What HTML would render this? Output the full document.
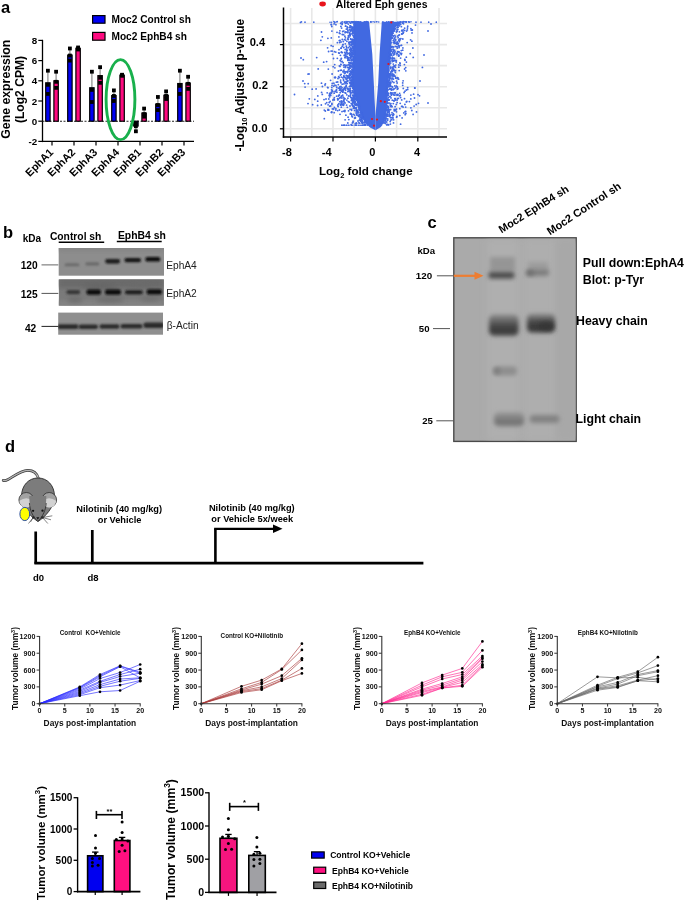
<!DOCTYPE html>
<html><head><meta charset="utf-8"><style>
html,body{margin:0;padding:0;background:#fff;}
svg{display:block;will-change:transform;}
text{font-family:"Liberation Sans",sans-serif;}
</style></head><body>
<svg width="685" height="902" viewBox="0 0 685 902">
<rect width="685" height="902" fill="#fff"/>
<text x="1.00" y="13.10" font-size="16.5" font-weight="bold" text-anchor="start" fill="#000" >a</text>
<line x1="42.50" y1="39.80" x2="42.50" y2="142.10" stroke="#000" stroke-width="1.3" />
<line x1="38.30" y1="40.40" x2="42.50" y2="40.40" stroke="#000" stroke-width="1.2" />
<text x="37.30" y="43.90" font-size="9.8" font-weight="bold" text-anchor="end" fill="#000" >8</text>
<line x1="38.30" y1="60.60" x2="42.50" y2="60.60" stroke="#000" stroke-width="1.2" />
<text x="37.30" y="64.10" font-size="9.8" font-weight="bold" text-anchor="end" fill="#000" >6</text>
<line x1="38.30" y1="80.80" x2="42.50" y2="80.80" stroke="#000" stroke-width="1.2" />
<text x="37.30" y="84.30" font-size="9.8" font-weight="bold" text-anchor="end" fill="#000" >4</text>
<line x1="38.30" y1="101.00" x2="42.50" y2="101.00" stroke="#000" stroke-width="1.2" />
<text x="37.30" y="104.50" font-size="9.8" font-weight="bold" text-anchor="end" fill="#000" >2</text>
<line x1="38.30" y1="121.20" x2="42.50" y2="121.20" stroke="#000" stroke-width="1.2" />
<text x="37.30" y="124.70" font-size="9.8" font-weight="bold" text-anchor="end" fill="#000" >0</text>
<line x1="38.30" y1="141.40" x2="42.50" y2="141.40" stroke="#000" stroke-width="1.2" />
<text x="37.30" y="144.90" font-size="9.8" font-weight="bold" text-anchor="end" fill="#000" >-2</text>
<line x1="41.90" y1="141.40" x2="194.00" y2="141.40" stroke="#000" stroke-width="1.4" />
<line x1="42.50" y1="121.20" x2="194.00" y2="121.20" stroke="#222" stroke-width="1.1" stroke-dasharray="2,1.5"/>
<line x1="52.00" y1="141.40" x2="52.00" y2="145.40" stroke="#000" stroke-width="1.2" />
<line x1="47.90" y1="82.82" x2="47.90" y2="70.70" stroke="#8a8a8a" stroke-width="1.2" />
<rect x="45.70" y="82.82" width="4.40" height="38.38" fill="#0000f5" stroke="#000" stroke-width="1.2" />
<rect x="46.00" y="68.80" width="3.80" height="3.80" fill="#000" stroke="none" stroke-width="0" />
<rect x="46.00" y="82.94" width="3.80" height="3.80" fill="#000" stroke="none" stroke-width="0" />
<rect x="46.00" y="92.03" width="3.80" height="3.80" fill="#000" stroke="none" stroke-width="0" />
<line x1="56.10" y1="80.80" x2="56.10" y2="71.71" stroke="#8a8a8a" stroke-width="1.2" />
<rect x="53.90" y="80.80" width="4.40" height="40.40" fill="#ff0a80" stroke="#000" stroke-width="1.2" />
<rect x="54.20" y="69.81" width="3.80" height="3.80" fill="#000" stroke="none" stroke-width="0" />
<rect x="54.20" y="79.91" width="3.80" height="3.80" fill="#000" stroke="none" stroke-width="0" />
<rect x="54.20" y="85.97" width="3.80" height="3.80" fill="#000" stroke="none" stroke-width="0" />
<text transform="translate(54.00,153.00) rotate(-45)" font-size="10.8" font-weight="bold" text-anchor="end">EphA1</text>
<line x1="74.00" y1="141.40" x2="74.00" y2="145.40" stroke="#000" stroke-width="1.2" />
<line x1="69.90" y1="55.05" x2="69.90" y2="48.48" stroke="#8a8a8a" stroke-width="1.2" />
<rect x="67.70" y="55.05" width="4.40" height="66.16" fill="#0000f5" stroke="#000" stroke-width="1.2" />
<rect x="68.00" y="46.58" width="3.80" height="3.80" fill="#000" stroke="none" stroke-width="0" />
<rect x="68.00" y="53.65" width="3.80" height="3.80" fill="#000" stroke="none" stroke-width="0" />
<rect x="68.00" y="58.70" width="3.80" height="3.80" fill="#000" stroke="none" stroke-width="0" />
<line x1="78.10" y1="48.28" x2="78.10" y2="47.47" stroke="#8a8a8a" stroke-width="1.2" />
<rect x="75.90" y="48.28" width="4.40" height="72.92" fill="#ff0a80" stroke="#000" stroke-width="1.2" />
<rect x="76.20" y="45.57" width="3.80" height="3.80" fill="#000" stroke="none" stroke-width="0" />
<rect x="76.20" y="46.58" width="3.80" height="3.80" fill="#000" stroke="none" stroke-width="0" />
<rect x="76.20" y="47.59" width="3.80" height="3.80" fill="#000" stroke="none" stroke-width="0" />
<text transform="translate(76.00,153.00) rotate(-45)" font-size="10.8" font-weight="bold" text-anchor="end">EphA2</text>
<line x1="96.00" y1="141.40" x2="96.00" y2="145.40" stroke="#000" stroke-width="1.2" />
<line x1="91.90" y1="87.77" x2="91.90" y2="71.71" stroke="#8a8a8a" stroke-width="1.2" />
<rect x="89.70" y="87.77" width="4.40" height="33.43" fill="#0000f5" stroke="#000" stroke-width="1.2" />
<rect x="90.00" y="69.81" width="3.80" height="3.80" fill="#000" stroke="none" stroke-width="0" />
<rect x="90.00" y="87.99" width="3.80" height="3.80" fill="#000" stroke="none" stroke-width="0" />
<rect x="90.00" y="100.11" width="3.80" height="3.80" fill="#000" stroke="none" stroke-width="0" />
<line x1="100.10" y1="75.65" x2="100.10" y2="67.17" stroke="#8a8a8a" stroke-width="1.2" />
<rect x="97.90" y="75.65" width="4.40" height="45.55" fill="#ff0a80" stroke="#000" stroke-width="1.2" />
<rect x="98.20" y="65.27" width="3.80" height="3.80" fill="#000" stroke="none" stroke-width="0" />
<rect x="98.20" y="75.87" width="3.80" height="3.80" fill="#000" stroke="none" stroke-width="0" />
<rect x="98.20" y="80.92" width="3.80" height="3.80" fill="#000" stroke="none" stroke-width="0" />
<text transform="translate(98.00,153.00) rotate(-45)" font-size="10.8" font-weight="bold" text-anchor="end">EphA3</text>
<line x1="118.00" y1="141.40" x2="118.00" y2="145.40" stroke="#000" stroke-width="1.2" />
<line x1="113.90" y1="95.55" x2="113.90" y2="90.40" stroke="#8a8a8a" stroke-width="1.2" />
<rect x="111.70" y="95.55" width="4.40" height="25.65" fill="#0000f5" stroke="#000" stroke-width="1.2" />
<rect x="112.00" y="88.50" width="3.80" height="3.80" fill="#000" stroke="none" stroke-width="0" />
<rect x="112.00" y="94.05" width="3.80" height="3.80" fill="#000" stroke="none" stroke-width="0" />
<rect x="112.00" y="99.10" width="3.80" height="3.80" fill="#000" stroke="none" stroke-width="0" />
<line x1="122.10" y1="75.14" x2="122.10" y2="74.74" stroke="#8a8a8a" stroke-width="1.2" />
<rect x="119.90" y="75.14" width="4.40" height="46.06" fill="#ff0a80" stroke="#000" stroke-width="1.2" />
<rect x="120.20" y="72.84" width="3.80" height="3.80" fill="#000" stroke="none" stroke-width="0" />
<rect x="120.20" y="73.34" width="3.80" height="3.80" fill="#000" stroke="none" stroke-width="0" />
<rect x="120.20" y="73.85" width="3.80" height="3.80" fill="#000" stroke="none" stroke-width="0" />
<text transform="translate(120.00,153.00) rotate(-45)" font-size="10.8" font-weight="bold" text-anchor="end">EphA4</text>
<line x1="140.00" y1="141.40" x2="140.00" y2="145.40" stroke="#000" stroke-width="1.2" />
<line x1="135.90" y1="126.05" x2="135.90" y2="131.30" stroke="#8a8a8a" stroke-width="1.2" />
<rect x="133.70" y="121.20" width="4.40" height="4.85" fill="#0000f5" stroke="#000" stroke-width="1.2" />
<rect x="134.00" y="121.32" width="3.80" height="3.80" fill="#000" stroke="none" stroke-width="0" />
<rect x="134.00" y="124.35" width="3.80" height="3.80" fill="#000" stroke="none" stroke-width="0" />
<rect x="134.00" y="129.40" width="3.80" height="3.80" fill="#000" stroke="none" stroke-width="0" />
<line x1="144.10" y1="113.02" x2="144.10" y2="108.58" stroke="#8a8a8a" stroke-width="1.2" />
<rect x="141.90" y="113.02" width="4.40" height="8.18" fill="#ff0a80" stroke="#000" stroke-width="1.2" />
<rect x="142.20" y="106.67" width="3.80" height="3.80" fill="#000" stroke="none" stroke-width="0" />
<rect x="142.20" y="112.23" width="3.80" height="3.80" fill="#000" stroke="none" stroke-width="0" />
<rect x="142.20" y="114.75" width="3.80" height="3.80" fill="#000" stroke="none" stroke-width="0" />
<text transform="translate(142.00,153.00) rotate(-45)" font-size="10.8" font-weight="bold" text-anchor="end">EphB1</text>
<line x1="162.00" y1="141.40" x2="162.00" y2="145.40" stroke="#000" stroke-width="1.2" />
<line x1="157.90" y1="104.03" x2="157.90" y2="96.96" stroke="#8a8a8a" stroke-width="1.2" />
<rect x="155.70" y="104.03" width="4.40" height="17.17" fill="#0000f5" stroke="#000" stroke-width="1.2" />
<rect x="156.00" y="95.06" width="3.80" height="3.80" fill="#000" stroke="none" stroke-width="0" />
<rect x="156.00" y="103.14" width="3.80" height="3.80" fill="#000" stroke="none" stroke-width="0" />
<rect x="156.00" y="108.19" width="3.80" height="3.80" fill="#000" stroke="none" stroke-width="0" />
<line x1="166.10" y1="95.24" x2="166.10" y2="91.41" stroke="#8a8a8a" stroke-width="1.2" />
<rect x="163.90" y="95.24" width="4.40" height="25.96" fill="#ff0a80" stroke="#000" stroke-width="1.2" />
<rect x="164.20" y="89.50" width="3.80" height="3.80" fill="#000" stroke="none" stroke-width="0" />
<rect x="164.20" y="94.05" width="3.80" height="3.80" fill="#000" stroke="none" stroke-width="0" />
<rect x="164.20" y="97.08" width="3.80" height="3.80" fill="#000" stroke="none" stroke-width="0" />
<text transform="translate(164.00,153.00) rotate(-45)" font-size="10.8" font-weight="bold" text-anchor="end">EphB2</text>
<line x1="184.00" y1="141.40" x2="184.00" y2="145.40" stroke="#000" stroke-width="1.2" />
<line x1="179.90" y1="83.53" x2="179.90" y2="70.70" stroke="#8a8a8a" stroke-width="1.2" />
<rect x="177.70" y="83.53" width="4.40" height="37.67" fill="#0000f5" stroke="#000" stroke-width="1.2" />
<rect x="178.00" y="68.80" width="3.80" height="3.80" fill="#000" stroke="none" stroke-width="0" />
<rect x="178.00" y="83.95" width="3.80" height="3.80" fill="#000" stroke="none" stroke-width="0" />
<rect x="178.00" y="92.03" width="3.80" height="3.80" fill="#000" stroke="none" stroke-width="0" />
<line x1="188.10" y1="83.02" x2="188.10" y2="76.76" stroke="#8a8a8a" stroke-width="1.2" />
<rect x="185.90" y="83.02" width="4.40" height="38.18" fill="#ff0a80" stroke="#000" stroke-width="1.2" />
<rect x="186.20" y="74.86" width="3.80" height="3.80" fill="#000" stroke="none" stroke-width="0" />
<rect x="186.20" y="81.93" width="3.80" height="3.80" fill="#000" stroke="none" stroke-width="0" />
<rect x="186.20" y="86.98" width="3.80" height="3.80" fill="#000" stroke="none" stroke-width="0" />
<text transform="translate(186.00,153.00) rotate(-45)" font-size="10.8" font-weight="bold" text-anchor="end">EphB3</text>
<ellipse cx="120.5" cy="99.6" rx="14.4" ry="40.0" fill="none" stroke="#19b04c" stroke-width="2.9"/>
<rect x="92.60" y="15.60" width="12.40" height="7.60" fill="#0000f5" stroke="#000" stroke-width="1.2" />
<rect x="92.60" y="32.40" width="12.40" height="7.80" fill="#ff0a80" stroke="#000" stroke-width="1.2" />
<text x="111.50" y="22.60" font-size="10.15" font-weight="bold" text-anchor="start" fill="#000" >Moc2 Control sh</text>
<text x="111.50" y="39.60" font-size="10.15" font-weight="bold" text-anchor="start" fill="#000" >Moc2 EphB4 sh</text>
<text transform="translate(10.4,89.2) rotate(-90)" font-size="12.3" font-weight="bold" text-anchor="middle">Gene expression</text>
<text transform="translate(23.9,89.5) rotate(-90)" font-size="12.1" font-weight="bold" text-anchor="middle">(Log2 CPM)</text>
<line x1="290.60" y1="8.00" x2="290.60" y2="137.00" stroke="#e8e8e8" stroke-width="1.6" />
<line x1="311.80" y1="8.00" x2="311.80" y2="137.00" stroke="#e8e8e8" stroke-width="1.6" />
<line x1="333.00" y1="8.00" x2="333.00" y2="137.00" stroke="#e8e8e8" stroke-width="1.6" />
<line x1="354.20" y1="8.00" x2="354.20" y2="137.00" stroke="#e8e8e8" stroke-width="1.6" />
<line x1="375.40" y1="8.00" x2="375.40" y2="137.00" stroke="#e8e8e8" stroke-width="1.6" />
<line x1="396.60" y1="8.00" x2="396.60" y2="137.00" stroke="#e8e8e8" stroke-width="1.6" />
<line x1="417.80" y1="8.00" x2="417.80" y2="137.00" stroke="#e8e8e8" stroke-width="1.6" />
<line x1="439.00" y1="8.00" x2="439.00" y2="137.00" stroke="#e8e8e8" stroke-width="1.6" />
<line x1="283.50" y1="128.80" x2="447.00" y2="128.80" stroke="#e8e8e8" stroke-width="1.6" />
<line x1="283.50" y1="107.75" x2="447.00" y2="107.75" stroke="#e8e8e8" stroke-width="1.6" />
<line x1="283.50" y1="86.70" x2="447.00" y2="86.70" stroke="#e8e8e8" stroke-width="1.6" />
<line x1="283.50" y1="65.65" x2="447.00" y2="65.65" stroke="#e8e8e8" stroke-width="1.6" />
<line x1="283.50" y1="44.60" x2="447.00" y2="44.60" stroke="#e8e8e8" stroke-width="1.6" />
<line x1="283.50" y1="23.55" x2="447.00" y2="23.55" stroke="#e8e8e8" stroke-width="1.6" />
<polygon points="353.4,21.7 354,39 352.6,68 351.2,83 355.5,97.6 360,112 365,122.4 370,127.5 375.5,130.2 375.5,116 374.6,100 373.8,83 372.3,54 369.1,21.7" fill="#4169e1"/>
<polygon points="381.8,21.7 379.6,54 378.2,83 376.8,100 375.5,116 375.5,130.2 381,127 385.5,118 387.7,97.6 388.4,83 390.5,54 392,35 395,28 401,21.7" fill="#4169e1"/>
<circle cx="349.6" cy="46.5" r="0.92" fill="#4169e1"/>
<circle cx="348.0" cy="60.1" r="0.92" fill="#4169e1"/>
<circle cx="353.2" cy="86.4" r="0.92" fill="#4169e1"/>
<circle cx="342.2" cy="23.4" r="0.92" fill="#4169e1"/>
<circle cx="353.2" cy="48.7" r="0.92" fill="#4169e1"/>
<circle cx="364.2" cy="124.6" r="0.92" fill="#4169e1"/>
<circle cx="355.8" cy="108.2" r="0.92" fill="#4169e1"/>
<circle cx="353.0" cy="87.8" r="0.92" fill="#4169e1"/>
<circle cx="339.8" cy="87.4" r="0.92" fill="#4169e1"/>
<circle cx="343.9" cy="75.9" r="0.92" fill="#4169e1"/>
<circle cx="354.6" cy="91.2" r="0.92" fill="#4169e1"/>
<circle cx="351.5" cy="100.1" r="0.92" fill="#4169e1"/>
<circle cx="354.6" cy="53.0" r="0.92" fill="#4169e1"/>
<circle cx="356.8" cy="111.1" r="0.92" fill="#4169e1"/>
<circle cx="341.8" cy="96.0" r="0.92" fill="#4169e1"/>
<circle cx="338.6" cy="95.6" r="0.92" fill="#4169e1"/>
<circle cx="343.1" cy="62.7" r="0.92" fill="#4169e1"/>
<circle cx="334.9" cy="67.8" r="0.92" fill="#4169e1"/>
<circle cx="361.0" cy="112.5" r="0.92" fill="#4169e1"/>
<circle cx="353.7" cy="36.0" r="0.92" fill="#4169e1"/>
<circle cx="362.0" cy="121.4" r="0.92" fill="#4169e1"/>
<circle cx="351.2" cy="86.5" r="0.92" fill="#4169e1"/>
<circle cx="350.1" cy="74.2" r="0.92" fill="#4169e1"/>
<circle cx="348.4" cy="58.1" r="0.92" fill="#4169e1"/>
<circle cx="336.4" cy="82.2" r="0.92" fill="#4169e1"/>
<circle cx="336.9" cy="92.2" r="0.92" fill="#4169e1"/>
<circle cx="328.0" cy="110.2" r="0.92" fill="#4169e1"/>
<circle cx="353.9" cy="91.1" r="0.92" fill="#4169e1"/>
<circle cx="337.7" cy="110.6" r="0.92" fill="#4169e1"/>
<circle cx="357.1" cy="115.2" r="0.92" fill="#4169e1"/>
<circle cx="354.7" cy="95.5" r="0.92" fill="#4169e1"/>
<circle cx="354.2" cy="107.7" r="0.92" fill="#4169e1"/>
<circle cx="354.4" cy="51.4" r="0.92" fill="#4169e1"/>
<circle cx="328.8" cy="110.0" r="0.92" fill="#4169e1"/>
<circle cx="343.9" cy="31.1" r="0.92" fill="#4169e1"/>
<circle cx="353.1" cy="64.3" r="0.92" fill="#4169e1"/>
<circle cx="344.6" cy="52.3" r="0.92" fill="#4169e1"/>
<circle cx="361.2" cy="111.9" r="0.92" fill="#4169e1"/>
<circle cx="353.1" cy="85.3" r="0.92" fill="#4169e1"/>
<circle cx="353.7" cy="96.0" r="0.92" fill="#4169e1"/>
<circle cx="334.2" cy="112.7" r="0.92" fill="#4169e1"/>
<circle cx="308.0" cy="74.1" r="0.92" fill="#4169e1"/>
<circle cx="354.2" cy="53.9" r="0.92" fill="#4169e1"/>
<circle cx="352.7" cy="83.8" r="0.92" fill="#4169e1"/>
<circle cx="351.7" cy="42.3" r="0.92" fill="#4169e1"/>
<circle cx="352.1" cy="84.9" r="0.92" fill="#4169e1"/>
<circle cx="340.9" cy="26.4" r="0.92" fill="#4169e1"/>
<circle cx="332.5" cy="54.3" r="0.92" fill="#4169e1"/>
<circle cx="359.3" cy="114.4" r="0.92" fill="#4169e1"/>
<circle cx="348.8" cy="69.4" r="0.92" fill="#4169e1"/>
<circle cx="347.9" cy="88.3" r="0.92" fill="#4169e1"/>
<circle cx="346.2" cy="79.6" r="0.92" fill="#4169e1"/>
<circle cx="359.9" cy="118.9" r="0.92" fill="#4169e1"/>
<circle cx="345.3" cy="66.4" r="0.92" fill="#4169e1"/>
<circle cx="352.6" cy="46.5" r="0.92" fill="#4169e1"/>
<circle cx="361.7" cy="122.7" r="0.92" fill="#4169e1"/>
<circle cx="353.0" cy="78.5" r="0.92" fill="#4169e1"/>
<circle cx="348.2" cy="64.8" r="0.92" fill="#4169e1"/>
<circle cx="348.3" cy="24.1" r="0.92" fill="#4169e1"/>
<circle cx="353.5" cy="87.1" r="0.92" fill="#4169e1"/>
<circle cx="349.4" cy="86.6" r="0.92" fill="#4169e1"/>
<circle cx="352.3" cy="92.0" r="0.92" fill="#4169e1"/>
<circle cx="346.8" cy="94.8" r="0.92" fill="#4169e1"/>
<circle cx="354.6" cy="24.3" r="0.92" fill="#4169e1"/>
<circle cx="332.1" cy="91.6" r="0.92" fill="#4169e1"/>
<circle cx="350.8" cy="47.9" r="0.92" fill="#4169e1"/>
<circle cx="350.0" cy="83.0" r="0.92" fill="#4169e1"/>
<circle cx="351.9" cy="59.5" r="0.92" fill="#4169e1"/>
<circle cx="348.1" cy="60.0" r="0.92" fill="#4169e1"/>
<circle cx="351.5" cy="52.9" r="0.92" fill="#4169e1"/>
<circle cx="358.0" cy="101.5" r="0.92" fill="#4169e1"/>
<circle cx="343.6" cy="80.6" r="0.92" fill="#4169e1"/>
<circle cx="353.0" cy="53.9" r="0.92" fill="#4169e1"/>
<circle cx="357.3" cy="104.8" r="0.92" fill="#4169e1"/>
<circle cx="351.4" cy="41.3" r="0.92" fill="#4169e1"/>
<circle cx="355.2" cy="93.9" r="0.92" fill="#4169e1"/>
<circle cx="351.9" cy="55.2" r="0.92" fill="#4169e1"/>
<circle cx="356.2" cy="107.9" r="0.92" fill="#4169e1"/>
<circle cx="359.6" cy="110.1" r="0.92" fill="#4169e1"/>
<circle cx="347.3" cy="56.7" r="0.92" fill="#4169e1"/>
<circle cx="357.9" cy="113.1" r="0.92" fill="#4169e1"/>
<circle cx="354.3" cy="45.2" r="0.92" fill="#4169e1"/>
<circle cx="351.8" cy="76.6" r="0.92" fill="#4169e1"/>
<circle cx="346.6" cy="105.1" r="0.92" fill="#4169e1"/>
<circle cx="353.1" cy="40.9" r="0.92" fill="#4169e1"/>
<circle cx="352.2" cy="105.1" r="0.92" fill="#4169e1"/>
<circle cx="356.4" cy="105.0" r="0.92" fill="#4169e1"/>
<circle cx="353.0" cy="35.4" r="0.92" fill="#4169e1"/>
<circle cx="356.7" cy="103.8" r="0.92" fill="#4169e1"/>
<circle cx="350.8" cy="57.7" r="0.92" fill="#4169e1"/>
<circle cx="350.5" cy="65.2" r="0.92" fill="#4169e1"/>
<circle cx="362.6" cy="116.8" r="0.92" fill="#4169e1"/>
<circle cx="334.8" cy="22.5" r="0.92" fill="#4169e1"/>
<circle cx="331.5" cy="112.6" r="0.92" fill="#4169e1"/>
<circle cx="333.2" cy="66.7" r="0.92" fill="#4169e1"/>
<circle cx="362.4" cy="117.5" r="0.92" fill="#4169e1"/>
<circle cx="344.7" cy="98.8" r="0.92" fill="#4169e1"/>
<circle cx="349.7" cy="90.3" r="0.92" fill="#4169e1"/>
<circle cx="352.0" cy="51.8" r="0.92" fill="#4169e1"/>
<circle cx="354.7" cy="45.4" r="0.92" fill="#4169e1"/>
<circle cx="350.4" cy="82.6" r="0.92" fill="#4169e1"/>
<circle cx="359.1" cy="105.4" r="0.92" fill="#4169e1"/>
<circle cx="354.7" cy="115.1" r="0.92" fill="#4169e1"/>
<circle cx="348.1" cy="117.2" r="0.92" fill="#4169e1"/>
<circle cx="356.8" cy="114.7" r="0.92" fill="#4169e1"/>
<circle cx="345.4" cy="23.4" r="0.92" fill="#4169e1"/>
<circle cx="353.0" cy="39.7" r="0.92" fill="#4169e1"/>
<circle cx="349.6" cy="90.3" r="0.92" fill="#4169e1"/>
<circle cx="334.7" cy="64.6" r="0.92" fill="#4169e1"/>
<circle cx="350.4" cy="85.1" r="0.92" fill="#4169e1"/>
<circle cx="341.2" cy="48.0" r="0.92" fill="#4169e1"/>
<circle cx="343.1" cy="71.2" r="0.92" fill="#4169e1"/>
<circle cx="353.0" cy="58.2" r="0.92" fill="#4169e1"/>
<circle cx="341.4" cy="77.1" r="0.92" fill="#4169e1"/>
<circle cx="344.5" cy="39.6" r="0.92" fill="#4169e1"/>
<circle cx="352.4" cy="116.9" r="0.92" fill="#4169e1"/>
<circle cx="359.8" cy="106.8" r="0.92" fill="#4169e1"/>
<circle cx="339.9" cy="86.7" r="0.92" fill="#4169e1"/>
<circle cx="352.9" cy="27.1" r="0.92" fill="#4169e1"/>
<circle cx="349.7" cy="49.7" r="0.92" fill="#4169e1"/>
<circle cx="349.7" cy="65.6" r="0.92" fill="#4169e1"/>
<circle cx="358.4" cy="102.0" r="0.92" fill="#4169e1"/>
<circle cx="354.2" cy="27.6" r="0.92" fill="#4169e1"/>
<circle cx="354.9" cy="34.8" r="0.92" fill="#4169e1"/>
<circle cx="353.0" cy="122.4" r="0.92" fill="#4169e1"/>
<circle cx="350.3" cy="30.9" r="0.92" fill="#4169e1"/>
<circle cx="352.1" cy="54.5" r="0.92" fill="#4169e1"/>
<circle cx="347.3" cy="58.2" r="0.92" fill="#4169e1"/>
<circle cx="349.6" cy="82.4" r="0.92" fill="#4169e1"/>
<circle cx="352.6" cy="41.7" r="0.92" fill="#4169e1"/>
<circle cx="349.7" cy="34.7" r="0.92" fill="#4169e1"/>
<circle cx="353.1" cy="95.8" r="0.92" fill="#4169e1"/>
<circle cx="353.8" cy="30.2" r="0.92" fill="#4169e1"/>
<circle cx="348.0" cy="60.4" r="0.92" fill="#4169e1"/>
<circle cx="355.2" cy="102.6" r="0.92" fill="#4169e1"/>
<circle cx="352.3" cy="104.5" r="0.92" fill="#4169e1"/>
<circle cx="350.9" cy="66.5" r="0.92" fill="#4169e1"/>
<circle cx="345.1" cy="73.1" r="0.92" fill="#4169e1"/>
<circle cx="345.9" cy="65.3" r="0.92" fill="#4169e1"/>
<circle cx="352.0" cy="69.5" r="0.92" fill="#4169e1"/>
<circle cx="344.9" cy="77.2" r="0.92" fill="#4169e1"/>
<circle cx="351.3" cy="29.4" r="0.92" fill="#4169e1"/>
<circle cx="339.4" cy="65.9" r="0.92" fill="#4169e1"/>
<circle cx="361.3" cy="118.5" r="0.92" fill="#4169e1"/>
<circle cx="351.7" cy="114.5" r="0.92" fill="#4169e1"/>
<circle cx="350.6" cy="49.0" r="0.92" fill="#4169e1"/>
<circle cx="343.6" cy="34.7" r="0.92" fill="#4169e1"/>
<circle cx="339.5" cy="90.2" r="0.92" fill="#4169e1"/>
<circle cx="351.2" cy="103.6" r="0.92" fill="#4169e1"/>
<circle cx="351.2" cy="97.6" r="0.92" fill="#4169e1"/>
<circle cx="349.1" cy="32.6" r="0.92" fill="#4169e1"/>
<circle cx="353.8" cy="22.5" r="0.92" fill="#4169e1"/>
<circle cx="358.0" cy="101.8" r="0.92" fill="#4169e1"/>
<circle cx="354.5" cy="31.5" r="0.92" fill="#4169e1"/>
<circle cx="360.4" cy="112.7" r="0.92" fill="#4169e1"/>
<circle cx="342.1" cy="24.4" r="0.92" fill="#4169e1"/>
<circle cx="342.3" cy="34.5" r="0.92" fill="#4169e1"/>
<circle cx="342.5" cy="91.4" r="0.92" fill="#4169e1"/>
<circle cx="359.3" cy="120.1" r="0.92" fill="#4169e1"/>
<circle cx="358.8" cy="104.3" r="0.92" fill="#4169e1"/>
<circle cx="353.1" cy="101.0" r="0.92" fill="#4169e1"/>
<circle cx="355.6" cy="95.7" r="0.92" fill="#4169e1"/>
<circle cx="338.4" cy="99.1" r="0.92" fill="#4169e1"/>
<circle cx="352.4" cy="28.3" r="0.92" fill="#4169e1"/>
<circle cx="340.6" cy="80.1" r="0.92" fill="#4169e1"/>
<circle cx="353.7" cy="46.9" r="0.92" fill="#4169e1"/>
<circle cx="348.4" cy="47.7" r="0.92" fill="#4169e1"/>
<circle cx="354.1" cy="99.6" r="0.92" fill="#4169e1"/>
<circle cx="351.0" cy="59.8" r="0.92" fill="#4169e1"/>
<circle cx="350.8" cy="58.1" r="0.92" fill="#4169e1"/>
<circle cx="350.4" cy="30.6" r="0.92" fill="#4169e1"/>
<circle cx="362.7" cy="122.2" r="0.92" fill="#4169e1"/>
<circle cx="356.2" cy="99.0" r="0.92" fill="#4169e1"/>
<circle cx="345.8" cy="93.2" r="0.92" fill="#4169e1"/>
<circle cx="350.1" cy="91.4" r="0.92" fill="#4169e1"/>
<circle cx="346.5" cy="71.8" r="0.92" fill="#4169e1"/>
<circle cx="361.5" cy="114.4" r="0.92" fill="#4169e1"/>
<circle cx="345.6" cy="31.9" r="0.92" fill="#4169e1"/>
<circle cx="358.5" cy="116.4" r="0.92" fill="#4169e1"/>
<circle cx="345.2" cy="67.6" r="0.92" fill="#4169e1"/>
<circle cx="353.2" cy="41.2" r="0.92" fill="#4169e1"/>
<circle cx="349.2" cy="42.5" r="0.92" fill="#4169e1"/>
<circle cx="352.9" cy="54.4" r="0.92" fill="#4169e1"/>
<circle cx="334.2" cy="93.2" r="0.92" fill="#4169e1"/>
<circle cx="346.3" cy="52.5" r="0.92" fill="#4169e1"/>
<circle cx="340.8" cy="64.6" r="0.92" fill="#4169e1"/>
<circle cx="350.6" cy="82.2" r="0.92" fill="#4169e1"/>
<circle cx="355.1" cy="44.4" r="0.92" fill="#4169e1"/>
<circle cx="350.4" cy="71.4" r="0.92" fill="#4169e1"/>
<circle cx="352.3" cy="39.7" r="0.92" fill="#4169e1"/>
<circle cx="344.3" cy="55.2" r="0.92" fill="#4169e1"/>
<circle cx="322.3" cy="36.8" r="0.92" fill="#4169e1"/>
<circle cx="347.4" cy="71.4" r="0.92" fill="#4169e1"/>
<circle cx="341.3" cy="70.2" r="0.92" fill="#4169e1"/>
<circle cx="354.1" cy="106.6" r="0.92" fill="#4169e1"/>
<circle cx="344.8" cy="71.6" r="0.92" fill="#4169e1"/>
<circle cx="357.4" cy="110.2" r="0.92" fill="#4169e1"/>
<circle cx="334.4" cy="97.6" r="0.92" fill="#4169e1"/>
<circle cx="352.1" cy="70.1" r="0.92" fill="#4169e1"/>
<circle cx="346.3" cy="46.2" r="0.92" fill="#4169e1"/>
<circle cx="332.9" cy="91.6" r="0.92" fill="#4169e1"/>
<circle cx="358.9" cy="109.9" r="0.92" fill="#4169e1"/>
<circle cx="353.3" cy="41.5" r="0.92" fill="#4169e1"/>
<circle cx="346.9" cy="41.3" r="0.92" fill="#4169e1"/>
<circle cx="344.9" cy="110.4" r="0.92" fill="#4169e1"/>
<circle cx="341.0" cy="48.3" r="0.92" fill="#4169e1"/>
<circle cx="350.9" cy="54.3" r="0.92" fill="#4169e1"/>
<circle cx="356.2" cy="97.1" r="0.92" fill="#4169e1"/>
<circle cx="342.7" cy="31.5" r="0.92" fill="#4169e1"/>
<circle cx="351.8" cy="52.1" r="0.92" fill="#4169e1"/>
<circle cx="344.9" cy="81.8" r="0.92" fill="#4169e1"/>
<circle cx="352.1" cy="22.7" r="0.92" fill="#4169e1"/>
<circle cx="349.5" cy="66.9" r="0.92" fill="#4169e1"/>
<circle cx="349.1" cy="43.6" r="0.92" fill="#4169e1"/>
<circle cx="362.1" cy="120.4" r="0.92" fill="#4169e1"/>
<circle cx="352.3" cy="78.1" r="0.92" fill="#4169e1"/>
<circle cx="347.3" cy="50.3" r="0.92" fill="#4169e1"/>
<circle cx="340.0" cy="33.6" r="0.92" fill="#4169e1"/>
<circle cx="362.5" cy="115.6" r="0.92" fill="#4169e1"/>
<circle cx="361.6" cy="119.0" r="0.92" fill="#4169e1"/>
<circle cx="348.3" cy="101.6" r="0.92" fill="#4169e1"/>
<circle cx="347.0" cy="52.4" r="0.92" fill="#4169e1"/>
<circle cx="343.1" cy="89.4" r="0.92" fill="#4169e1"/>
<circle cx="345.2" cy="49.4" r="0.92" fill="#4169e1"/>
<circle cx="358.0" cy="121.0" r="0.92" fill="#4169e1"/>
<circle cx="352.4" cy="77.2" r="0.92" fill="#4169e1"/>
<circle cx="350.6" cy="72.9" r="0.92" fill="#4169e1"/>
<circle cx="348.6" cy="96.0" r="0.92" fill="#4169e1"/>
<circle cx="351.5" cy="80.3" r="0.92" fill="#4169e1"/>
<circle cx="347.3" cy="88.5" r="0.92" fill="#4169e1"/>
<circle cx="340.0" cy="40.4" r="0.92" fill="#4169e1"/>
<circle cx="353.7" cy="89.5" r="0.92" fill="#4169e1"/>
<circle cx="363.3" cy="118.0" r="0.92" fill="#4169e1"/>
<circle cx="345.7" cy="56.1" r="0.92" fill="#4169e1"/>
<circle cx="347.2" cy="83.5" r="0.92" fill="#4169e1"/>
<circle cx="350.1" cy="88.7" r="0.92" fill="#4169e1"/>
<circle cx="353.4" cy="54.2" r="0.92" fill="#4169e1"/>
<circle cx="346.3" cy="29.1" r="0.92" fill="#4169e1"/>
<circle cx="352.2" cy="99.7" r="0.92" fill="#4169e1"/>
<circle cx="354.1" cy="98.2" r="0.92" fill="#4169e1"/>
<circle cx="351.6" cy="49.4" r="0.92" fill="#4169e1"/>
<circle cx="361.2" cy="111.9" r="0.92" fill="#4169e1"/>
<circle cx="351.6" cy="74.0" r="0.92" fill="#4169e1"/>
<circle cx="355.1" cy="101.2" r="0.92" fill="#4169e1"/>
<circle cx="351.1" cy="56.3" r="0.92" fill="#4169e1"/>
<circle cx="342.8" cy="77.8" r="0.92" fill="#4169e1"/>
<circle cx="341.4" cy="58.3" r="0.92" fill="#4169e1"/>
<circle cx="353.1" cy="33.5" r="0.92" fill="#4169e1"/>
<circle cx="354.4" cy="32.3" r="0.92" fill="#4169e1"/>
<circle cx="349.4" cy="102.2" r="0.92" fill="#4169e1"/>
<circle cx="353.9" cy="41.0" r="0.92" fill="#4169e1"/>
<circle cx="344.7" cy="64.9" r="0.92" fill="#4169e1"/>
<circle cx="350.0" cy="106.0" r="0.92" fill="#4169e1"/>
<circle cx="351.6" cy="83.0" r="0.92" fill="#4169e1"/>
<circle cx="352.8" cy="63.0" r="0.92" fill="#4169e1"/>
<circle cx="347.4" cy="76.3" r="0.92" fill="#4169e1"/>
<circle cx="353.3" cy="42.8" r="0.92" fill="#4169e1"/>
<circle cx="358.3" cy="102.5" r="0.92" fill="#4169e1"/>
<circle cx="343.7" cy="104.7" r="0.92" fill="#4169e1"/>
<circle cx="361.9" cy="119.8" r="0.92" fill="#4169e1"/>
<circle cx="347.0" cy="78.9" r="0.92" fill="#4169e1"/>
<circle cx="327.6" cy="87.3" r="0.92" fill="#4169e1"/>
<circle cx="353.1" cy="92.7" r="0.92" fill="#4169e1"/>
<circle cx="356.4" cy="110.6" r="0.92" fill="#4169e1"/>
<circle cx="343.9" cy="83.9" r="0.92" fill="#4169e1"/>
<circle cx="344.6" cy="22.2" r="0.92" fill="#4169e1"/>
<circle cx="350.1" cy="90.2" r="0.92" fill="#4169e1"/>
<circle cx="349.0" cy="75.9" r="0.92" fill="#4169e1"/>
<circle cx="350.1" cy="41.9" r="0.92" fill="#4169e1"/>
<circle cx="350.2" cy="25.8" r="0.92" fill="#4169e1"/>
<circle cx="350.2" cy="88.5" r="0.92" fill="#4169e1"/>
<circle cx="330.6" cy="80.3" r="0.92" fill="#4169e1"/>
<circle cx="361.4" cy="113.9" r="0.92" fill="#4169e1"/>
<circle cx="352.0" cy="103.6" r="0.92" fill="#4169e1"/>
<circle cx="352.0" cy="27.2" r="0.92" fill="#4169e1"/>
<circle cx="354.6" cy="46.0" r="0.92" fill="#4169e1"/>
<circle cx="334.6" cy="77.5" r="0.92" fill="#4169e1"/>
<circle cx="340.4" cy="55.3" r="0.92" fill="#4169e1"/>
<circle cx="354.8" cy="93.5" r="0.92" fill="#4169e1"/>
<circle cx="354.6" cy="110.4" r="0.92" fill="#4169e1"/>
<circle cx="355.3" cy="117.5" r="0.92" fill="#4169e1"/>
<circle cx="354.2" cy="98.2" r="0.92" fill="#4169e1"/>
<circle cx="340.5" cy="105.1" r="0.92" fill="#4169e1"/>
<circle cx="357.1" cy="110.7" r="0.92" fill="#4169e1"/>
<circle cx="353.1" cy="100.0" r="0.92" fill="#4169e1"/>
<circle cx="355.0" cy="33.2" r="0.92" fill="#4169e1"/>
<circle cx="353.6" cy="30.0" r="0.92" fill="#4169e1"/>
<circle cx="350.7" cy="38.6" r="0.92" fill="#4169e1"/>
<circle cx="350.6" cy="94.0" r="0.92" fill="#4169e1"/>
<circle cx="346.9" cy="65.5" r="0.92" fill="#4169e1"/>
<circle cx="350.4" cy="53.4" r="0.92" fill="#4169e1"/>
<circle cx="354.2" cy="100.0" r="0.92" fill="#4169e1"/>
<circle cx="339.3" cy="40.6" r="0.92" fill="#4169e1"/>
<circle cx="353.4" cy="96.1" r="0.92" fill="#4169e1"/>
<circle cx="349.2" cy="60.2" r="0.92" fill="#4169e1"/>
<circle cx="351.1" cy="83.4" r="0.92" fill="#4169e1"/>
<circle cx="353.3" cy="22.3" r="0.92" fill="#4169e1"/>
<circle cx="357.5" cy="102.7" r="0.92" fill="#4169e1"/>
<circle cx="352.5" cy="69.4" r="0.92" fill="#4169e1"/>
<circle cx="354.0" cy="43.6" r="0.92" fill="#4169e1"/>
<circle cx="353.0" cy="63.6" r="0.92" fill="#4169e1"/>
<circle cx="354.2" cy="24.8" r="0.92" fill="#4169e1"/>
<circle cx="350.8" cy="39.3" r="0.92" fill="#4169e1"/>
<circle cx="355.0" cy="28.2" r="0.92" fill="#4169e1"/>
<circle cx="350.4" cy="68.1" r="0.92" fill="#4169e1"/>
<circle cx="355.7" cy="94.5" r="0.92" fill="#4169e1"/>
<circle cx="350.8" cy="63.5" r="0.92" fill="#4169e1"/>
<circle cx="331.4" cy="24.7" r="0.92" fill="#4169e1"/>
<circle cx="354.5" cy="44.5" r="0.92" fill="#4169e1"/>
<circle cx="352.6" cy="70.9" r="0.92" fill="#4169e1"/>
<circle cx="350.6" cy="86.1" r="0.92" fill="#4169e1"/>
<circle cx="355.0" cy="34.8" r="0.92" fill="#4169e1"/>
<circle cx="354.6" cy="97.0" r="0.92" fill="#4169e1"/>
<circle cx="354.3" cy="103.1" r="0.92" fill="#4169e1"/>
<circle cx="361.9" cy="118.1" r="0.92" fill="#4169e1"/>
<circle cx="352.9" cy="47.7" r="0.92" fill="#4169e1"/>
<circle cx="352.7" cy="105.9" r="0.92" fill="#4169e1"/>
<circle cx="353.9" cy="57.5" r="0.92" fill="#4169e1"/>
<circle cx="331.1" cy="92.3" r="0.92" fill="#4169e1"/>
<circle cx="352.7" cy="83.0" r="0.92" fill="#4169e1"/>
<circle cx="354.4" cy="25.1" r="0.92" fill="#4169e1"/>
<circle cx="355.2" cy="39.5" r="0.92" fill="#4169e1"/>
<circle cx="347.7" cy="27.6" r="0.92" fill="#4169e1"/>
<circle cx="361.2" cy="114.7" r="0.92" fill="#4169e1"/>
<circle cx="361.9" cy="122.3" r="0.92" fill="#4169e1"/>
<circle cx="341.8" cy="104.8" r="0.92" fill="#4169e1"/>
<circle cx="364.5" cy="118.8" r="0.92" fill="#4169e1"/>
<circle cx="348.3" cy="53.4" r="0.92" fill="#4169e1"/>
<circle cx="364.5" cy="119.5" r="0.92" fill="#4169e1"/>
<circle cx="341.6" cy="52.2" r="0.92" fill="#4169e1"/>
<circle cx="351.9" cy="33.8" r="0.92" fill="#4169e1"/>
<circle cx="346.7" cy="56.4" r="0.92" fill="#4169e1"/>
<circle cx="362.9" cy="117.6" r="0.92" fill="#4169e1"/>
<circle cx="347.9" cy="98.2" r="0.92" fill="#4169e1"/>
<circle cx="354.6" cy="108.1" r="0.92" fill="#4169e1"/>
<circle cx="360.8" cy="117.1" r="0.92" fill="#4169e1"/>
<circle cx="352.4" cy="64.7" r="0.92" fill="#4169e1"/>
<circle cx="353.9" cy="102.3" r="0.92" fill="#4169e1"/>
<circle cx="353.7" cy="49.8" r="0.92" fill="#4169e1"/>
<circle cx="350.1" cy="96.2" r="0.92" fill="#4169e1"/>
<circle cx="352.9" cy="95.2" r="0.92" fill="#4169e1"/>
<circle cx="352.5" cy="72.2" r="0.92" fill="#4169e1"/>
<circle cx="356.1" cy="95.2" r="0.92" fill="#4169e1"/>
<circle cx="344.0" cy="70.1" r="0.92" fill="#4169e1"/>
<circle cx="354.6" cy="91.8" r="0.92" fill="#4169e1"/>
<circle cx="342.2" cy="46.4" r="0.92" fill="#4169e1"/>
<circle cx="339.5" cy="88.2" r="0.92" fill="#4169e1"/>
<circle cx="357.3" cy="111.8" r="0.92" fill="#4169e1"/>
<circle cx="353.4" cy="114.4" r="0.92" fill="#4169e1"/>
<circle cx="351.4" cy="56.4" r="0.92" fill="#4169e1"/>
<circle cx="351.6" cy="29.4" r="0.92" fill="#4169e1"/>
<circle cx="364.8" cy="120.4" r="0.92" fill="#4169e1"/>
<circle cx="352.1" cy="80.6" r="0.92" fill="#4169e1"/>
<circle cx="347.9" cy="30.3" r="0.92" fill="#4169e1"/>
<circle cx="354.8" cy="46.8" r="0.92" fill="#4169e1"/>
<circle cx="348.2" cy="37.7" r="0.92" fill="#4169e1"/>
<circle cx="352.7" cy="82.3" r="0.92" fill="#4169e1"/>
<circle cx="331.2" cy="45.7" r="0.92" fill="#4169e1"/>
<circle cx="349.4" cy="44.7" r="0.92" fill="#4169e1"/>
<circle cx="343.6" cy="65.2" r="0.92" fill="#4169e1"/>
<circle cx="342.2" cy="84.2" r="0.92" fill="#4169e1"/>
<circle cx="351.8" cy="77.1" r="0.92" fill="#4169e1"/>
<circle cx="354.9" cy="40.3" r="0.92" fill="#4169e1"/>
<circle cx="359.1" cy="107.0" r="0.92" fill="#4169e1"/>
<circle cx="331.2" cy="24.5" r="0.92" fill="#4169e1"/>
<circle cx="339.7" cy="42.5" r="0.92" fill="#4169e1"/>
<circle cx="350.8" cy="30.8" r="0.92" fill="#4169e1"/>
<circle cx="342.8" cy="44.9" r="0.92" fill="#4169e1"/>
<circle cx="346.2" cy="85.4" r="0.92" fill="#4169e1"/>
<circle cx="343.5" cy="100.4" r="0.92" fill="#4169e1"/>
<circle cx="348.1" cy="57.6" r="0.92" fill="#4169e1"/>
<circle cx="353.3" cy="67.9" r="0.92" fill="#4169e1"/>
<circle cx="353.9" cy="108.0" r="0.92" fill="#4169e1"/>
<circle cx="358.0" cy="105.9" r="0.92" fill="#4169e1"/>
<circle cx="348.8" cy="77.5" r="0.92" fill="#4169e1"/>
<circle cx="356.3" cy="97.0" r="0.92" fill="#4169e1"/>
<circle cx="350.0" cy="57.7" r="0.92" fill="#4169e1"/>
<circle cx="349.5" cy="29.4" r="0.92" fill="#4169e1"/>
<circle cx="353.2" cy="97.7" r="0.92" fill="#4169e1"/>
<circle cx="347.9" cy="88.8" r="0.92" fill="#4169e1"/>
<circle cx="352.2" cy="44.1" r="0.92" fill="#4169e1"/>
<circle cx="365.8" cy="124.6" r="0.92" fill="#4169e1"/>
<circle cx="353.6" cy="66.4" r="0.92" fill="#4169e1"/>
<circle cx="354.0" cy="44.4" r="0.92" fill="#4169e1"/>
<circle cx="355.3" cy="117.9" r="0.92" fill="#4169e1"/>
<circle cx="331.4" cy="112.1" r="0.92" fill="#4169e1"/>
<circle cx="334.6" cy="85.1" r="0.92" fill="#4169e1"/>
<circle cx="349.4" cy="77.2" r="0.92" fill="#4169e1"/>
<circle cx="348.8" cy="119.6" r="0.92" fill="#4169e1"/>
<circle cx="360.6" cy="119.8" r="0.92" fill="#4169e1"/>
<circle cx="354.6" cy="101.7" r="0.92" fill="#4169e1"/>
<circle cx="351.1" cy="124.7" r="0.92" fill="#4169e1"/>
<circle cx="335.8" cy="52.1" r="0.92" fill="#4169e1"/>
<circle cx="354.7" cy="41.0" r="0.92" fill="#4169e1"/>
<circle cx="354.2" cy="96.4" r="0.92" fill="#4169e1"/>
<circle cx="346.3" cy="75.5" r="0.92" fill="#4169e1"/>
<circle cx="345.5" cy="26.2" r="0.92" fill="#4169e1"/>
<circle cx="351.0" cy="50.4" r="0.92" fill="#4169e1"/>
<circle cx="345.1" cy="57.5" r="0.92" fill="#4169e1"/>
<circle cx="355.0" cy="98.9" r="0.92" fill="#4169e1"/>
<circle cx="352.8" cy="32.6" r="0.92" fill="#4169e1"/>
<circle cx="353.7" cy="64.3" r="0.92" fill="#4169e1"/>
<circle cx="345.4" cy="37.8" r="0.92" fill="#4169e1"/>
<circle cx="329.8" cy="94.1" r="0.92" fill="#4169e1"/>
<circle cx="352.4" cy="122.9" r="0.92" fill="#4169e1"/>
<circle cx="353.2" cy="60.4" r="0.92" fill="#4169e1"/>
<circle cx="350.4" cy="54.1" r="0.92" fill="#4169e1"/>
<circle cx="347.9" cy="76.2" r="0.92" fill="#4169e1"/>
<circle cx="341.1" cy="59.1" r="0.92" fill="#4169e1"/>
<circle cx="350.5" cy="51.4" r="0.92" fill="#4169e1"/>
<circle cx="350.6" cy="113.3" r="0.92" fill="#4169e1"/>
<circle cx="352.9" cy="52.6" r="0.92" fill="#4169e1"/>
<circle cx="359.3" cy="105.1" r="0.92" fill="#4169e1"/>
<circle cx="350.1" cy="35.5" r="0.92" fill="#4169e1"/>
<circle cx="352.0" cy="77.2" r="0.92" fill="#4169e1"/>
<circle cx="353.5" cy="27.2" r="0.92" fill="#4169e1"/>
<circle cx="353.8" cy="101.3" r="0.92" fill="#4169e1"/>
<circle cx="356.2" cy="122.9" r="0.92" fill="#4169e1"/>
<circle cx="366.7" cy="122.9" r="0.92" fill="#4169e1"/>
<circle cx="355.3" cy="41.1" r="0.92" fill="#4169e1"/>
<circle cx="351.3" cy="66.5" r="0.92" fill="#4169e1"/>
<circle cx="349.6" cy="27.3" r="0.92" fill="#4169e1"/>
<circle cx="352.6" cy="31.7" r="0.92" fill="#4169e1"/>
<circle cx="343.8" cy="47.5" r="0.92" fill="#4169e1"/>
<circle cx="352.1" cy="65.1" r="0.92" fill="#4169e1"/>
<circle cx="351.1" cy="26.5" r="0.92" fill="#4169e1"/>
<circle cx="345.9" cy="86.6" r="0.92" fill="#4169e1"/>
<circle cx="351.8" cy="116.0" r="0.92" fill="#4169e1"/>
<circle cx="354.1" cy="47.5" r="0.92" fill="#4169e1"/>
<circle cx="346.9" cy="100.1" r="0.92" fill="#4169e1"/>
<circle cx="341.1" cy="74.4" r="0.92" fill="#4169e1"/>
<circle cx="350.8" cy="78.8" r="0.92" fill="#4169e1"/>
<circle cx="355.4" cy="39.4" r="0.92" fill="#4169e1"/>
<circle cx="338.3" cy="88.2" r="0.92" fill="#4169e1"/>
<circle cx="358.7" cy="115.3" r="0.92" fill="#4169e1"/>
<circle cx="336.4" cy="90.5" r="0.92" fill="#4169e1"/>
<circle cx="353.1" cy="105.8" r="0.92" fill="#4169e1"/>
<circle cx="349.1" cy="64.7" r="0.92" fill="#4169e1"/>
<circle cx="354.1" cy="39.6" r="0.92" fill="#4169e1"/>
<circle cx="321.6" cy="92.4" r="0.92" fill="#4169e1"/>
<circle cx="349.5" cy="78.3" r="0.92" fill="#4169e1"/>
<circle cx="350.3" cy="58.2" r="0.92" fill="#4169e1"/>
<circle cx="355.0" cy="104.7" r="0.92" fill="#4169e1"/>
<circle cx="364.6" cy="120.8" r="0.92" fill="#4169e1"/>
<circle cx="349.6" cy="54.4" r="0.92" fill="#4169e1"/>
<circle cx="340.9" cy="64.4" r="0.92" fill="#4169e1"/>
<circle cx="341.3" cy="107.2" r="0.92" fill="#4169e1"/>
<circle cx="353.1" cy="85.1" r="0.92" fill="#4169e1"/>
<circle cx="347.3" cy="81.2" r="0.92" fill="#4169e1"/>
<circle cx="351.4" cy="72.2" r="0.92" fill="#4169e1"/>
<circle cx="339.3" cy="95.1" r="0.92" fill="#4169e1"/>
<circle cx="347.5" cy="32.6" r="0.92" fill="#4169e1"/>
<circle cx="349.4" cy="60.2" r="0.92" fill="#4169e1"/>
<circle cx="340.0" cy="114.3" r="0.92" fill="#4169e1"/>
<circle cx="352.7" cy="88.3" r="0.92" fill="#4169e1"/>
<circle cx="362.4" cy="116.8" r="0.92" fill="#4169e1"/>
<circle cx="342.1" cy="61.5" r="0.92" fill="#4169e1"/>
<circle cx="352.5" cy="54.6" r="0.92" fill="#4169e1"/>
<circle cx="345.1" cy="119.8" r="0.92" fill="#4169e1"/>
<circle cx="351.3" cy="54.7" r="0.92" fill="#4169e1"/>
<circle cx="353.9" cy="51.0" r="0.92" fill="#4169e1"/>
<circle cx="327.6" cy="47.8" r="0.92" fill="#4169e1"/>
<circle cx="353.4" cy="30.2" r="0.92" fill="#4169e1"/>
<circle cx="354.7" cy="42.6" r="0.92" fill="#4169e1"/>
<circle cx="343.8" cy="76.2" r="0.92" fill="#4169e1"/>
<circle cx="353.4" cy="108.3" r="0.92" fill="#4169e1"/>
<circle cx="359.7" cy="106.2" r="0.92" fill="#4169e1"/>
<circle cx="332.2" cy="51.1" r="0.92" fill="#4169e1"/>
<circle cx="353.0" cy="29.1" r="0.92" fill="#4169e1"/>
<circle cx="351.6" cy="71.7" r="0.92" fill="#4169e1"/>
<circle cx="352.8" cy="78.3" r="0.92" fill="#4169e1"/>
<circle cx="333.0" cy="46.3" r="0.92" fill="#4169e1"/>
<circle cx="338.9" cy="36.9" r="0.92" fill="#4169e1"/>
<circle cx="320.9" cy="40.3" r="0.92" fill="#4169e1"/>
<circle cx="347.9" cy="91.5" r="0.92" fill="#4169e1"/>
<circle cx="355.0" cy="36.6" r="0.92" fill="#4169e1"/>
<circle cx="356.5" cy="100.2" r="0.92" fill="#4169e1"/>
<circle cx="343.3" cy="41.5" r="0.92" fill="#4169e1"/>
<circle cx="361.2" cy="112.1" r="0.92" fill="#4169e1"/>
<circle cx="360.5" cy="121.0" r="0.92" fill="#4169e1"/>
<circle cx="353.6" cy="61.4" r="0.92" fill="#4169e1"/>
<circle cx="323.7" cy="62.2" r="0.92" fill="#4169e1"/>
<circle cx="353.9" cy="50.9" r="0.92" fill="#4169e1"/>
<circle cx="354.5" cy="37.0" r="0.92" fill="#4169e1"/>
<circle cx="337.3" cy="58.3" r="0.92" fill="#4169e1"/>
<circle cx="353.7" cy="29.9" r="0.92" fill="#4169e1"/>
<circle cx="324.3" cy="118.7" r="0.92" fill="#4169e1"/>
<circle cx="365.0" cy="122.9" r="0.92" fill="#4169e1"/>
<circle cx="333.5" cy="58.5" r="0.92" fill="#4169e1"/>
<circle cx="345.2" cy="72.0" r="0.92" fill="#4169e1"/>
<circle cx="354.6" cy="54.3" r="0.92" fill="#4169e1"/>
<circle cx="345.0" cy="57.6" r="0.92" fill="#4169e1"/>
<circle cx="352.7" cy="102.5" r="0.92" fill="#4169e1"/>
<circle cx="348.5" cy="69.8" r="0.92" fill="#4169e1"/>
<circle cx="348.8" cy="67.6" r="0.92" fill="#4169e1"/>
<circle cx="358.6" cy="107.8" r="0.92" fill="#4169e1"/>
<circle cx="333.9" cy="83.2" r="0.92" fill="#4169e1"/>
<circle cx="359.3" cy="109.4" r="0.92" fill="#4169e1"/>
<circle cx="353.1" cy="121.2" r="0.92" fill="#4169e1"/>
<circle cx="353.3" cy="39.3" r="0.92" fill="#4169e1"/>
<circle cx="354.9" cy="42.8" r="0.92" fill="#4169e1"/>
<circle cx="363.2" cy="122.8" r="0.92" fill="#4169e1"/>
<circle cx="360.6" cy="111.9" r="0.92" fill="#4169e1"/>
<circle cx="340.7" cy="23.4" r="0.92" fill="#4169e1"/>
<circle cx="325.5" cy="103.8" r="0.92" fill="#4169e1"/>
<circle cx="350.3" cy="92.6" r="0.92" fill="#4169e1"/>
<circle cx="357.4" cy="100.9" r="0.92" fill="#4169e1"/>
<circle cx="349.1" cy="77.7" r="0.92" fill="#4169e1"/>
<circle cx="349.0" cy="37.1" r="0.92" fill="#4169e1"/>
<circle cx="349.8" cy="55.3" r="0.92" fill="#4169e1"/>
<circle cx="351.8" cy="60.5" r="0.92" fill="#4169e1"/>
<circle cx="348.1" cy="58.9" r="0.92" fill="#4169e1"/>
<circle cx="347.8" cy="123.0" r="0.92" fill="#4169e1"/>
<circle cx="348.5" cy="110.8" r="0.92" fill="#4169e1"/>
<circle cx="328.6" cy="51.5" r="0.92" fill="#4169e1"/>
<circle cx="354.1" cy="49.8" r="0.92" fill="#4169e1"/>
<circle cx="344.4" cy="73.6" r="0.92" fill="#4169e1"/>
<circle cx="347.4" cy="57.1" r="0.92" fill="#4169e1"/>
<circle cx="331.1" cy="51.1" r="0.92" fill="#4169e1"/>
<circle cx="349.5" cy="68.6" r="0.92" fill="#4169e1"/>
<circle cx="338.7" cy="76.7" r="0.92" fill="#4169e1"/>
<circle cx="362.4" cy="123.6" r="0.92" fill="#4169e1"/>
<circle cx="347.4" cy="67.5" r="0.92" fill="#4169e1"/>
<circle cx="351.3" cy="29.1" r="0.92" fill="#4169e1"/>
<circle cx="350.1" cy="109.3" r="0.92" fill="#4169e1"/>
<circle cx="341.6" cy="28.1" r="0.92" fill="#4169e1"/>
<circle cx="326.6" cy="61.6" r="0.92" fill="#4169e1"/>
<circle cx="352.8" cy="59.8" r="0.92" fill="#4169e1"/>
<circle cx="338.0" cy="78.5" r="0.92" fill="#4169e1"/>
<circle cx="340.0" cy="66.4" r="0.92" fill="#4169e1"/>
<circle cx="353.2" cy="95.3" r="0.92" fill="#4169e1"/>
<circle cx="349.9" cy="53.0" r="0.92" fill="#4169e1"/>
<circle cx="351.1" cy="63.1" r="0.92" fill="#4169e1"/>
<circle cx="339.9" cy="89.1" r="0.92" fill="#4169e1"/>
<circle cx="351.7" cy="82.2" r="0.92" fill="#4169e1"/>
<circle cx="352.0" cy="44.7" r="0.92" fill="#4169e1"/>
<circle cx="352.3" cy="85.3" r="0.92" fill="#4169e1"/>
<circle cx="352.5" cy="30.4" r="0.92" fill="#4169e1"/>
<circle cx="354.7" cy="51.1" r="0.92" fill="#4169e1"/>
<circle cx="335.4" cy="77.5" r="0.92" fill="#4169e1"/>
<circle cx="343.9" cy="77.0" r="0.92" fill="#4169e1"/>
<circle cx="347.3" cy="107.3" r="0.92" fill="#4169e1"/>
<circle cx="359.4" cy="116.0" r="0.92" fill="#4169e1"/>
<circle cx="354.5" cy="92.3" r="0.92" fill="#4169e1"/>
<circle cx="358.5" cy="112.6" r="0.92" fill="#4169e1"/>
<circle cx="338.4" cy="71.0" r="0.92" fill="#4169e1"/>
<circle cx="353.4" cy="51.5" r="0.92" fill="#4169e1"/>
<circle cx="353.5" cy="106.8" r="0.92" fill="#4169e1"/>
<circle cx="355.0" cy="30.7" r="0.92" fill="#4169e1"/>
<circle cx="354.5" cy="58.2" r="0.92" fill="#4169e1"/>
<circle cx="358.7" cy="107.7" r="0.92" fill="#4169e1"/>
<circle cx="351.5" cy="50.2" r="0.92" fill="#4169e1"/>
<circle cx="349.5" cy="74.7" r="0.92" fill="#4169e1"/>
<circle cx="346.3" cy="86.8" r="0.92" fill="#4169e1"/>
<circle cx="353.4" cy="66.9" r="0.92" fill="#4169e1"/>
<circle cx="358.7" cy="122.8" r="0.92" fill="#4169e1"/>
<circle cx="351.1" cy="30.6" r="0.92" fill="#4169e1"/>
<circle cx="324.0" cy="99.6" r="0.92" fill="#4169e1"/>
<circle cx="355.1" cy="28.8" r="0.92" fill="#4169e1"/>
<circle cx="349.9" cy="71.4" r="0.92" fill="#4169e1"/>
<circle cx="350.3" cy="114.1" r="0.92" fill="#4169e1"/>
<circle cx="350.9" cy="56.2" r="0.92" fill="#4169e1"/>
<circle cx="337.7" cy="82.0" r="0.92" fill="#4169e1"/>
<circle cx="351.8" cy="42.8" r="0.92" fill="#4169e1"/>
<circle cx="348.0" cy="31.1" r="0.92" fill="#4169e1"/>
<circle cx="335.9" cy="24.7" r="0.92" fill="#4169e1"/>
<circle cx="347.4" cy="75.9" r="0.92" fill="#4169e1"/>
<circle cx="353.4" cy="30.8" r="0.92" fill="#4169e1"/>
<circle cx="340.3" cy="70.3" r="0.92" fill="#4169e1"/>
<circle cx="350.9" cy="77.5" r="0.92" fill="#4169e1"/>
<circle cx="359.7" cy="123.2" r="0.92" fill="#4169e1"/>
<circle cx="351.7" cy="76.4" r="0.92" fill="#4169e1"/>
<circle cx="338.7" cy="52.8" r="0.92" fill="#4169e1"/>
<circle cx="350.1" cy="35.7" r="0.92" fill="#4169e1"/>
<circle cx="350.5" cy="85.9" r="0.92" fill="#4169e1"/>
<circle cx="341.3" cy="101.2" r="0.92" fill="#4169e1"/>
<circle cx="351.6" cy="110.3" r="0.92" fill="#4169e1"/>
<circle cx="354.9" cy="43.0" r="0.92" fill="#4169e1"/>
<circle cx="351.5" cy="66.6" r="0.92" fill="#4169e1"/>
<circle cx="341.0" cy="42.0" r="0.92" fill="#4169e1"/>
<circle cx="343.1" cy="44.3" r="0.92" fill="#4169e1"/>
<circle cx="363.8" cy="118.6" r="0.92" fill="#4169e1"/>
<circle cx="359.9" cy="116.1" r="0.92" fill="#4169e1"/>
<circle cx="353.8" cy="43.8" r="0.92" fill="#4169e1"/>
<circle cx="350.2" cy="25.9" r="0.92" fill="#4169e1"/>
<circle cx="341.1" cy="61.6" r="0.92" fill="#4169e1"/>
<circle cx="359.8" cy="107.8" r="0.92" fill="#4169e1"/>
<circle cx="350.9" cy="63.3" r="0.92" fill="#4169e1"/>
<circle cx="353.4" cy="40.3" r="0.92" fill="#4169e1"/>
<circle cx="346.7" cy="49.1" r="0.92" fill="#4169e1"/>
<circle cx="353.8" cy="57.0" r="0.92" fill="#4169e1"/>
<circle cx="351.1" cy="44.7" r="0.92" fill="#4169e1"/>
<circle cx="351.0" cy="80.2" r="0.92" fill="#4169e1"/>
<circle cx="354.3" cy="94.1" r="0.92" fill="#4169e1"/>
<circle cx="348.5" cy="91.1" r="0.92" fill="#4169e1"/>
<circle cx="345.7" cy="40.1" r="0.92" fill="#4169e1"/>
<circle cx="348.9" cy="62.6" r="0.92" fill="#4169e1"/>
<circle cx="345.9" cy="83.6" r="0.92" fill="#4169e1"/>
<circle cx="353.7" cy="67.6" r="0.92" fill="#4169e1"/>
<circle cx="345.0" cy="103.0" r="0.92" fill="#4169e1"/>
<circle cx="347.6" cy="72.5" r="0.92" fill="#4169e1"/>
<circle cx="339.0" cy="49.7" r="0.92" fill="#4169e1"/>
<circle cx="353.8" cy="92.6" r="0.92" fill="#4169e1"/>
<circle cx="329.7" cy="106.2" r="0.92" fill="#4169e1"/>
<circle cx="316.7" cy="57.6" r="0.92" fill="#4169e1"/>
<circle cx="352.4" cy="71.8" r="0.92" fill="#4169e1"/>
<circle cx="353.6" cy="95.8" r="0.92" fill="#4169e1"/>
<circle cx="350.8" cy="97.4" r="0.92" fill="#4169e1"/>
<circle cx="350.0" cy="33.1" r="0.92" fill="#4169e1"/>
<circle cx="356.2" cy="109.6" r="0.92" fill="#4169e1"/>
<circle cx="339.3" cy="77.6" r="0.92" fill="#4169e1"/>
<circle cx="349.3" cy="68.0" r="0.92" fill="#4169e1"/>
<circle cx="340.6" cy="82.0" r="0.92" fill="#4169e1"/>
<circle cx="354.6" cy="42.9" r="0.92" fill="#4169e1"/>
<circle cx="352.2" cy="100.4" r="0.92" fill="#4169e1"/>
<circle cx="339.2" cy="53.2" r="0.92" fill="#4169e1"/>
<circle cx="356.6" cy="113.1" r="0.92" fill="#4169e1"/>
<circle cx="355.2" cy="123.8" r="0.92" fill="#4169e1"/>
<circle cx="355.0" cy="99.0" r="0.92" fill="#4169e1"/>
<circle cx="347.0" cy="23.1" r="0.92" fill="#4169e1"/>
<circle cx="354.0" cy="97.7" r="0.92" fill="#4169e1"/>
<circle cx="347.9" cy="71.3" r="0.92" fill="#4169e1"/>
<circle cx="346.7" cy="47.7" r="0.92" fill="#4169e1"/>
<circle cx="349.6" cy="79.9" r="0.92" fill="#4169e1"/>
<circle cx="349.7" cy="33.3" r="0.92" fill="#4169e1"/>
<circle cx="345.7" cy="54.9" r="0.92" fill="#4169e1"/>
<circle cx="352.0" cy="39.8" r="0.92" fill="#4169e1"/>
<circle cx="351.7" cy="42.2" r="0.92" fill="#4169e1"/>
<circle cx="352.1" cy="81.4" r="0.92" fill="#4169e1"/>
<circle cx="350.5" cy="27.6" r="0.92" fill="#4169e1"/>
<circle cx="350.4" cy="42.8" r="0.92" fill="#4169e1"/>
<circle cx="354.7" cy="39.2" r="0.92" fill="#4169e1"/>
<circle cx="335.3" cy="77.4" r="0.92" fill="#4169e1"/>
<circle cx="356.3" cy="111.5" r="0.92" fill="#4169e1"/>
<circle cx="353.9" cy="62.9" r="0.92" fill="#4169e1"/>
<circle cx="352.3" cy="50.5" r="0.92" fill="#4169e1"/>
<circle cx="364.0" cy="119.0" r="0.92" fill="#4169e1"/>
<circle cx="360.6" cy="119.6" r="0.92" fill="#4169e1"/>
<circle cx="352.0" cy="66.7" r="0.92" fill="#4169e1"/>
<circle cx="364.5" cy="121.1" r="0.92" fill="#4169e1"/>
<circle cx="347.9" cy="80.8" r="0.92" fill="#4169e1"/>
<circle cx="353.6" cy="42.5" r="0.92" fill="#4169e1"/>
<circle cx="356.6" cy="123.5" r="0.92" fill="#4169e1"/>
<circle cx="340.7" cy="97.5" r="0.92" fill="#4169e1"/>
<circle cx="346.8" cy="32.2" r="0.92" fill="#4169e1"/>
<circle cx="355.7" cy="99.3" r="0.92" fill="#4169e1"/>
<circle cx="328.3" cy="69.1" r="0.92" fill="#4169e1"/>
<circle cx="344.6" cy="55.7" r="0.92" fill="#4169e1"/>
<circle cx="347.8" cy="39.0" r="0.92" fill="#4169e1"/>
<circle cx="350.0" cy="49.8" r="0.92" fill="#4169e1"/>
<circle cx="340.2" cy="60.4" r="0.92" fill="#4169e1"/>
<circle cx="352.4" cy="98.7" r="0.92" fill="#4169e1"/>
<circle cx="351.7" cy="92.8" r="0.92" fill="#4169e1"/>
<circle cx="357.2" cy="104.8" r="0.92" fill="#4169e1"/>
<circle cx="347.0" cy="78.0" r="0.92" fill="#4169e1"/>
<circle cx="354.1" cy="62.0" r="0.92" fill="#4169e1"/>
<circle cx="348.3" cy="39.5" r="0.92" fill="#4169e1"/>
<circle cx="345.3" cy="43.8" r="0.92" fill="#4169e1"/>
<circle cx="332.1" cy="74.0" r="0.92" fill="#4169e1"/>
<circle cx="351.6" cy="109.3" r="0.92" fill="#4169e1"/>
<circle cx="354.2" cy="60.4" r="0.92" fill="#4169e1"/>
<circle cx="343.5" cy="79.3" r="0.92" fill="#4169e1"/>
<circle cx="362.3" cy="116.9" r="0.92" fill="#4169e1"/>
<circle cx="327.9" cy="38.3" r="0.92" fill="#4169e1"/>
<circle cx="352.5" cy="98.2" r="0.92" fill="#4169e1"/>
<circle cx="356.0" cy="98.1" r="0.92" fill="#4169e1"/>
<circle cx="345.4" cy="78.0" r="0.92" fill="#4169e1"/>
<circle cx="351.8" cy="84.2" r="0.92" fill="#4169e1"/>
<circle cx="348.5" cy="36.1" r="0.92" fill="#4169e1"/>
<circle cx="361.0" cy="113.1" r="0.92" fill="#4169e1"/>
<circle cx="354.3" cy="22.7" r="0.92" fill="#4169e1"/>
<circle cx="355.2" cy="102.9" r="0.92" fill="#4169e1"/>
<circle cx="318.2" cy="68.9" r="0.92" fill="#4169e1"/>
<circle cx="351.1" cy="84.9" r="0.92" fill="#4169e1"/>
<circle cx="356.0" cy="94.2" r="0.92" fill="#4169e1"/>
<circle cx="346.5" cy="51.0" r="0.92" fill="#4169e1"/>
<circle cx="355.2" cy="39.6" r="0.92" fill="#4169e1"/>
<circle cx="350.6" cy="75.4" r="0.92" fill="#4169e1"/>
<circle cx="365.6" cy="122.0" r="0.92" fill="#4169e1"/>
<circle cx="355.8" cy="104.6" r="0.92" fill="#4169e1"/>
<circle cx="355.2" cy="105.0" r="0.92" fill="#4169e1"/>
<circle cx="352.2" cy="90.7" r="0.92" fill="#4169e1"/>
<circle cx="351.0" cy="45.1" r="0.92" fill="#4169e1"/>
<circle cx="356.2" cy="104.4" r="0.92" fill="#4169e1"/>
<circle cx="351.4" cy="45.7" r="0.92" fill="#4169e1"/>
<circle cx="352.6" cy="31.9" r="0.92" fill="#4169e1"/>
<circle cx="347.4" cy="81.0" r="0.92" fill="#4169e1"/>
<circle cx="350.5" cy="83.5" r="0.92" fill="#4169e1"/>
<circle cx="354.8" cy="24.6" r="0.92" fill="#4169e1"/>
<circle cx="353.1" cy="56.9" r="0.92" fill="#4169e1"/>
<circle cx="350.8" cy="80.6" r="0.92" fill="#4169e1"/>
<circle cx="351.5" cy="100.5" r="0.92" fill="#4169e1"/>
<circle cx="345.5" cy="90.2" r="0.92" fill="#4169e1"/>
<circle cx="349.5" cy="75.7" r="0.92" fill="#4169e1"/>
<circle cx="354.3" cy="53.8" r="0.92" fill="#4169e1"/>
<circle cx="354.1" cy="103.8" r="0.92" fill="#4169e1"/>
<circle cx="337.0" cy="32.3" r="0.92" fill="#4169e1"/>
<circle cx="346.0" cy="81.9" r="0.92" fill="#4169e1"/>
<circle cx="353.2" cy="67.2" r="0.92" fill="#4169e1"/>
<circle cx="367.7" cy="125.0" r="0.92" fill="#4169e1"/>
<circle cx="303.3" cy="59.7" r="0.92" fill="#4169e1"/>
<circle cx="350.5" cy="34.6" r="0.92" fill="#4169e1"/>
<circle cx="351.8" cy="71.4" r="0.92" fill="#4169e1"/>
<circle cx="360.3" cy="117.2" r="0.92" fill="#4169e1"/>
<circle cx="350.5" cy="23.2" r="0.92" fill="#4169e1"/>
<circle cx="346.3" cy="22.5" r="0.92" fill="#4169e1"/>
<circle cx="344.8" cy="111.5" r="0.92" fill="#4169e1"/>
<circle cx="347.2" cy="26.9" r="0.92" fill="#4169e1"/>
<circle cx="350.3" cy="53.4" r="0.92" fill="#4169e1"/>
<circle cx="352.3" cy="52.9" r="0.92" fill="#4169e1"/>
<circle cx="348.5" cy="35.7" r="0.92" fill="#4169e1"/>
<circle cx="331.9" cy="31.1" r="0.92" fill="#4169e1"/>
<circle cx="331.8" cy="26.5" r="0.92" fill="#4169e1"/>
<circle cx="354.8" cy="41.7" r="0.92" fill="#4169e1"/>
<circle cx="352.1" cy="98.7" r="0.92" fill="#4169e1"/>
<circle cx="353.2" cy="101.2" r="0.92" fill="#4169e1"/>
<circle cx="353.3" cy="86.9" r="0.92" fill="#4169e1"/>
<circle cx="350.1" cy="91.4" r="0.92" fill="#4169e1"/>
<circle cx="365.8" cy="121.1" r="0.92" fill="#4169e1"/>
<circle cx="347.3" cy="29.0" r="0.92" fill="#4169e1"/>
<circle cx="360.3" cy="117.4" r="0.92" fill="#4169e1"/>
<circle cx="350.5" cy="95.2" r="0.92" fill="#4169e1"/>
<circle cx="350.0" cy="62.3" r="0.92" fill="#4169e1"/>
<circle cx="352.8" cy="84.0" r="0.92" fill="#4169e1"/>
<circle cx="345.4" cy="53.5" r="0.92" fill="#4169e1"/>
<circle cx="350.6" cy="48.6" r="0.92" fill="#4169e1"/>
<circle cx="351.9" cy="48.4" r="0.92" fill="#4169e1"/>
<circle cx="344.9" cy="89.0" r="0.92" fill="#4169e1"/>
<circle cx="361.1" cy="120.6" r="0.92" fill="#4169e1"/>
<circle cx="352.4" cy="42.9" r="0.92" fill="#4169e1"/>
<circle cx="353.2" cy="28.0" r="0.92" fill="#4169e1"/>
<circle cx="346.2" cy="82.2" r="0.92" fill="#4169e1"/>
<circle cx="353.7" cy="46.9" r="0.92" fill="#4169e1"/>
<circle cx="353.9" cy="32.1" r="0.92" fill="#4169e1"/>
<circle cx="351.5" cy="73.6" r="0.92" fill="#4169e1"/>
<circle cx="356.2" cy="113.0" r="0.92" fill="#4169e1"/>
<circle cx="350.7" cy="57.0" r="0.92" fill="#4169e1"/>
<circle cx="345.8" cy="26.1" r="0.92" fill="#4169e1"/>
<circle cx="354.4" cy="99.4" r="0.92" fill="#4169e1"/>
<circle cx="354.5" cy="96.7" r="0.92" fill="#4169e1"/>
<circle cx="353.4" cy="44.6" r="0.92" fill="#4169e1"/>
<circle cx="348.8" cy="42.3" r="0.92" fill="#4169e1"/>
<circle cx="345.1" cy="88.1" r="0.92" fill="#4169e1"/>
<circle cx="345.1" cy="32.7" r="0.92" fill="#4169e1"/>
<circle cx="350.5" cy="71.3" r="0.92" fill="#4169e1"/>
<circle cx="349.6" cy="73.8" r="0.92" fill="#4169e1"/>
<circle cx="351.8" cy="42.6" r="0.92" fill="#4169e1"/>
<circle cx="345.5" cy="88.5" r="0.92" fill="#4169e1"/>
<circle cx="362.0" cy="116.2" r="0.92" fill="#4169e1"/>
<circle cx="351.1" cy="113.8" r="0.92" fill="#4169e1"/>
<circle cx="329.2" cy="95.4" r="0.92" fill="#4169e1"/>
<circle cx="344.9" cy="36.2" r="0.92" fill="#4169e1"/>
<circle cx="361.9" cy="114.6" r="0.92" fill="#4169e1"/>
<circle cx="332.2" cy="83.3" r="0.92" fill="#4169e1"/>
<circle cx="341.3" cy="52.2" r="0.92" fill="#4169e1"/>
<circle cx="359.1" cy="115.4" r="0.92" fill="#4169e1"/>
<circle cx="353.7" cy="37.0" r="0.92" fill="#4169e1"/>
<circle cx="356.2" cy="107.5" r="0.92" fill="#4169e1"/>
<circle cx="350.7" cy="54.5" r="0.92" fill="#4169e1"/>
<circle cx="362.1" cy="117.6" r="0.92" fill="#4169e1"/>
<circle cx="334.1" cy="23.9" r="0.92" fill="#4169e1"/>
<circle cx="351.3" cy="54.6" r="0.92" fill="#4169e1"/>
<circle cx="364.3" cy="122.5" r="0.92" fill="#4169e1"/>
<circle cx="339.9" cy="30.8" r="0.92" fill="#4169e1"/>
<circle cx="353.4" cy="47.1" r="0.92" fill="#4169e1"/>
<circle cx="362.8" cy="118.6" r="0.92" fill="#4169e1"/>
<circle cx="360.0" cy="114.8" r="0.92" fill="#4169e1"/>
<circle cx="353.1" cy="53.2" r="0.92" fill="#4169e1"/>
<circle cx="347.4" cy="77.9" r="0.92" fill="#4169e1"/>
<circle cx="349.4" cy="63.0" r="0.92" fill="#4169e1"/>
<circle cx="342.1" cy="52.7" r="0.92" fill="#4169e1"/>
<circle cx="354.7" cy="118.2" r="0.92" fill="#4169e1"/>
<circle cx="359.2" cy="106.4" r="0.92" fill="#4169e1"/>
<circle cx="353.5" cy="47.8" r="0.92" fill="#4169e1"/>
<circle cx="331.3" cy="37.9" r="0.92" fill="#4169e1"/>
<circle cx="345.9" cy="115.2" r="0.92" fill="#4169e1"/>
<circle cx="352.2" cy="79.5" r="0.92" fill="#4169e1"/>
<circle cx="353.8" cy="66.0" r="0.92" fill="#4169e1"/>
<circle cx="360.9" cy="115.2" r="0.92" fill="#4169e1"/>
<circle cx="334.5" cy="51.7" r="0.92" fill="#4169e1"/>
<circle cx="337.4" cy="42.7" r="0.92" fill="#4169e1"/>
<circle cx="347.1" cy="54.0" r="0.92" fill="#4169e1"/>
<circle cx="339.3" cy="33.0" r="0.92" fill="#4169e1"/>
<circle cx="351.4" cy="63.1" r="0.92" fill="#4169e1"/>
<circle cx="348.3" cy="89.4" r="0.92" fill="#4169e1"/>
<circle cx="354.1" cy="47.9" r="0.92" fill="#4169e1"/>
<circle cx="352.7" cy="81.3" r="0.92" fill="#4169e1"/>
<circle cx="358.5" cy="111.8" r="0.92" fill="#4169e1"/>
<circle cx="352.7" cy="39.5" r="0.92" fill="#4169e1"/>
<circle cx="352.7" cy="33.7" r="0.92" fill="#4169e1"/>
<circle cx="349.5" cy="78.0" r="0.92" fill="#4169e1"/>
<circle cx="352.3" cy="56.4" r="0.92" fill="#4169e1"/>
<circle cx="343.2" cy="72.1" r="0.92" fill="#4169e1"/>
<circle cx="343.9" cy="67.1" r="0.92" fill="#4169e1"/>
<circle cx="352.9" cy="71.7" r="0.92" fill="#4169e1"/>
<circle cx="342.3" cy="39.5" r="0.92" fill="#4169e1"/>
<circle cx="350.4" cy="71.4" r="0.92" fill="#4169e1"/>
<circle cx="340.3" cy="75.1" r="0.92" fill="#4169e1"/>
<circle cx="351.3" cy="60.7" r="0.92" fill="#4169e1"/>
<circle cx="354.4" cy="59.7" r="0.92" fill="#4169e1"/>
<circle cx="390.8" cy="78.1" r="0.92" fill="#4169e1"/>
<circle cx="390.9" cy="73.1" r="0.92" fill="#4169e1"/>
<circle cx="394.7" cy="70.7" r="0.92" fill="#4169e1"/>
<circle cx="411.9" cy="41.2" r="0.92" fill="#4169e1"/>
<circle cx="402.1" cy="33.8" r="0.92" fill="#4169e1"/>
<circle cx="398.8" cy="40.0" r="0.92" fill="#4169e1"/>
<circle cx="389.9" cy="48.8" r="0.92" fill="#4169e1"/>
<circle cx="397.3" cy="77.7" r="0.92" fill="#4169e1"/>
<circle cx="396.5" cy="109.1" r="0.92" fill="#4169e1"/>
<circle cx="381.8" cy="122.9" r="0.92" fill="#4169e1"/>
<circle cx="389.1" cy="61.0" r="0.92" fill="#4169e1"/>
<circle cx="389.3" cy="99.8" r="0.92" fill="#4169e1"/>
<circle cx="394.8" cy="98.6" r="0.92" fill="#4169e1"/>
<circle cx="386.8" cy="124.9" r="0.92" fill="#4169e1"/>
<circle cx="389.0" cy="112.1" r="0.92" fill="#4169e1"/>
<circle cx="404.7" cy="30.3" r="0.92" fill="#4169e1"/>
<circle cx="392.5" cy="31.4" r="0.92" fill="#4169e1"/>
<circle cx="386.9" cy="107.5" r="0.92" fill="#4169e1"/>
<circle cx="386.7" cy="90.2" r="0.92" fill="#4169e1"/>
<circle cx="396.7" cy="43.7" r="0.92" fill="#4169e1"/>
<circle cx="399.5" cy="25.9" r="0.92" fill="#4169e1"/>
<circle cx="385.0" cy="118.6" r="0.92" fill="#4169e1"/>
<circle cx="393.8" cy="94.6" r="0.92" fill="#4169e1"/>
<circle cx="394.8" cy="85.9" r="0.92" fill="#4169e1"/>
<circle cx="386.5" cy="93.9" r="0.92" fill="#4169e1"/>
<circle cx="394.2" cy="41.8" r="0.92" fill="#4169e1"/>
<circle cx="383.4" cy="121.9" r="0.92" fill="#4169e1"/>
<circle cx="387.7" cy="82.4" r="0.92" fill="#4169e1"/>
<circle cx="388.2" cy="109.2" r="0.92" fill="#4169e1"/>
<circle cx="393.5" cy="75.8" r="0.92" fill="#4169e1"/>
<circle cx="397.6" cy="36.1" r="0.92" fill="#4169e1"/>
<circle cx="396.3" cy="104.4" r="0.92" fill="#4169e1"/>
<circle cx="390.7" cy="51.0" r="0.92" fill="#4169e1"/>
<circle cx="402.8" cy="39.0" r="0.92" fill="#4169e1"/>
<circle cx="390.8" cy="67.1" r="0.92" fill="#4169e1"/>
<circle cx="394.0" cy="75.6" r="0.92" fill="#4169e1"/>
<circle cx="391.2" cy="54.8" r="0.92" fill="#4169e1"/>
<circle cx="394.1" cy="100.9" r="0.92" fill="#4169e1"/>
<circle cx="389.5" cy="52.5" r="0.92" fill="#4169e1"/>
<circle cx="391.2" cy="117.6" r="0.92" fill="#4169e1"/>
<circle cx="389.7" cy="83.2" r="0.92" fill="#4169e1"/>
<circle cx="385.7" cy="120.8" r="0.92" fill="#4169e1"/>
<circle cx="390.3" cy="44.3" r="0.92" fill="#4169e1"/>
<circle cx="393.7" cy="58.2" r="0.92" fill="#4169e1"/>
<circle cx="404.8" cy="59.5" r="0.92" fill="#4169e1"/>
<circle cx="390.0" cy="88.9" r="0.92" fill="#4169e1"/>
<circle cx="391.6" cy="90.0" r="0.92" fill="#4169e1"/>
<circle cx="390.5" cy="85.6" r="0.92" fill="#4169e1"/>
<circle cx="391.1" cy="75.9" r="0.92" fill="#4169e1"/>
<circle cx="386.3" cy="107.6" r="0.92" fill="#4169e1"/>
<circle cx="387.6" cy="102.9" r="0.92" fill="#4169e1"/>
<circle cx="385.3" cy="109.4" r="0.92" fill="#4169e1"/>
<circle cx="390.9" cy="72.0" r="0.92" fill="#4169e1"/>
<circle cx="387.6" cy="95.3" r="0.92" fill="#4169e1"/>
<circle cx="390.2" cy="49.0" r="0.92" fill="#4169e1"/>
<circle cx="391.9" cy="79.8" r="0.92" fill="#4169e1"/>
<circle cx="400.2" cy="22.1" r="0.92" fill="#4169e1"/>
<circle cx="407.2" cy="42.6" r="0.92" fill="#4169e1"/>
<circle cx="392.5" cy="68.9" r="0.92" fill="#4169e1"/>
<circle cx="395.1" cy="51.8" r="0.92" fill="#4169e1"/>
<circle cx="391.4" cy="105.7" r="0.92" fill="#4169e1"/>
<circle cx="402.3" cy="22.1" r="0.92" fill="#4169e1"/>
<circle cx="387.9" cy="72.3" r="0.92" fill="#4169e1"/>
<circle cx="387.7" cy="103.4" r="0.92" fill="#4169e1"/>
<circle cx="394.5" cy="52.2" r="0.92" fill="#4169e1"/>
<circle cx="390.7" cy="82.2" r="0.92" fill="#4169e1"/>
<circle cx="388.8" cy="110.5" r="0.92" fill="#4169e1"/>
<circle cx="389.1" cy="57.3" r="0.92" fill="#4169e1"/>
<circle cx="389.7" cy="78.9" r="0.92" fill="#4169e1"/>
<circle cx="389.7" cy="77.3" r="0.92" fill="#4169e1"/>
<circle cx="398.8" cy="22.7" r="0.92" fill="#4169e1"/>
<circle cx="390.8" cy="38.3" r="0.92" fill="#4169e1"/>
<circle cx="389.7" cy="109.7" r="0.92" fill="#4169e1"/>
<circle cx="396.4" cy="46.6" r="0.92" fill="#4169e1"/>
<circle cx="387.0" cy="87.4" r="0.92" fill="#4169e1"/>
<circle cx="387.4" cy="99.4" r="0.92" fill="#4169e1"/>
<circle cx="381.5" cy="124.7" r="0.92" fill="#4169e1"/>
<circle cx="390.8" cy="51.4" r="0.92" fill="#4169e1"/>
<circle cx="394.2" cy="110.8" r="0.92" fill="#4169e1"/>
<circle cx="387.9" cy="81.7" r="0.92" fill="#4169e1"/>
<circle cx="394.8" cy="66.2" r="0.92" fill="#4169e1"/>
<circle cx="407.5" cy="28.0" r="0.92" fill="#4169e1"/>
<circle cx="399.8" cy="108.7" r="0.92" fill="#4169e1"/>
<circle cx="391.7" cy="94.0" r="0.92" fill="#4169e1"/>
<circle cx="383.5" cy="122.4" r="0.92" fill="#4169e1"/>
<circle cx="389.8" cy="53.5" r="0.92" fill="#4169e1"/>
<circle cx="398.9" cy="40.6" r="0.92" fill="#4169e1"/>
<circle cx="399.4" cy="31.8" r="0.92" fill="#4169e1"/>
<circle cx="399.9" cy="62.8" r="0.92" fill="#4169e1"/>
<circle cx="392.3" cy="100.2" r="0.92" fill="#4169e1"/>
<circle cx="385.2" cy="109.0" r="0.92" fill="#4169e1"/>
<circle cx="391.9" cy="49.3" r="0.92" fill="#4169e1"/>
<circle cx="394.2" cy="66.2" r="0.92" fill="#4169e1"/>
<circle cx="392.0" cy="112.6" r="0.92" fill="#4169e1"/>
<circle cx="390.6" cy="117.7" r="0.92" fill="#4169e1"/>
<circle cx="392.6" cy="58.7" r="0.92" fill="#4169e1"/>
<circle cx="395.3" cy="99.1" r="0.92" fill="#4169e1"/>
<circle cx="391.0" cy="60.1" r="0.92" fill="#4169e1"/>
<circle cx="388.2" cy="85.3" r="0.92" fill="#4169e1"/>
<circle cx="384.5" cy="112.9" r="0.92" fill="#4169e1"/>
<circle cx="390.3" cy="88.8" r="0.92" fill="#4169e1"/>
<circle cx="394.6" cy="42.1" r="0.92" fill="#4169e1"/>
<circle cx="405.8" cy="70.8" r="0.92" fill="#4169e1"/>
<circle cx="389.4" cy="113.1" r="0.92" fill="#4169e1"/>
<circle cx="396.5" cy="111.8" r="0.92" fill="#4169e1"/>
<circle cx="399.8" cy="39.0" r="0.92" fill="#4169e1"/>
<circle cx="410.9" cy="107.8" r="0.92" fill="#4169e1"/>
<circle cx="388.7" cy="100.2" r="0.92" fill="#4169e1"/>
<circle cx="395.7" cy="43.3" r="0.92" fill="#4169e1"/>
<circle cx="397.6" cy="43.7" r="0.92" fill="#4169e1"/>
<circle cx="396.6" cy="81.2" r="0.92" fill="#4169e1"/>
<circle cx="390.6" cy="58.7" r="0.92" fill="#4169e1"/>
<circle cx="390.3" cy="115.2" r="0.92" fill="#4169e1"/>
<circle cx="393.0" cy="61.0" r="0.92" fill="#4169e1"/>
<circle cx="393.7" cy="66.9" r="0.92" fill="#4169e1"/>
<circle cx="389.3" cy="75.2" r="0.92" fill="#4169e1"/>
<circle cx="393.5" cy="122.9" r="0.92" fill="#4169e1"/>
<circle cx="387.7" cy="100.1" r="0.92" fill="#4169e1"/>
<circle cx="397.2" cy="42.0" r="0.92" fill="#4169e1"/>
<circle cx="391.0" cy="106.7" r="0.92" fill="#4169e1"/>
<circle cx="396.8" cy="44.0" r="0.92" fill="#4169e1"/>
<circle cx="390.0" cy="75.9" r="0.92" fill="#4169e1"/>
<circle cx="390.2" cy="82.7" r="0.92" fill="#4169e1"/>
<circle cx="394.3" cy="88.8" r="0.92" fill="#4169e1"/>
<circle cx="382.0" cy="123.2" r="0.92" fill="#4169e1"/>
<circle cx="403.1" cy="80.8" r="0.92" fill="#4169e1"/>
<circle cx="391.3" cy="89.7" r="0.92" fill="#4169e1"/>
<circle cx="385.1" cy="109.9" r="0.92" fill="#4169e1"/>
<circle cx="390.9" cy="103.6" r="0.92" fill="#4169e1"/>
<circle cx="389.0" cy="82.2" r="0.92" fill="#4169e1"/>
<circle cx="387.5" cy="85.8" r="0.92" fill="#4169e1"/>
<circle cx="389.0" cy="76.1" r="0.92" fill="#4169e1"/>
<circle cx="393.0" cy="118.0" r="0.92" fill="#4169e1"/>
<circle cx="395.5" cy="70.7" r="0.92" fill="#4169e1"/>
<circle cx="392.5" cy="61.6" r="0.92" fill="#4169e1"/>
<circle cx="400.9" cy="38.6" r="0.92" fill="#4169e1"/>
<circle cx="393.7" cy="100.7" r="0.92" fill="#4169e1"/>
<circle cx="401.8" cy="30.6" r="0.92" fill="#4169e1"/>
<circle cx="402.6" cy="23.2" r="0.92" fill="#4169e1"/>
<circle cx="388.0" cy="72.2" r="0.92" fill="#4169e1"/>
<circle cx="400.2" cy="65.4" r="0.92" fill="#4169e1"/>
<circle cx="388.8" cy="86.3" r="0.92" fill="#4169e1"/>
<circle cx="387.7" cy="105.9" r="0.92" fill="#4169e1"/>
<circle cx="387.2" cy="114.4" r="0.92" fill="#4169e1"/>
<circle cx="412.3" cy="30.0" r="0.92" fill="#4169e1"/>
<circle cx="394.5" cy="29.3" r="0.92" fill="#4169e1"/>
<circle cx="386.5" cy="101.4" r="0.92" fill="#4169e1"/>
<circle cx="398.0" cy="78.0" r="0.92" fill="#4169e1"/>
<circle cx="389.3" cy="82.8" r="0.92" fill="#4169e1"/>
<circle cx="395.5" cy="100.1" r="0.92" fill="#4169e1"/>
<circle cx="392.4" cy="81.7" r="0.92" fill="#4169e1"/>
<circle cx="391.8" cy="55.2" r="0.92" fill="#4169e1"/>
<circle cx="400.6" cy="124.2" r="0.92" fill="#4169e1"/>
<circle cx="400.2" cy="22.2" r="0.92" fill="#4169e1"/>
<circle cx="398.4" cy="45.2" r="0.92" fill="#4169e1"/>
<circle cx="390.9" cy="42.7" r="0.92" fill="#4169e1"/>
<circle cx="386.9" cy="100.9" r="0.92" fill="#4169e1"/>
<circle cx="385.0" cy="122.7" r="0.92" fill="#4169e1"/>
<circle cx="393.8" cy="114.6" r="0.92" fill="#4169e1"/>
<circle cx="398.3" cy="43.3" r="0.92" fill="#4169e1"/>
<circle cx="389.6" cy="64.7" r="0.92" fill="#4169e1"/>
<circle cx="401.4" cy="26.7" r="0.92" fill="#4169e1"/>
<circle cx="389.1" cy="79.8" r="0.92" fill="#4169e1"/>
<circle cx="386.3" cy="107.8" r="0.92" fill="#4169e1"/>
<circle cx="388.5" cy="67.8" r="0.92" fill="#4169e1"/>
<circle cx="400.6" cy="58.1" r="0.92" fill="#4169e1"/>
<circle cx="388.5" cy="73.5" r="0.92" fill="#4169e1"/>
<circle cx="395.3" cy="46.4" r="0.92" fill="#4169e1"/>
<circle cx="401.3" cy="50.6" r="0.92" fill="#4169e1"/>
<circle cx="404.6" cy="28.2" r="0.92" fill="#4169e1"/>
<circle cx="396.3" cy="86.1" r="0.92" fill="#4169e1"/>
<circle cx="389.1" cy="58.5" r="0.92" fill="#4169e1"/>
<circle cx="395.5" cy="39.7" r="0.92" fill="#4169e1"/>
<circle cx="397.3" cy="24.7" r="0.92" fill="#4169e1"/>
<circle cx="397.2" cy="102.6" r="0.92" fill="#4169e1"/>
<circle cx="394.8" cy="110.2" r="0.92" fill="#4169e1"/>
<circle cx="398.6" cy="79.2" r="0.92" fill="#4169e1"/>
<circle cx="390.9" cy="93.9" r="0.92" fill="#4169e1"/>
<circle cx="388.3" cy="65.8" r="0.92" fill="#4169e1"/>
<circle cx="393.7" cy="31.2" r="0.92" fill="#4169e1"/>
<circle cx="388.6" cy="69.5" r="0.92" fill="#4169e1"/>
<circle cx="386.7" cy="122.0" r="0.92" fill="#4169e1"/>
<circle cx="398.4" cy="98.3" r="0.92" fill="#4169e1"/>
<circle cx="401.6" cy="45.3" r="0.92" fill="#4169e1"/>
<circle cx="384.4" cy="120.7" r="0.92" fill="#4169e1"/>
<circle cx="399.4" cy="34.9" r="0.92" fill="#4169e1"/>
<circle cx="393.3" cy="113.6" r="0.92" fill="#4169e1"/>
<circle cx="393.3" cy="64.1" r="0.92" fill="#4169e1"/>
<circle cx="392.5" cy="33.7" r="0.92" fill="#4169e1"/>
<circle cx="395.7" cy="65.1" r="0.92" fill="#4169e1"/>
<circle cx="406.6" cy="31.1" r="0.92" fill="#4169e1"/>
<circle cx="415.5" cy="25.1" r="0.92" fill="#4169e1"/>
<circle cx="399.0" cy="46.4" r="0.92" fill="#4169e1"/>
<circle cx="402.3" cy="106.3" r="0.92" fill="#4169e1"/>
<circle cx="394.4" cy="70.4" r="0.92" fill="#4169e1"/>
<circle cx="399.0" cy="52.1" r="0.92" fill="#4169e1"/>
<circle cx="403.1" cy="33.2" r="0.92" fill="#4169e1"/>
<circle cx="387.3" cy="83.0" r="0.92" fill="#4169e1"/>
<circle cx="385.6" cy="119.0" r="0.92" fill="#4169e1"/>
<circle cx="394.7" cy="29.0" r="0.92" fill="#4169e1"/>
<circle cx="398.4" cy="24.8" r="0.92" fill="#4169e1"/>
<circle cx="410.9" cy="95.1" r="0.92" fill="#4169e1"/>
<circle cx="397.3" cy="87.0" r="0.92" fill="#4169e1"/>
<circle cx="392.1" cy="106.7" r="0.92" fill="#4169e1"/>
<circle cx="390.0" cy="61.6" r="0.92" fill="#4169e1"/>
<circle cx="394.6" cy="38.1" r="0.92" fill="#4169e1"/>
<circle cx="397.3" cy="43.0" r="0.92" fill="#4169e1"/>
<circle cx="393.7" cy="55.0" r="0.92" fill="#4169e1"/>
<circle cx="392.7" cy="78.3" r="0.92" fill="#4169e1"/>
<circle cx="391.9" cy="38.0" r="0.92" fill="#4169e1"/>
<circle cx="387.7" cy="92.9" r="0.92" fill="#4169e1"/>
<circle cx="405.0" cy="91.2" r="0.92" fill="#4169e1"/>
<circle cx="406.4" cy="62.1" r="0.92" fill="#4169e1"/>
<circle cx="402.7" cy="85.3" r="0.92" fill="#4169e1"/>
<circle cx="395.1" cy="76.2" r="0.92" fill="#4169e1"/>
<circle cx="387.6" cy="92.3" r="0.92" fill="#4169e1"/>
<circle cx="392.2" cy="75.3" r="0.92" fill="#4169e1"/>
<circle cx="393.8" cy="69.8" r="0.92" fill="#4169e1"/>
<circle cx="393.0" cy="115.6" r="0.92" fill="#4169e1"/>
<circle cx="386.2" cy="105.7" r="0.92" fill="#4169e1"/>
<circle cx="391.8" cy="94.4" r="0.92" fill="#4169e1"/>
<circle cx="383.7" cy="118.6" r="0.92" fill="#4169e1"/>
<circle cx="410.6" cy="39.8" r="0.92" fill="#4169e1"/>
<circle cx="395.3" cy="60.4" r="0.92" fill="#4169e1"/>
<circle cx="389.7" cy="83.0" r="0.92" fill="#4169e1"/>
<circle cx="392.6" cy="67.2" r="0.92" fill="#4169e1"/>
<circle cx="385.5" cy="123.5" r="0.92" fill="#4169e1"/>
<circle cx="387.6" cy="103.4" r="0.92" fill="#4169e1"/>
<circle cx="391.4" cy="95.3" r="0.92" fill="#4169e1"/>
<circle cx="397.7" cy="98.6" r="0.92" fill="#4169e1"/>
<circle cx="411.3" cy="30.2" r="0.92" fill="#4169e1"/>
<circle cx="388.5" cy="84.8" r="0.92" fill="#4169e1"/>
<circle cx="388.4" cy="69.8" r="0.92" fill="#4169e1"/>
<circle cx="399.7" cy="45.8" r="0.92" fill="#4169e1"/>
<circle cx="397.4" cy="95.2" r="0.92" fill="#4169e1"/>
<circle cx="390.8" cy="38.7" r="0.92" fill="#4169e1"/>
<circle cx="392.3" cy="61.1" r="0.92" fill="#4169e1"/>
<circle cx="388.3" cy="95.2" r="0.92" fill="#4169e1"/>
<circle cx="391.0" cy="97.9" r="0.92" fill="#4169e1"/>
<circle cx="397.7" cy="51.7" r="0.92" fill="#4169e1"/>
<circle cx="397.8" cy="29.6" r="0.92" fill="#4169e1"/>
<circle cx="390.2" cy="41.3" r="0.92" fill="#4169e1"/>
<circle cx="391.8" cy="71.3" r="0.92" fill="#4169e1"/>
<circle cx="389.4" cy="85.1" r="0.92" fill="#4169e1"/>
<circle cx="392.5" cy="117.7" r="0.92" fill="#4169e1"/>
<circle cx="390.3" cy="37.9" r="0.92" fill="#4169e1"/>
<circle cx="385.4" cy="120.9" r="0.92" fill="#4169e1"/>
<circle cx="392.5" cy="32.8" r="0.92" fill="#4169e1"/>
<circle cx="387.4" cy="94.1" r="0.92" fill="#4169e1"/>
<circle cx="394.7" cy="60.4" r="0.92" fill="#4169e1"/>
<circle cx="394.5" cy="58.3" r="0.92" fill="#4169e1"/>
<circle cx="391.8" cy="119.7" r="0.92" fill="#4169e1"/>
<circle cx="392.1" cy="86.7" r="0.92" fill="#4169e1"/>
<circle cx="394.6" cy="53.9" r="0.92" fill="#4169e1"/>
<circle cx="391.5" cy="88.9" r="0.92" fill="#4169e1"/>
<circle cx="395.3" cy="72.5" r="0.92" fill="#4169e1"/>
<circle cx="396.7" cy="43.1" r="0.92" fill="#4169e1"/>
<circle cx="381.8" cy="122.8" r="0.92" fill="#4169e1"/>
<circle cx="412.9" cy="48.0" r="0.92" fill="#4169e1"/>
<circle cx="401.8" cy="30.5" r="0.92" fill="#4169e1"/>
<circle cx="387.4" cy="81.8" r="0.92" fill="#4169e1"/>
<circle cx="386.8" cy="86.9" r="0.92" fill="#4169e1"/>
<circle cx="386.9" cy="109.5" r="0.92" fill="#4169e1"/>
<circle cx="396.6" cy="117.2" r="0.92" fill="#4169e1"/>
<circle cx="393.3" cy="36.1" r="0.92" fill="#4169e1"/>
<circle cx="398.1" cy="37.7" r="0.92" fill="#4169e1"/>
<circle cx="392.3" cy="31.8" r="0.92" fill="#4169e1"/>
<circle cx="401.7" cy="34.0" r="0.92" fill="#4169e1"/>
<circle cx="391.7" cy="47.4" r="0.92" fill="#4169e1"/>
<circle cx="392.4" cy="68.0" r="0.92" fill="#4169e1"/>
<circle cx="404.4" cy="64.6" r="0.92" fill="#4169e1"/>
<circle cx="392.3" cy="57.1" r="0.92" fill="#4169e1"/>
<circle cx="386.3" cy="110.8" r="0.92" fill="#4169e1"/>
<circle cx="400.1" cy="39.9" r="0.92" fill="#4169e1"/>
<circle cx="401.2" cy="54.5" r="0.92" fill="#4169e1"/>
<circle cx="387.8" cy="106.7" r="0.92" fill="#4169e1"/>
<circle cx="389.4" cy="56.3" r="0.92" fill="#4169e1"/>
<circle cx="387.9" cy="112.0" r="0.92" fill="#4169e1"/>
<circle cx="389.8" cy="57.2" r="0.92" fill="#4169e1"/>
<circle cx="401.1" cy="45.3" r="0.92" fill="#4169e1"/>
<circle cx="394.9" cy="35.5" r="0.92" fill="#4169e1"/>
<circle cx="390.8" cy="86.3" r="0.92" fill="#4169e1"/>
<circle cx="390.4" cy="73.7" r="0.92" fill="#4169e1"/>
<circle cx="399.4" cy="41.7" r="0.92" fill="#4169e1"/>
<circle cx="389.0" cy="114.4" r="0.92" fill="#4169e1"/>
<circle cx="402.9" cy="47.9" r="0.92" fill="#4169e1"/>
<circle cx="390.9" cy="42.8" r="0.92" fill="#4169e1"/>
<circle cx="396.5" cy="86.5" r="0.92" fill="#4169e1"/>
<circle cx="387.7" cy="80.9" r="0.92" fill="#4169e1"/>
<circle cx="382.5" cy="122.8" r="0.92" fill="#4169e1"/>
<circle cx="413.2" cy="57.4" r="0.92" fill="#4169e1"/>
<circle cx="393.3" cy="103.6" r="0.92" fill="#4169e1"/>
<circle cx="403.2" cy="29.8" r="0.92" fill="#4169e1"/>
<circle cx="388.4" cy="63.2" r="0.92" fill="#4169e1"/>
<circle cx="400.2" cy="103.3" r="0.92" fill="#4169e1"/>
<circle cx="397.9" cy="26.9" r="0.92" fill="#4169e1"/>
<circle cx="386.6" cy="114.9" r="0.92" fill="#4169e1"/>
<circle cx="397.4" cy="53.2" r="0.92" fill="#4169e1"/>
<circle cx="422.4" cy="67.4" r="0.92" fill="#4169e1"/>
<circle cx="395.6" cy="110.2" r="0.92" fill="#4169e1"/>
<circle cx="387.5" cy="94.8" r="0.92" fill="#4169e1"/>
<circle cx="391.2" cy="92.8" r="0.92" fill="#4169e1"/>
<circle cx="392.3" cy="71.7" r="0.92" fill="#4169e1"/>
<circle cx="390.3" cy="53.4" r="0.92" fill="#4169e1"/>
<circle cx="386.7" cy="116.0" r="0.92" fill="#4169e1"/>
<circle cx="412.0" cy="32.9" r="0.92" fill="#4169e1"/>
<circle cx="393.7" cy="74.6" r="0.92" fill="#4169e1"/>
<circle cx="389.7" cy="56.9" r="0.92" fill="#4169e1"/>
<circle cx="398.7" cy="56.2" r="0.92" fill="#4169e1"/>
<circle cx="402.7" cy="50.2" r="0.92" fill="#4169e1"/>
<circle cx="401.6" cy="53.4" r="0.92" fill="#4169e1"/>
<circle cx="393.3" cy="40.4" r="0.92" fill="#4169e1"/>
<circle cx="391.4" cy="35.3" r="0.92" fill="#4169e1"/>
<circle cx="389.9" cy="75.8" r="0.92" fill="#4169e1"/>
<circle cx="388.6" cy="77.4" r="0.92" fill="#4169e1"/>
<circle cx="391.1" cy="54.0" r="0.92" fill="#4169e1"/>
<circle cx="384.8" cy="114.5" r="0.92" fill="#4169e1"/>
<circle cx="398.8" cy="64.9" r="0.92" fill="#4169e1"/>
<circle cx="388.7" cy="80.9" r="0.92" fill="#4169e1"/>
<circle cx="381.3" cy="124.7" r="0.92" fill="#4169e1"/>
<circle cx="390.5" cy="36.1" r="0.92" fill="#4169e1"/>
<circle cx="398.8" cy="67.2" r="0.92" fill="#4169e1"/>
<circle cx="391.1" cy="51.1" r="0.92" fill="#4169e1"/>
<circle cx="385.9" cy="104.2" r="0.92" fill="#4169e1"/>
<circle cx="403.5" cy="23.8" r="0.92" fill="#4169e1"/>
<circle cx="396.3" cy="31.1" r="0.92" fill="#4169e1"/>
<circle cx="395.4" cy="36.9" r="0.92" fill="#4169e1"/>
<circle cx="388.2" cy="109.7" r="0.92" fill="#4169e1"/>
<circle cx="394.7" cy="50.2" r="0.92" fill="#4169e1"/>
<circle cx="386.7" cy="94.1" r="0.92" fill="#4169e1"/>
<circle cx="392.2" cy="46.7" r="0.92" fill="#4169e1"/>
<circle cx="389.3" cy="74.1" r="0.92" fill="#4169e1"/>
<circle cx="388.2" cy="89.8" r="0.92" fill="#4169e1"/>
<circle cx="386.7" cy="115.2" r="0.92" fill="#4169e1"/>
<circle cx="390.2" cy="44.8" r="0.92" fill="#4169e1"/>
<circle cx="391.8" cy="35.0" r="0.92" fill="#4169e1"/>
<circle cx="387.5" cy="112.9" r="0.92" fill="#4169e1"/>
<circle cx="405.7" cy="67.6" r="0.92" fill="#4169e1"/>
<circle cx="390.2" cy="121.6" r="0.92" fill="#4169e1"/>
<circle cx="391.8" cy="46.7" r="0.92" fill="#4169e1"/>
<circle cx="389.2" cy="74.0" r="0.92" fill="#4169e1"/>
<circle cx="390.0" cy="57.8" r="0.92" fill="#4169e1"/>
<circle cx="397.2" cy="46.8" r="0.92" fill="#4169e1"/>
<circle cx="390.1" cy="84.1" r="0.92" fill="#4169e1"/>
<circle cx="393.0" cy="70.6" r="0.92" fill="#4169e1"/>
<circle cx="386.6" cy="92.5" r="0.92" fill="#4169e1"/>
<circle cx="388.4" cy="108.9" r="0.92" fill="#4169e1"/>
<circle cx="406.3" cy="57.2" r="0.92" fill="#4169e1"/>
<circle cx="388.3" cy="99.9" r="0.92" fill="#4169e1"/>
<circle cx="400.0" cy="24.5" r="0.92" fill="#4169e1"/>
<circle cx="390.6" cy="67.3" r="0.92" fill="#4169e1"/>
<circle cx="396.5" cy="32.1" r="0.92" fill="#4169e1"/>
<circle cx="397.3" cy="48.2" r="0.92" fill="#4169e1"/>
<circle cx="389.3" cy="76.4" r="0.92" fill="#4169e1"/>
<circle cx="388.4" cy="107.1" r="0.92" fill="#4169e1"/>
<circle cx="394.2" cy="30.7" r="0.92" fill="#4169e1"/>
<circle cx="397.1" cy="27.4" r="0.92" fill="#4169e1"/>
<circle cx="399.8" cy="115.6" r="0.92" fill="#4169e1"/>
<circle cx="387.5" cy="89.2" r="0.92" fill="#4169e1"/>
<circle cx="390.8" cy="46.7" r="0.92" fill="#4169e1"/>
<circle cx="394.1" cy="60.4" r="0.92" fill="#4169e1"/>
<circle cx="400.7" cy="24.3" r="0.92" fill="#4169e1"/>
<circle cx="394.1" cy="65.8" r="0.92" fill="#4169e1"/>
<circle cx="388.0" cy="107.1" r="0.92" fill="#4169e1"/>
<circle cx="388.6" cy="84.1" r="0.92" fill="#4169e1"/>
<circle cx="393.5" cy="68.8" r="0.92" fill="#4169e1"/>
<circle cx="398.1" cy="27.4" r="0.92" fill="#4169e1"/>
<circle cx="388.7" cy="73.7" r="0.92" fill="#4169e1"/>
<circle cx="399.1" cy="47.6" r="0.92" fill="#4169e1"/>
<circle cx="389.9" cy="58.0" r="0.92" fill="#4169e1"/>
<circle cx="393.3" cy="51.3" r="0.92" fill="#4169e1"/>
<circle cx="390.7" cy="63.1" r="0.92" fill="#4169e1"/>
<circle cx="390.3" cy="55.2" r="0.92" fill="#4169e1"/>
<circle cx="392.6" cy="74.0" r="0.92" fill="#4169e1"/>
<circle cx="397.1" cy="31.2" r="0.92" fill="#4169e1"/>
<circle cx="410.2" cy="53.7" r="0.92" fill="#4169e1"/>
<circle cx="384.5" cy="118.6" r="0.92" fill="#4169e1"/>
<circle cx="388.7" cy="93.7" r="0.92" fill="#4169e1"/>
<circle cx="402.6" cy="33.5" r="0.92" fill="#4169e1"/>
<circle cx="392.8" cy="115.6" r="0.92" fill="#4169e1"/>
<circle cx="407.7" cy="87.6" r="0.92" fill="#4169e1"/>
<circle cx="393.4" cy="79.2" r="0.92" fill="#4169e1"/>
<circle cx="397.4" cy="89.2" r="0.92" fill="#4169e1"/>
<circle cx="386.8" cy="110.2" r="0.92" fill="#4169e1"/>
<circle cx="394.2" cy="43.4" r="0.92" fill="#4169e1"/>
<circle cx="389.3" cy="82.7" r="0.92" fill="#4169e1"/>
<circle cx="395.2" cy="110.7" r="0.92" fill="#4169e1"/>
<circle cx="390.6" cy="92.7" r="0.92" fill="#4169e1"/>
<circle cx="387.6" cy="93.6" r="0.92" fill="#4169e1"/>
<circle cx="386.1" cy="105.2" r="0.92" fill="#4169e1"/>
<circle cx="389.7" cy="115.1" r="0.92" fill="#4169e1"/>
<circle cx="390.4" cy="50.6" r="0.92" fill="#4169e1"/>
<circle cx="390.3" cy="83.8" r="0.92" fill="#4169e1"/>
<circle cx="387.0" cy="93.8" r="0.92" fill="#4169e1"/>
<circle cx="387.7" cy="112.2" r="0.92" fill="#4169e1"/>
<circle cx="395.4" cy="67.3" r="0.92" fill="#4169e1"/>
<circle cx="390.1" cy="84.4" r="0.92" fill="#4169e1"/>
<circle cx="392.6" cy="52.2" r="0.92" fill="#4169e1"/>
<circle cx="397.8" cy="25.2" r="0.92" fill="#4169e1"/>
<circle cx="385.9" cy="107.1" r="0.92" fill="#4169e1"/>
<circle cx="402.6" cy="30.9" r="0.92" fill="#4169e1"/>
<circle cx="392.7" cy="60.5" r="0.92" fill="#4169e1"/>
<circle cx="393.9" cy="82.5" r="0.92" fill="#4169e1"/>
<circle cx="397.0" cy="54.8" r="0.92" fill="#4169e1"/>
<circle cx="409.5" cy="22.1" r="0.92" fill="#4169e1"/>
<circle cx="394.4" cy="53.9" r="0.92" fill="#4169e1"/>
<circle cx="396.7" cy="53.3" r="0.92" fill="#4169e1"/>
<circle cx="393.6" cy="60.8" r="0.92" fill="#4169e1"/>
<circle cx="398.8" cy="55.0" r="0.92" fill="#4169e1"/>
<circle cx="387.0" cy="102.0" r="0.92" fill="#4169e1"/>
<circle cx="401.7" cy="99.9" r="0.92" fill="#4169e1"/>
<circle cx="390.8" cy="46.4" r="0.92" fill="#4169e1"/>
<circle cx="402.1" cy="117.9" r="0.92" fill="#4169e1"/>
<circle cx="398.7" cy="35.4" r="0.92" fill="#4169e1"/>
<circle cx="385.7" cy="117.8" r="0.92" fill="#4169e1"/>
<circle cx="387.6" cy="102.4" r="0.92" fill="#4169e1"/>
<circle cx="389.5" cy="103.1" r="0.92" fill="#4169e1"/>
<circle cx="388.5" cy="70.7" r="0.92" fill="#4169e1"/>
<circle cx="393.2" cy="89.2" r="0.92" fill="#4169e1"/>
<circle cx="389.4" cy="51.9" r="0.92" fill="#4169e1"/>
<circle cx="393.7" cy="31.3" r="0.92" fill="#4169e1"/>
<circle cx="388.2" cy="124.7" r="0.92" fill="#4169e1"/>
<circle cx="392.0" cy="114.3" r="0.92" fill="#4169e1"/>
<circle cx="393.1" cy="35.8" r="0.92" fill="#4169e1"/>
<circle cx="393.6" cy="119.8" r="0.92" fill="#4169e1"/>
<circle cx="390.4" cy="124.1" r="0.92" fill="#4169e1"/>
<circle cx="394.2" cy="95.2" r="0.92" fill="#4169e1"/>
<circle cx="387.3" cy="116.2" r="0.92" fill="#4169e1"/>
<circle cx="398.0" cy="25.4" r="0.92" fill="#4169e1"/>
<circle cx="399.7" cy="23.4" r="0.92" fill="#4169e1"/>
<circle cx="388.7" cy="82.8" r="0.92" fill="#4169e1"/>
<circle cx="390.1" cy="47.6" r="0.92" fill="#4169e1"/>
<circle cx="392.6" cy="58.9" r="0.92" fill="#4169e1"/>
<circle cx="402.7" cy="82.9" r="0.92" fill="#4169e1"/>
<circle cx="394.6" cy="29.3" r="0.92" fill="#4169e1"/>
<circle cx="407.3" cy="29.9" r="0.92" fill="#4169e1"/>
<circle cx="392.6" cy="87.1" r="0.92" fill="#4169e1"/>
<circle cx="385.3" cy="105.8" r="0.92" fill="#4169e1"/>
<circle cx="386.5" cy="115.0" r="0.92" fill="#4169e1"/>
<circle cx="389.6" cy="86.7" r="0.92" fill="#4169e1"/>
<circle cx="388.0" cy="98.8" r="0.92" fill="#4169e1"/>
<circle cx="390.8" cy="50.6" r="0.92" fill="#4169e1"/>
<circle cx="389.6" cy="96.6" r="0.92" fill="#4169e1"/>
<circle cx="392.7" cy="38.0" r="0.92" fill="#4169e1"/>
<circle cx="389.6" cy="80.5" r="0.92" fill="#4169e1"/>
<circle cx="397.1" cy="83.0" r="0.92" fill="#4169e1"/>
<circle cx="395.6" cy="87.9" r="0.92" fill="#4169e1"/>
<circle cx="400.3" cy="53.2" r="0.92" fill="#4169e1"/>
<circle cx="387.7" cy="118.9" r="0.92" fill="#4169e1"/>
<circle cx="397.4" cy="24.4" r="0.92" fill="#4169e1"/>
<circle cx="397.1" cy="100.0" r="0.92" fill="#4169e1"/>
<circle cx="390.1" cy="96.6" r="0.92" fill="#4169e1"/>
<circle cx="388.0" cy="77.6" r="0.92" fill="#4169e1"/>
<circle cx="395.0" cy="43.2" r="0.92" fill="#4169e1"/>
<circle cx="390.7" cy="109.6" r="0.92" fill="#4169e1"/>
<circle cx="390.2" cy="58.1" r="0.92" fill="#4169e1"/>
<circle cx="400.6" cy="97.5" r="0.92" fill="#4169e1"/>
<circle cx="387.4" cy="112.4" r="0.92" fill="#4169e1"/>
<circle cx="395.3" cy="98.7" r="0.92" fill="#4169e1"/>
<circle cx="396.3" cy="60.7" r="0.92" fill="#4169e1"/>
<circle cx="389.7" cy="61.7" r="0.92" fill="#4169e1"/>
<circle cx="406.3" cy="22.0" r="0.92" fill="#4169e1"/>
<circle cx="386.2" cy="99.5" r="0.92" fill="#4169e1"/>
<circle cx="395.4" cy="28.4" r="0.92" fill="#4169e1"/>
<circle cx="397.1" cy="43.5" r="0.92" fill="#4169e1"/>
<circle cx="394.8" cy="41.6" r="0.92" fill="#4169e1"/>
<circle cx="389.6" cy="78.7" r="0.92" fill="#4169e1"/>
<circle cx="388.0" cy="110.0" r="0.92" fill="#4169e1"/>
<circle cx="393.5" cy="74.7" r="0.92" fill="#4169e1"/>
<circle cx="389.4" cy="63.7" r="0.92" fill="#4169e1"/>
<circle cx="390.6" cy="120.1" r="0.92" fill="#4169e1"/>
<circle cx="391.0" cy="78.2" r="0.92" fill="#4169e1"/>
<circle cx="388.7" cy="85.6" r="0.92" fill="#4169e1"/>
<circle cx="397.2" cy="29.5" r="0.92" fill="#4169e1"/>
<circle cx="384.9" cy="114.7" r="0.92" fill="#4169e1"/>
<circle cx="384.0" cy="123.1" r="0.92" fill="#4169e1"/>
<circle cx="388.7" cy="124.8" r="0.92" fill="#4169e1"/>
<circle cx="390.6" cy="50.0" r="0.92" fill="#4169e1"/>
<circle cx="405.9" cy="113.5" r="0.92" fill="#4169e1"/>
<circle cx="390.2" cy="104.9" r="0.92" fill="#4169e1"/>
<circle cx="395.6" cy="78.0" r="0.92" fill="#4169e1"/>
<circle cx="395.1" cy="106.7" r="0.92" fill="#4169e1"/>
<circle cx="398.8" cy="51.7" r="0.92" fill="#4169e1"/>
<circle cx="387.6" cy="120.2" r="0.92" fill="#4169e1"/>
<circle cx="399.4" cy="23.0" r="0.92" fill="#4169e1"/>
<circle cx="389.7" cy="89.1" r="0.92" fill="#4169e1"/>
<circle cx="389.8" cy="116.5" r="0.92" fill="#4169e1"/>
<circle cx="387.3" cy="94.0" r="0.92" fill="#4169e1"/>
<circle cx="394.2" cy="76.1" r="0.92" fill="#4169e1"/>
<circle cx="396.9" cy="116.4" r="0.92" fill="#4169e1"/>
<circle cx="393.2" cy="49.2" r="0.92" fill="#4169e1"/>
<circle cx="382.1" cy="122.8" r="0.92" fill="#4169e1"/>
<circle cx="394.1" cy="29.3" r="0.92" fill="#4169e1"/>
<circle cx="388.4" cy="97.3" r="0.92" fill="#4169e1"/>
<circle cx="396.0" cy="94.9" r="0.92" fill="#4169e1"/>
<circle cx="385.6" cy="105.3" r="0.92" fill="#4169e1"/>
<circle cx="395.2" cy="92.9" r="0.92" fill="#4169e1"/>
<circle cx="397.3" cy="94.4" r="0.92" fill="#4169e1"/>
<circle cx="390.5" cy="106.2" r="0.92" fill="#4169e1"/>
<circle cx="389.1" cy="111.2" r="0.92" fill="#4169e1"/>
<circle cx="393.1" cy="33.1" r="0.92" fill="#4169e1"/>
<circle cx="386.2" cy="118.1" r="0.92" fill="#4169e1"/>
<circle cx="399.2" cy="70.6" r="0.92" fill="#4169e1"/>
<circle cx="395.0" cy="92.6" r="0.92" fill="#4169e1"/>
<circle cx="391.7" cy="70.4" r="0.92" fill="#4169e1"/>
<circle cx="393.9" cy="29.9" r="0.92" fill="#4169e1"/>
<circle cx="394.5" cy="38.3" r="0.92" fill="#4169e1"/>
<circle cx="387.8" cy="76.2" r="0.92" fill="#4169e1"/>
<circle cx="387.3" cy="87.4" r="0.92" fill="#4169e1"/>
<circle cx="388.6" cy="61.7" r="0.92" fill="#4169e1"/>
<circle cx="388.6" cy="70.9" r="0.92" fill="#4169e1"/>
<circle cx="386.0" cy="118.9" r="0.92" fill="#4169e1"/>
<circle cx="388.4" cy="107.4" r="0.92" fill="#4169e1"/>
<circle cx="399.0" cy="55.7" r="0.92" fill="#4169e1"/>
<circle cx="393.3" cy="50.3" r="0.92" fill="#4169e1"/>
<circle cx="414.8" cy="87.8" r="0.92" fill="#4169e1"/>
<circle cx="386.6" cy="94.5" r="0.92" fill="#4169e1"/>
<circle cx="404.6" cy="69.0" r="0.92" fill="#4169e1"/>
<circle cx="387.4" cy="110.0" r="0.92" fill="#4169e1"/>
<circle cx="392.2" cy="35.2" r="0.92" fill="#4169e1"/>
<circle cx="387.0" cy="100.0" r="0.92" fill="#4169e1"/>
<circle cx="386.1" cy="113.9" r="0.92" fill="#4169e1"/>
<circle cx="392.9" cy="93.0" r="0.92" fill="#4169e1"/>
<circle cx="393.6" cy="47.0" r="0.92" fill="#4169e1"/>
<circle cx="388.4" cy="86.7" r="0.92" fill="#4169e1"/>
<circle cx="392.8" cy="76.8" r="0.92" fill="#4169e1"/>
<circle cx="384.5" cy="120.6" r="0.92" fill="#4169e1"/>
<circle cx="394.0" cy="39.9" r="0.92" fill="#4169e1"/>
<circle cx="390.6" cy="83.5" r="0.92" fill="#4169e1"/>
<circle cx="385.5" cy="116.0" r="0.92" fill="#4169e1"/>
<circle cx="391.0" cy="74.4" r="0.92" fill="#4169e1"/>
<circle cx="393.3" cy="42.4" r="0.92" fill="#4169e1"/>
<circle cx="390.5" cy="68.6" r="0.92" fill="#4169e1"/>
<circle cx="409.4" cy="101.6" r="0.92" fill="#4169e1"/>
<circle cx="383.4" cy="121.8" r="0.92" fill="#4169e1"/>
<circle cx="405.0" cy="60.3" r="0.92" fill="#4169e1"/>
<circle cx="392.9" cy="30.6" r="0.92" fill="#4169e1"/>
<circle cx="410.9" cy="28.7" r="0.92" fill="#4169e1"/>
<circle cx="390.7" cy="74.1" r="0.92" fill="#4169e1"/>
<circle cx="403.6" cy="32.1" r="0.92" fill="#4169e1"/>
<circle cx="387.3" cy="124.3" r="0.92" fill="#4169e1"/>
<circle cx="388.8" cy="116.0" r="0.92" fill="#4169e1"/>
<circle cx="390.1" cy="54.0" r="0.92" fill="#4169e1"/>
<circle cx="389.9" cy="53.3" r="0.92" fill="#4169e1"/>
<circle cx="388.8" cy="59.9" r="0.92" fill="#4169e1"/>
<circle cx="407.7" cy="26.2" r="0.92" fill="#4169e1"/>
<circle cx="394.2" cy="109.4" r="0.92" fill="#4169e1"/>
<circle cx="392.0" cy="58.2" r="0.92" fill="#4169e1"/>
<circle cx="395.8" cy="77.9" r="0.92" fill="#4169e1"/>
<circle cx="393.0" cy="53.3" r="0.92" fill="#4169e1"/>
<circle cx="397.3" cy="78.6" r="0.92" fill="#4169e1"/>
<circle cx="388.7" cy="58.0" r="0.92" fill="#4169e1"/>
<circle cx="400.1" cy="63.6" r="0.92" fill="#4169e1"/>
<circle cx="395.5" cy="40.0" r="0.92" fill="#4169e1"/>
<circle cx="392.2" cy="35.6" r="0.92" fill="#4169e1"/>
<circle cx="387.3" cy="86.3" r="0.92" fill="#4169e1"/>
<circle cx="392.8" cy="68.8" r="0.92" fill="#4169e1"/>
<circle cx="396.2" cy="62.0" r="0.92" fill="#4169e1"/>
<circle cx="386.8" cy="109.2" r="0.92" fill="#4169e1"/>
<circle cx="328.1" cy="104.8" r="0.92" fill="#4169e1"/>
<circle cx="334.3" cy="99.9" r="0.92" fill="#4169e1"/>
<circle cx="328.8" cy="99.0" r="0.92" fill="#4169e1"/>
<circle cx="341.2" cy="102.7" r="0.92" fill="#4169e1"/>
<circle cx="330.1" cy="101.5" r="0.92" fill="#4169e1"/>
<circle cx="317.8" cy="95.9" r="0.92" fill="#4169e1"/>
<circle cx="335.4" cy="91.4" r="0.92" fill="#4169e1"/>
<circle cx="333.9" cy="99.1" r="0.92" fill="#4169e1"/>
<circle cx="331.8" cy="87.5" r="0.92" fill="#4169e1"/>
<circle cx="335.9" cy="85.5" r="0.92" fill="#4169e1"/>
<circle cx="330.7" cy="95.5" r="0.92" fill="#4169e1"/>
<circle cx="316.1" cy="88.9" r="0.92" fill="#4169e1"/>
<circle cx="336.6" cy="96.2" r="0.92" fill="#4169e1"/>
<circle cx="321.5" cy="83.2" r="0.92" fill="#4169e1"/>
<circle cx="341.1" cy="88.9" r="0.92" fill="#4169e1"/>
<circle cx="341.8" cy="91.2" r="0.92" fill="#4169e1"/>
<circle cx="340.9" cy="90.7" r="0.92" fill="#4169e1"/>
<circle cx="339.6" cy="98.0" r="0.92" fill="#4169e1"/>
<circle cx="312.6" cy="104.7" r="0.92" fill="#4169e1"/>
<circle cx="339.4" cy="110.0" r="0.92" fill="#4169e1"/>
<circle cx="329.2" cy="102.5" r="0.92" fill="#4169e1"/>
<circle cx="338.9" cy="103.7" r="0.92" fill="#4169e1"/>
<circle cx="328.0" cy="87.8" r="0.92" fill="#4169e1"/>
<circle cx="339.8" cy="101.7" r="0.92" fill="#4169e1"/>
<circle cx="344.2" cy="102.0" r="0.92" fill="#4169e1"/>
<circle cx="317.6" cy="105.5" r="0.92" fill="#4169e1"/>
<circle cx="343.5" cy="111.1" r="0.92" fill="#4169e1"/>
<circle cx="326.7" cy="102.7" r="0.92" fill="#4169e1"/>
<circle cx="333.7" cy="86.2" r="0.92" fill="#4169e1"/>
<circle cx="342.0" cy="87.7" r="0.92" fill="#4169e1"/>
<circle cx="341.0" cy="82.8" r="0.92" fill="#4169e1"/>
<circle cx="334.4" cy="107.5" r="0.92" fill="#4169e1"/>
<circle cx="322.4" cy="86.5" r="0.92" fill="#4169e1"/>
<circle cx="332.4" cy="108.9" r="0.92" fill="#4169e1"/>
<circle cx="342.7" cy="92.0" r="0.92" fill="#4169e1"/>
<circle cx="339.4" cy="95.2" r="0.92" fill="#4169e1"/>
<circle cx="331.5" cy="89.8" r="0.92" fill="#4169e1"/>
<circle cx="341.4" cy="101.1" r="0.92" fill="#4169e1"/>
<circle cx="336.7" cy="87.2" r="0.92" fill="#4169e1"/>
<circle cx="331.9" cy="103.3" r="0.92" fill="#4169e1"/>
<circle cx="317.7" cy="101.2" r="0.92" fill="#4169e1"/>
<circle cx="338.0" cy="104.7" r="0.92" fill="#4169e1"/>
<circle cx="331.9" cy="104.4" r="0.92" fill="#4169e1"/>
<circle cx="342.8" cy="92.2" r="0.92" fill="#4169e1"/>
<circle cx="329.8" cy="93.3" r="0.92" fill="#4169e1"/>
<circle cx="340.7" cy="104.5" r="0.92" fill="#4169e1"/>
<circle cx="344.1" cy="98.2" r="0.92" fill="#4169e1"/>
<circle cx="337.8" cy="99.9" r="0.92" fill="#4169e1"/>
<circle cx="321.3" cy="105.0" r="0.92" fill="#4169e1"/>
<circle cx="304.7" cy="83.6" r="0.92" fill="#4169e1"/>
<circle cx="305.1" cy="87.1" r="0.92" fill="#4169e1"/>
<circle cx="342.0" cy="111.6" r="0.92" fill="#4169e1"/>
<circle cx="343.1" cy="90.7" r="0.92" fill="#4169e1"/>
<circle cx="328.0" cy="109.3" r="0.92" fill="#4169e1"/>
<circle cx="325.3" cy="111.0" r="0.92" fill="#4169e1"/>
<circle cx="327.2" cy="92.8" r="0.92" fill="#4169e1"/>
<circle cx="340.2" cy="92.7" r="0.92" fill="#4169e1"/>
<circle cx="330.5" cy="94.8" r="0.92" fill="#4169e1"/>
<circle cx="335.1" cy="91.5" r="0.92" fill="#4169e1"/>
<circle cx="326.0" cy="99.0" r="0.92" fill="#4169e1"/>
<circle cx="338.5" cy="96.1" r="0.92" fill="#4169e1"/>
<circle cx="337.6" cy="98.7" r="0.92" fill="#4169e1"/>
<circle cx="343.6" cy="103.9" r="0.92" fill="#4169e1"/>
<circle cx="344.5" cy="87.3" r="0.92" fill="#4169e1"/>
<circle cx="322.3" cy="94.4" r="0.92" fill="#4169e1"/>
<circle cx="332.9" cy="100.0" r="0.92" fill="#4169e1"/>
<circle cx="324.3" cy="110.1" r="0.92" fill="#4169e1"/>
<circle cx="342.0" cy="90.8" r="0.92" fill="#4169e1"/>
<circle cx="341.9" cy="98.1" r="0.92" fill="#4169e1"/>
<circle cx="344.0" cy="99.9" r="0.92" fill="#4169e1"/>
<circle cx="329.6" cy="93.7" r="0.92" fill="#4169e1"/>
<circle cx="343.1" cy="89.6" r="0.92" fill="#4169e1"/>
<circle cx="342.4" cy="104.5" r="0.92" fill="#4169e1"/>
<circle cx="333.6" cy="109.0" r="0.92" fill="#4169e1"/>
<circle cx="335.9" cy="108.7" r="0.92" fill="#4169e1"/>
<circle cx="341.4" cy="96.7" r="0.92" fill="#4169e1"/>
<circle cx="308.2" cy="83.7" r="0.92" fill="#4169e1"/>
<circle cx="344.0" cy="88.6" r="0.92" fill="#4169e1"/>
<circle cx="335.8" cy="110.0" r="0.92" fill="#4169e1"/>
<circle cx="314.8" cy="99.4" r="0.92" fill="#4169e1"/>
<circle cx="341.4" cy="104.0" r="0.92" fill="#4169e1"/>
<circle cx="332.2" cy="90.5" r="0.92" fill="#4169e1"/>
<circle cx="341.9" cy="102.4" r="0.92" fill="#4169e1"/>
<circle cx="336.5" cy="89.5" r="0.92" fill="#4169e1"/>
<circle cx="325.4" cy="83.8" r="0.92" fill="#4169e1"/>
<circle cx="343.0" cy="101.7" r="0.92" fill="#4169e1"/>
<circle cx="334.2" cy="99.4" r="0.92" fill="#4169e1"/>
<circle cx="338.3" cy="84.7" r="0.92" fill="#4169e1"/>
<circle cx="337.7" cy="105.8" r="0.92" fill="#4169e1"/>
<circle cx="341.8" cy="103.8" r="0.92" fill="#4169e1"/>
<circle cx="331.8" cy="111.9" r="0.92" fill="#4169e1"/>
<circle cx="344.9" cy="98.7" r="0.92" fill="#4169e1"/>
<circle cx="345.0" cy="92.7" r="0.92" fill="#4169e1"/>
<circle cx="342.7" cy="95.2" r="0.92" fill="#4169e1"/>
<circle cx="340.6" cy="89.3" r="0.92" fill="#4169e1"/>
<circle cx="341.0" cy="86.3" r="0.92" fill="#4169e1"/>
<circle cx="343.3" cy="97.1" r="0.92" fill="#4169e1"/>
<circle cx="309.3" cy="98.8" r="0.92" fill="#4169e1"/>
<circle cx="308.0" cy="103.6" r="0.92" fill="#4169e1"/>
<circle cx="332.0" cy="85.3" r="0.92" fill="#4169e1"/>
<circle cx="312.2" cy="89.2" r="0.92" fill="#4169e1"/>
<circle cx="329.6" cy="96.9" r="0.92" fill="#4169e1"/>
<circle cx="343.3" cy="105.3" r="0.92" fill="#4169e1"/>
<circle cx="325.0" cy="85.0" r="0.92" fill="#4169e1"/>
<circle cx="338.2" cy="106.6" r="0.92" fill="#4169e1"/>
<circle cx="344.7" cy="82.7" r="0.92" fill="#4169e1"/>
<circle cx="330.7" cy="106.0" r="0.92" fill="#4169e1"/>
<circle cx="331.4" cy="93.2" r="0.92" fill="#4169e1"/>
<circle cx="414.8" cy="88.2" r="0.92" fill="#4169e1"/>
<circle cx="413.1" cy="114.4" r="0.92" fill="#4169e1"/>
<circle cx="416.5" cy="111.9" r="0.92" fill="#4169e1"/>
<circle cx="404.9" cy="104.4" r="0.92" fill="#4169e1"/>
<circle cx="396.1" cy="109.4" r="0.92" fill="#4169e1"/>
<circle cx="410.8" cy="98.9" r="0.92" fill="#4169e1"/>
<circle cx="394.3" cy="92.8" r="0.92" fill="#4169e1"/>
<circle cx="403.8" cy="112.9" r="0.92" fill="#4169e1"/>
<circle cx="405.7" cy="111.4" r="0.92" fill="#4169e1"/>
<circle cx="398.1" cy="94.8" r="0.92" fill="#4169e1"/>
<circle cx="399.4" cy="95.8" r="0.92" fill="#4169e1"/>
<circle cx="414.5" cy="98.0" r="0.92" fill="#4169e1"/>
<circle cx="401.6" cy="106.4" r="0.92" fill="#4169e1"/>
<circle cx="405.1" cy="111.7" r="0.92" fill="#4169e1"/>
<circle cx="411.8" cy="110.5" r="0.92" fill="#4169e1"/>
<circle cx="404.5" cy="98.7" r="0.92" fill="#4169e1"/>
<circle cx="405.2" cy="114.7" r="0.92" fill="#4169e1"/>
<circle cx="418.5" cy="103.3" r="0.92" fill="#4169e1"/>
<circle cx="406.3" cy="90.0" r="0.92" fill="#4169e1"/>
<circle cx="416.2" cy="104.5" r="0.92" fill="#4169e1"/>
<circle cx="404.1" cy="92.5" r="0.92" fill="#4169e1"/>
<circle cx="405.7" cy="107.1" r="0.92" fill="#4169e1"/>
<circle cx="400.3" cy="95.2" r="0.92" fill="#4169e1"/>
<circle cx="406.8" cy="101.4" r="0.92" fill="#4169e1"/>
<circle cx="393.2" cy="89.7" r="0.92" fill="#4169e1"/>
<circle cx="403.1" cy="107.1" r="0.92" fill="#4169e1"/>
<circle cx="403.3" cy="88.4" r="0.92" fill="#4169e1"/>
<circle cx="399.6" cy="93.3" r="0.92" fill="#4169e1"/>
<circle cx="413.6" cy="94.2" r="0.92" fill="#4169e1"/>
<circle cx="419.5" cy="95.8" r="0.92" fill="#4169e1"/>
<circle cx="397.9" cy="88.5" r="0.92" fill="#4169e1"/>
<circle cx="406.3" cy="101.9" r="0.92" fill="#4169e1"/>
<circle cx="414.1" cy="106.1" r="0.92" fill="#4169e1"/>
<circle cx="407.7" cy="89.4" r="0.92" fill="#4169e1"/>
<circle cx="418.0" cy="94.7" r="0.92" fill="#4169e1"/>
<circle cx="300.5" cy="22.4" r="0.92" fill="#4169e1"/>
<circle cx="321.5" cy="32.0" r="0.92" fill="#4169e1"/>
<circle cx="301.0" cy="58.0" r="0.92" fill="#4169e1"/>
<circle cx="294.5" cy="94.5" r="0.92" fill="#4169e1"/>
<circle cx="303.0" cy="81.0" r="0.92" fill="#4169e1"/>
<circle cx="309.0" cy="74.0" r="0.92" fill="#4169e1"/>
<circle cx="431.0" cy="24.0" r="0.92" fill="#4169e1"/>
<circle cx="428.0" cy="31.0" r="0.92" fill="#4169e1"/>
<circle cx="424.0" cy="55.0" r="0.92" fill="#4169e1"/>
<circle cx="420.0" cy="81.0" r="0.92" fill="#4169e1"/>
<circle cx="428.0" cy="103.0" r="0.92" fill="#4169e1"/>
<circle cx="344.2" cy="22.0" r="0.8" fill="#4169e1"/>
<circle cx="355.9" cy="21.8" r="0.8" fill="#4169e1"/>
<circle cx="378.7" cy="22.0" r="0.8" fill="#4169e1"/>
<circle cx="349.8" cy="22.1" r="0.8" fill="#4169e1"/>
<circle cx="341.2" cy="22.2" r="0.8" fill="#4169e1"/>
<circle cx="388.7" cy="21.8" r="0.8" fill="#4169e1"/>
<circle cx="357.4" cy="22.0" r="0.8" fill="#4169e1"/>
<circle cx="408.5" cy="21.7" r="0.8" fill="#4169e1"/>
<circle cx="347.2" cy="21.7" r="0.8" fill="#4169e1"/>
<circle cx="370.6" cy="21.9" r="0.8" fill="#4169e1"/>
<circle cx="370.7" cy="21.9" r="0.8" fill="#4169e1"/>
<circle cx="364.1" cy="22.1" r="0.8" fill="#4169e1"/>
<circle cx="401.2" cy="22.0" r="0.8" fill="#4169e1"/>
<circle cx="364.6" cy="22.1" r="0.8" fill="#4169e1"/>
<circle cx="376.9" cy="21.7" r="0.8" fill="#4169e1"/>
<circle cx="357.4" cy="21.8" r="0.8" fill="#4169e1"/>
<circle cx="337.3" cy="21.6" r="0.8" fill="#4169e1"/>
<circle cx="366.5" cy="21.7" r="0.8" fill="#4169e1"/>
<circle cx="393.1" cy="22.1" r="0.8" fill="#4169e1"/>
<circle cx="403.3" cy="21.6" r="0.8" fill="#4169e1"/>
<circle cx="366.7" cy="21.6" r="0.8" fill="#4169e1"/>
<circle cx="352.8" cy="22.1" r="0.8" fill="#4169e1"/>
<circle cx="351.9" cy="21.8" r="0.8" fill="#4169e1"/>
<circle cx="346.0" cy="21.6" r="0.8" fill="#4169e1"/>
<circle cx="348.7" cy="21.8" r="0.8" fill="#4169e1"/>
<circle cx="390.9" cy="21.8" r="0.8" fill="#4169e1"/>
<circle cx="392.6" cy="21.8" r="0.8" fill="#4169e1"/>
<circle cx="391.7" cy="22.1" r="0.8" fill="#4169e1"/>
<circle cx="374.7" cy="22.1" r="0.8" fill="#4169e1"/>
<circle cx="358.6" cy="21.7" r="0.8" fill="#4169e1"/>
<circle cx="403.1" cy="22.1" r="0.8" fill="#4169e1"/>
<circle cx="382.9" cy="21.7" r="0.8" fill="#4169e1"/>
<circle cx="360.9" cy="22.0" r="0.8" fill="#4169e1"/>
<circle cx="336.8" cy="21.9" r="0.8" fill="#4169e1"/>
<circle cx="333.8" cy="21.6" r="0.8" fill="#4169e1"/>
<circle cx="389.2" cy="22.2" r="0.8" fill="#4169e1"/>
<circle cx="400.4" cy="22.0" r="0.8" fill="#4169e1"/>
<circle cx="366.6" cy="22.1" r="0.8" fill="#4169e1"/>
<circle cx="371.5" cy="22.0" r="0.8" fill="#4169e1"/>
<circle cx="367.7" cy="21.9" r="0.8" fill="#4169e1"/>
<circle cx="386.8" cy="21.8" r="0.8" fill="#4169e1"/>
<circle cx="367.8" cy="21.7" r="0.8" fill="#4169e1"/>
<circle cx="408.7" cy="21.9" r="0.8" fill="#4169e1"/>
<circle cx="360.3" cy="21.9" r="0.8" fill="#4169e1"/>
<circle cx="352.3" cy="22.2" r="0.8" fill="#4169e1"/>
<circle cx="347.5" cy="22.0" r="0.8" fill="#4169e1"/>
<circle cx="359.0" cy="21.9" r="0.8" fill="#4169e1"/>
<circle cx="354.8" cy="21.6" r="0.8" fill="#4169e1"/>
<circle cx="301.5" cy="21.9" r="0.8" fill="#4169e1"/>
<circle cx="411.0" cy="21.8" r="0.8" fill="#4169e1"/>
<circle cx="353.4" cy="21.8" r="0.8" fill="#4169e1"/>
<circle cx="403.8" cy="21.9" r="0.8" fill="#4169e1"/>
<circle cx="352.7" cy="22.0" r="0.8" fill="#4169e1"/>
<circle cx="330.0" cy="22.2" r="0.8" fill="#4169e1"/>
<circle cx="388.9" cy="22.2" r="0.8" fill="#4169e1"/>
<circle cx="406.4" cy="21.8" r="0.8" fill="#4169e1"/>
<circle cx="405.8" cy="22.0" r="0.8" fill="#4169e1"/>
<circle cx="342.3" cy="21.9" r="0.8" fill="#4169e1"/>
<circle cx="334.7" cy="22.1" r="0.8" fill="#4169e1"/>
<circle cx="404.1" cy="21.8" r="0.8" fill="#4169e1"/>
<circle cx="364.7" cy="22.1" r="0.8" fill="#4169e1"/>
<circle cx="373.1" cy="21.8" r="0.8" fill="#4169e1"/>
<circle cx="351.5" cy="21.8" r="0.8" fill="#4169e1"/>
<circle cx="331.5" cy="22.2" r="0.8" fill="#4169e1"/>
<circle cx="350.0" cy="22.0" r="0.8" fill="#4169e1"/>
<circle cx="397.9" cy="22.0" r="0.8" fill="#4169e1"/>
<circle cx="365.2" cy="21.9" r="0.8" fill="#4169e1"/>
<circle cx="356.1" cy="21.6" r="0.8" fill="#4169e1"/>
<circle cx="405.2" cy="21.8" r="0.8" fill="#4169e1"/>
<circle cx="376.4" cy="21.7" r="0.8" fill="#4169e1"/>
<circle cx="416.0" cy="22.2" r="0.85" fill="#4169e1"/>
<circle cx="421.0" cy="22.2" r="0.85" fill="#4169e1"/>
<circle cx="428.7" cy="22.2" r="0.85" fill="#4169e1"/>
<circle cx="436.3" cy="22.2" r="0.85" fill="#4169e1"/>
<circle cx="305.0" cy="22.2" r="0.85" fill="#4169e1"/>
<circle cx="313.8" cy="22.2" r="0.85" fill="#4169e1"/>
<circle cx="351.7" cy="125.3" r="0.8" fill="#4169e1"/>
<circle cx="360.3" cy="125.3" r="0.8" fill="#4169e1"/>
<circle cx="346.8" cy="125.3" r="0.8" fill="#4169e1"/>
<circle cx="351.5" cy="125.3" r="0.8" fill="#4169e1"/>
<circle cx="364.3" cy="125.3" r="0.8" fill="#4169e1"/>
<circle cx="362.7" cy="125.3" r="0.8" fill="#4169e1"/>
<circle cx="362.7" cy="125.3" r="0.8" fill="#4169e1"/>
<circle cx="341.9" cy="125.3" r="0.8" fill="#4169e1"/>
<circle cx="365.3" cy="125.3" r="0.8" fill="#4169e1"/>
<circle cx="355.0" cy="125.3" r="0.8" fill="#4169e1"/>
<circle cx="344.8" cy="125.3" r="0.8" fill="#4169e1"/>
<circle cx="365.6" cy="125.3" r="0.8" fill="#4169e1"/>
<circle cx="344.1" cy="125.3" r="0.8" fill="#4169e1"/>
<circle cx="365.6" cy="125.3" r="0.8" fill="#4169e1"/>
<circle cx="341.8" cy="125.3" r="0.8" fill="#4169e1"/>
<circle cx="343.0" cy="125.3" r="0.8" fill="#4169e1"/>
<circle cx="352.8" cy="125.3" r="0.8" fill="#4169e1"/>
<circle cx="356.2" cy="125.3" r="0.8" fill="#4169e1"/>
<circle cx="355.6" cy="125.3" r="0.8" fill="#4169e1"/>
<circle cx="361.4" cy="125.3" r="0.8" fill="#4169e1"/>
<circle cx="343.7" cy="125.3" r="0.8" fill="#4169e1"/>
<circle cx="359.1" cy="125.3" r="0.8" fill="#4169e1"/>
<circle cx="349.0" cy="125.3" r="0.8" fill="#4169e1"/>
<circle cx="364.9" cy="125.3" r="0.8" fill="#4169e1"/>
<circle cx="356.6" cy="125.3" r="0.8" fill="#4169e1"/>
<circle cx="358.3" cy="125.3" r="0.8" fill="#4169e1"/>
<circle cx="344.3" cy="125.3" r="0.8" fill="#4169e1"/>
<circle cx="363.9" cy="125.3" r="0.8" fill="#4169e1"/>
<circle cx="348.2" cy="125.3" r="0.8" fill="#4169e1"/>
<circle cx="346.2" cy="125.3" r="0.8" fill="#4169e1"/>
<circle cx="391.3" cy="22.4" r="1.1" fill="#e8141c"/>
<circle cx="388.4" cy="64.0" r="1.1" fill="#e8141c"/>
<circle cx="380.8" cy="101.2" r="1.1" fill="#e8141c"/>
<circle cx="384.8" cy="101.8" r="1.1" fill="#e8141c"/>
<circle cx="372.0" cy="119.0" r="1.1" fill="#e8141c"/>
<circle cx="377.0" cy="119.6" r="1.1" fill="#e8141c"/>
<circle cx="374.0" cy="125.7" r="1.1" fill="#e8141c"/>
<line x1="283.50" y1="7.50" x2="283.50" y2="137.80" stroke="#000" stroke-width="1.5" />
<line x1="282.80" y1="137.10" x2="447.00" y2="137.10" stroke="#000" stroke-width="1.5" />
<line x1="279.90" y1="128.80" x2="283.50" y2="128.80" stroke="#000" stroke-width="1.2" />
<text x="267.40" y="132.00" font-size="11.2" font-weight="bold" text-anchor="end" fill="#000" >0.0</text>
<line x1="279.90" y1="86.70" x2="283.50" y2="86.70" stroke="#000" stroke-width="1.2" />
<text x="267.90" y="89.20" font-size="11.2" font-weight="bold" text-anchor="end" fill="#000" >0.2</text>
<line x1="279.90" y1="44.60" x2="283.50" y2="44.60" stroke="#000" stroke-width="1.2" />
<text x="265.20" y="45.90" font-size="11.2" font-weight="bold" text-anchor="end" fill="#000" >0.4</text>
<line x1="290.60" y1="137.10" x2="290.60" y2="141.50" stroke="#000" stroke-width="1.2" />
<text x="287.00" y="155.60" font-size="11" font-weight="bold" text-anchor="middle" fill="#000" >-8</text>
<line x1="333.00" y1="137.10" x2="333.00" y2="141.50" stroke="#000" stroke-width="1.2" />
<text x="326.70" y="155.60" font-size="11" font-weight="bold" text-anchor="middle" fill="#000" >-4</text>
<line x1="375.40" y1="137.10" x2="375.40" y2="141.50" stroke="#000" stroke-width="1.2" />
<text x="372.40" y="155.60" font-size="11" font-weight="bold" text-anchor="middle" fill="#000" >0</text>
<line x1="417.80" y1="137.10" x2="417.80" y2="141.50" stroke="#000" stroke-width="1.2" />
<text x="417.10" y="155.60" font-size="11" font-weight="bold" text-anchor="middle" fill="#000" >4</text>
<text x="365.8" y="175.2" font-size="11.6" font-weight="bold" text-anchor="middle">Log<tspan font-size="7.5" dy="2.5">2</tspan><tspan dy="-2.5"> fold change</tspan></text>
<text transform="translate(244.0,85.2) rotate(-90)" font-size="11.9" font-weight="bold" text-anchor="middle">-Log<tspan font-size="7.5" dy="2.5">10</tspan><tspan dy="-2.5"> Adjusted p-value</tspan></text>
<ellipse cx="322.6" cy="4.0" rx="3.3" ry="2.4" fill="#e8141c"/>
<text x="335.80" y="7.50" font-size="10.45" font-weight="bold" text-anchor="start" fill="#000" >Altered Eph genes</text>
<defs>
<filter id="b1" x="-50%" y="-50%" width="200%" height="200%"><feGaussianBlur stdDeviation="1.2"/></filter>
<filter id="b2" x="-50%" y="-50%" width="200%" height="200%"><feGaussianBlur stdDeviation="2"/></filter>
<filter id="b3" x="-50%" y="-50%" width="200%" height="200%"><feGaussianBlur stdDeviation="3"/></filter>
<filter id="b05" x="-50%" y="-50%" width="200%" height="200%"><feGaussianBlur stdDeviation="0.9"/></filter>
<filter id="b15" x="-50%" y="-50%" width="200%" height="200%"><feGaussianBlur stdDeviation="1.9"/></filter>
<clipPath id="cb1"><rect x="58.5" y="248" width="105.5" height="27.8"/></clipPath>
<clipPath id="cb2"><rect x="58.5" y="279.4" width="105.5" height="26.4"/></clipPath>
<clipPath id="cb3"><rect x="58.2" y="312.6" width="104.8" height="22.1"/></clipPath>
<clipPath id="cc"><rect x="454" y="238" width="122" height="203"/></clipPath>
<linearGradient id="g120a" x1="0" y1="0" x2="0" y2="1"><stop offset="0" stop-color="#6a6a6a"/><stop offset="0.5" stop-color="#3e3e3e"/><stop offset="1" stop-color="#5c5c5c"/></linearGradient>
<linearGradient id="g120b" x1="0" y1="0" x2="0" y2="1"><stop offset="0" stop-color="#8a8a8a"/><stop offset="0.5" stop-color="#777"/><stop offset="1" stop-color="#8c8c8c"/></linearGradient>
<linearGradient id="ghc1" x1="0" y1="0" x2="0" y2="1"><stop offset="0" stop-color="#8e8e8e"/><stop offset="0.25" stop-color="#6c6c6c"/><stop offset="0.55" stop-color="#444"/><stop offset="0.85" stop-color="#3a3a3a"/><stop offset="1" stop-color="#5a5a5a"/></linearGradient>
<linearGradient id="ghc2" x1="0" y1="0" x2="0" y2="1"><stop offset="0" stop-color="#939393"/><stop offset="0.3" stop-color="#5a5a5a"/><stop offset="0.6" stop-color="#3a3a3a"/><stop offset="0.9" stop-color="#3c3c3c"/><stop offset="1" stop-color="#666"/></linearGradient>
<linearGradient id="glc1" x1="0" y1="0" x2="0" y2="1"><stop offset="0" stop-color="#9c9c9c"/><stop offset="0.5" stop-color="#7c7c7c"/><stop offset="0.8" stop-color="#727272"/><stop offset="1" stop-color="#8a8a8a"/></linearGradient>
</defs>
<text x="3.00" y="237.60" font-size="16.5" font-weight="bold" text-anchor="start" fill="#000" >b</text>
<text x="22.80" y="241.90" font-size="10.0" font-weight="bold" text-anchor="start" fill="#000" >kDa</text>
<text x="49.90" y="240.00" font-size="10.3" font-weight="bold" text-anchor="start" fill="#000" >Control sh</text>
<text x="117.90" y="239.30" font-size="10.4" font-weight="bold" text-anchor="start" fill="#000" >EphB4 sh</text>
<line x1="58.70" y1="242.30" x2="104.20" y2="242.30" stroke="#000" stroke-width="1.6" />
<line x1="116.80" y1="241.50" x2="161.70" y2="241.50" stroke="#000" stroke-width="1.6" />
<rect x="58.70" y="248.00" width="105.30" height="27.70" fill="#8d8d8d" stroke="none" stroke-width="0" />
<g clip-path="url(#cb1)">
<rect x="58.5" y="246" width="105.5" height="5" fill="#848484" filter="url(#b2)"/>
<rect x="64.5" y="263.2" width="15.0" height="3.0" rx="2" fill="#6c6c6c" filter="url(#b05)"/>
<rect x="85.2" y="262.2" width="14.2" height="3.4" rx="2" fill="#6a6a6a" filter="url(#b05)"/>
<rect x="105.3" y="259.0" width="14.7" height="4.4" rx="2" fill="#1a1a1a" filter="url(#b05)"/>
<rect x="124.5" y="257.9" width="16.5" height="4.4" rx="2" fill="#161616" filter="url(#b05)"/>
<rect x="145.3" y="257.0" width="15.0" height="4.6" rx="2" fill="#0e0e0e" filter="url(#b05)"/>
</g>
<rect x="58.90" y="279.30" width="105.00" height="26.40" fill="#7a7a7a" stroke="none" stroke-width="0" />
<g clip-path="url(#cb2)">
<rect x="58.5" y="277" width="105.5" height="11" fill="#6a6a6a" filter="url(#b2)"/>
<rect x="58.5" y="301" width="105.5" height="6" fill="#858585" filter="url(#b2)"/>
<ellipse cx="100" cy="286" rx="18" ry="3" fill="#666" filter="url(#b2)"/>
<ellipse cx="140" cy="285" rx="14" ry="2.5" fill="#6a6a6a" filter="url(#b2)"/>
<ellipse cx="75" cy="300" rx="8" ry="3" fill="#6e6e6e" filter="url(#b2)"/>
<ellipse cx="110" cy="300" rx="14" ry="2.5" fill="#6c6c6c" filter="url(#b2)"/>
<ellipse cx="150" cy="299" rx="10" ry="2.5" fill="#707070" filter="url(#b2)"/>
<rect x="66.4" y="290.0" width="13.7" height="4.3" rx="2" fill="#383838" filter="url(#b05)"/>
<rect x="86.5" y="289.4" width="14.5" height="5.4" rx="2" fill="#0c0c0c" filter="url(#b05)"/>
<rect x="105" y="289.4" width="16.0" height="5.4" rx="2" fill="#0c0c0c" filter="url(#b05)"/>
<rect x="125" y="290.2" width="17.7" height="4.0" rx="2" fill="#1c1c1c" filter="url(#b05)"/>
<rect x="146.7" y="289.2" width="15.3" height="5.2" rx="2" fill="#0e0e0e" filter="url(#b05)"/>
</g>
<rect x="58.20" y="312.60" width="104.80" height="22.10" fill="#8f8f8f" stroke="none" stroke-width="0" />
<g clip-path="url(#cb3)">
<rect x="57" y="324.3" width="21.5" height="4.7" rx="2.2" fill="#2c2c2c" filter="url(#b05)"/>
<rect x="78.5" y="324.4" width="19.5" height="4.5" rx="2.2" fill="#2c2c2c" filter="url(#b05)"/>
<rect x="99.5" y="324.2" width="20.0" height="4.6" rx="2.2" fill="#2c2c2c" filter="url(#b05)"/>
<rect x="120.5" y="323.9" width="22.0" height="4.7" rx="2.2" fill="#2c2c2c" filter="url(#b05)"/>
<rect x="143.5" y="322.4" width="20.5" height="5.5" rx="2.2" fill="#2c2c2c" filter="url(#b05)"/>
</g>
<line x1="41.50" y1="264.90" x2="58.30" y2="264.90" stroke="#666" stroke-width="1.0" />
<text x="37.70" y="269.10" font-size="10.2" font-weight="bold" text-anchor="end" fill="#000" >120</text>
<line x1="41.50" y1="293.40" x2="58.30" y2="293.40" stroke="#555" stroke-width="1.0" />
<text x="37.70" y="298.10" font-size="10.2" font-weight="bold" text-anchor="end" fill="#000" >125</text>
<line x1="41.50" y1="326.40" x2="58.30" y2="326.40" stroke="#222" stroke-width="1.0" />
<text x="36.30" y="331.70" font-size="10.2" font-weight="bold" text-anchor="end" fill="#000" >42</text>
<text x="166.20" y="268.80" font-size="10.2" font-weight="normal" text-anchor="start" fill="#222" >EphA4</text>
<text x="166.20" y="297.20" font-size="10.2" font-weight="normal" text-anchor="start" fill="#222" >EphA2</text>
<text x="166.70" y="329.00" font-size="10.2" font-weight="normal" text-anchor="start" fill="#222" >&#946;-Actin</text>
<text x="427.50" y="227.90" font-size="16.5" font-weight="bold" text-anchor="start" fill="#000" >c</text>
<rect x="453.80" y="237.80" width="122.40" height="203.60" fill="#aaaaaa" stroke="#4a4a4a" stroke-width="1.4" />
<g clip-path="url(#cc)">
<rect x="487" y="240" width="32" height="200" fill="#afafaf" filter="url(#b3)"/>
<rect x="524" y="240" width="32" height="200" fill="#aeaeae" filter="url(#b3)"/>
<rect x="556" y="240" width="20" height="200" fill="#a8a8a8" filter="url(#b3)"/>
<rect x="490" y="257" width="25" height="14" fill="#959595" filter="url(#b2)"/>
<rect x="528" y="262" width="20" height="8" fill="#9c9c9c" filter="url(#b2)"/>
<rect x="488.5" y="271.5" width="26" height="7.2" rx="3" fill="url(#g120a)" filter="url(#b15)"/>
<rect x="527" y="268.8" width="22" height="7.5" rx="3" fill="url(#g120b)" filter="url(#b15)"/>
<ellipse cx="530" cy="273" rx="4" ry="2.6" fill="#6c6c6c" filter="url(#b15)"/>
<rect x="489" y="314.5" width="29.5" height="21.5" rx="5" fill="url(#ghc1)" filter="url(#b15)"/>
<rect x="527" y="313.5" width="28" height="19.5" rx="5" fill="url(#ghc2)" filter="url(#b15)"/>
<ellipse cx="546" cy="326" rx="8" ry="4.5" fill="#333" opacity="0.6" filter="url(#b15)"/>
<rect x="493" y="366.5" width="24" height="9" rx="4" fill="#8e8e8e" filter="url(#b15)"/>
<ellipse cx="497" cy="371" rx="3" ry="3" fill="#7a7a7a" filter="url(#b15)"/>
<rect x="494" y="412" width="30" height="14.5" rx="5" fill="url(#glc1)" filter="url(#b15)"/>
<rect x="529.5" y="415" width="30" height="8" rx="4" fill="#838383" filter="url(#b15)"/>
</g>
<text x="417.50" y="254.30" font-size="9.6" font-weight="bold" text-anchor="start" fill="#000" >kDa</text>
<line x1="436.90" y1="275.80" x2="453.80" y2="275.80" stroke="#555" stroke-width="1.0" />
<text x="432.10" y="279.40" font-size="9.8" font-weight="bold" text-anchor="end" fill="#000" >120</text>
<line x1="433.00" y1="328.60" x2="450.00" y2="328.60" stroke="#555" stroke-width="1.0" />
<text x="429.50" y="332.20" font-size="9.6" font-weight="bold" text-anchor="end" fill="#000" >50</text>
<line x1="436.30" y1="420.80" x2="453.80" y2="420.80" stroke="#555" stroke-width="1.0" />
<text x="432.80" y="424.40" font-size="9.6" font-weight="bold" text-anchor="end" fill="#000" >25</text>
<line x1="453.80" y1="275.80" x2="477.00" y2="275.80" stroke="#ee7d31" stroke-width="2.2" />
<polygon points="474.5,271.8 483.5,275.8 474.5,279.8" fill="#ee7d31"/>
<text x="582.80" y="266.80" font-size="12.3" font-weight="bold" text-anchor="start" fill="#000" >Pull down:EphA4</text>
<text x="582.80" y="283.80" font-size="12.3" font-weight="bold" text-anchor="start" fill="#000" >Blot: p-Tyr</text>
<text x="576.00" y="325.20" font-size="12.3" font-weight="bold" text-anchor="start" fill="#000" >Heavy chain</text>
<text x="575.50" y="422.80" font-size="12.3" font-weight="bold" text-anchor="start" fill="#000" >Light chain</text>
<text transform="translate(501.5,233.5) rotate(-32)" font-size="10.8" font-weight="bold">Moc2 EphB4 sh</text>
<text transform="translate(550,235.5) rotate(-33.5)" font-size="11" font-weight="bold">Moc2 Control sh</text>
<text x="5.00" y="452.40" font-size="16.5" font-weight="bold" text-anchor="start" fill="#000" >d</text>
<path d="M38.5,478.5 C37,473 33,470.2 27.5,470.3 C21,470.5 14,476 8,479.5 C6,480.6 4.5,481 3.2,480.4" fill="none" stroke="#3a3a3a" stroke-width="2.7" stroke-linecap="round"/>
<path d="M38.5,478.5 C37,473 33,470.2 27.5,470.3 C21,470.5 14,476 8,479.5 C6,480.6 4.5,481 3.2,480.4" fill="none" stroke="#b4b4b4" stroke-width="1.3" stroke-linecap="round"/>
<path d="M38,521.5 C31,517 21.5,507 21.5,496.5 C21.5,485 29,478 38,478 C47,478 54.5,485 54.5,496.5 C54.5,507 45,517 38,521.5 Z" fill="#7c7c7c" stroke="#2a2a2a" stroke-width="0.9"/>
<circle cx="26.3" cy="499.9" r="7.4" fill="#a2a2a2" stroke="#2f2f2f" stroke-width="0.8"/>
<path d="M19.4,500.8 A6.9,6.9 0 0 0 33.2,500.8 Q26.3,495.5 19.4,500.8 Z" fill="#d2d2d2"/>
<circle cx="49.2" cy="499.9" r="7.4" fill="#a2a2a2" stroke="#2f2f2f" stroke-width="0.8"/>
<path d="M42.300000000000004,500.8 A6.9,6.9 0 0 0 56.1,500.8 Q49.2,495.5 42.300000000000004,500.8 Z" fill="#d2d2d2"/>
<path d="M29.3,496 C29.3,507 31.5,515.5 37.8,521.3 C44.1,515.5 46.3,507 46.3,496 Z" fill="#7c7c7c"/>
<path d="M29.4,503 C29.9,510 32.5,516.5 37.8,521.3 C43.1,516.5 45.7,510 46.2,503" fill="none" stroke="#2a2a2a" stroke-width="0.8"/>
<circle cx="33.1" cy="510.8" r="1.15" fill="#111"/><circle cx="42.5" cy="510.7" r="1.15" fill="#111"/>
<circle cx="33.4" cy="517.4" r="1.2" fill="#222"/><circle cx="42.4" cy="517.4" r="1.2" fill="#222"/>
<path d="M36.3,517.3 L39.3,517.3 L37.8,519.8 Z" fill="#111"/>
<line x1="42.50" y1="517.50" x2="52.30" y2="515.80" stroke="#333" stroke-width="0.6" />
<line x1="42.50" y1="517.50" x2="51.00" y2="519.80" stroke="#333" stroke-width="0.6" />
<line x1="42.50" y1="517.50" x2="47.80" y2="523.50" stroke="#333" stroke-width="0.6" />
<line x1="33.00" y1="517.80" x2="28.50" y2="523.50" stroke="#333" stroke-width="0.6" />
<line x1="33.00" y1="517.80" x2="30.50" y2="522.00" stroke="#333" stroke-width="0.6" />
<ellipse cx="24.8" cy="514.0" rx="4.9" ry="6.6" fill="#ffff00" stroke="#2b4fa0" stroke-width="1.0"/>
<line x1="35.70" y1="531.50" x2="35.70" y2="563.80" stroke="#000" stroke-width="2.7" />
<line x1="92.30" y1="530.00" x2="92.30" y2="563.40" stroke="#000" stroke-width="2.7" />
<line x1="215.40" y1="528.80" x2="215.40" y2="563.40" stroke="#000" stroke-width="2.6" />
<line x1="34.40" y1="563.10" x2="423.40" y2="563.10" stroke="#000" stroke-width="2.8" />
<line x1="214.10" y1="528.80" x2="274.00" y2="528.80" stroke="#000" stroke-width="2.2" />
<polygon points="273,524.5 282.5,528.8 273,533.1" fill="#000"/>
<text x="119.20" y="512.10" font-size="9.25" font-weight="bold" text-anchor="middle" fill="#000" >Nilotinib (40 mg/kg)</text>
<text x="119.60" y="522.50" font-size="9.25" font-weight="bold" text-anchor="middle" fill="#000" >or Vehicle</text>
<text x="251.80" y="510.90" font-size="9.25" font-weight="bold" text-anchor="middle" fill="#000" >Nilotinib (40 mg/kg)</text>
<text x="252.20" y="522.10" font-size="9.25" font-weight="bold" text-anchor="middle" fill="#000" >or Vehicle 5x/week</text>
<text x="32.90" y="580.60" font-size="9.5" font-weight="bold" text-anchor="start" fill="#000" >d0</text>
<text x="87.50" y="581.30" font-size="9.5" font-weight="bold" text-anchor="start" fill="#000" >d8</text>
<polyline points="39.6,703.7 79.8,686.9 100.0,674.5 120.1,665.8 140.2,672.3" fill="none" stroke="#2b2bff" stroke-width="0.65"/>
<polyline points="39.6,703.7 79.8,687.4 100.0,675.7 120.1,666.1 140.2,673.4" fill="none" stroke="#2b2bff" stroke-width="0.65"/>
<polyline points="39.6,703.7 79.8,688.0 100.0,676.8 120.1,666.7 140.2,677.9" fill="none" stroke="#2b2bff" stroke-width="0.65"/>
<polyline points="39.6,703.7 79.8,689.1 100.0,678.5 120.1,672.5 140.2,664.5" fill="none" stroke="#2b2bff" stroke-width="0.65"/>
<polyline points="39.6,703.7 79.8,690.2 100.0,681.3 120.1,674.5 140.2,669.2" fill="none" stroke="#2b2bff" stroke-width="0.65"/>
<polyline points="39.6,703.7 79.8,691.4 100.0,682.4 120.1,676.5 140.2,673.2" fill="none" stroke="#2b2bff" stroke-width="0.65"/>
<polyline points="39.6,703.7 79.8,692.5 100.0,684.6 120.1,679.0 140.2,677.8" fill="none" stroke="#2b2bff" stroke-width="0.65"/>
<polyline points="39.6,703.7 79.8,693.6 100.0,686.3 120.1,681.2 140.2,678.3" fill="none" stroke="#2b2bff" stroke-width="0.65"/>
<polyline points="39.6,703.7 79.8,694.7 100.0,687.7 120.1,685.1 140.2,680.5" fill="none" stroke="#2b2bff" stroke-width="0.65"/>
<polyline points="39.6,703.7 79.8,695.7 100.0,691.8 120.1,690.5 140.2,681.2" fill="none" stroke="#2b2bff" stroke-width="0.65"/>
<circle cx="79.8" cy="686.9" r="1.35" fill="#000"/>
<circle cx="100.0" cy="674.5" r="1.35" fill="#000"/>
<circle cx="120.1" cy="665.8" r="1.35" fill="#000"/>
<circle cx="140.2" cy="672.3" r="1.35" fill="#000"/>
<circle cx="79.8" cy="687.4" r="1.35" fill="#000"/>
<circle cx="100.0" cy="675.7" r="1.35" fill="#000"/>
<circle cx="120.1" cy="666.1" r="1.35" fill="#000"/>
<circle cx="140.2" cy="673.4" r="1.35" fill="#000"/>
<circle cx="79.8" cy="688.0" r="1.35" fill="#000"/>
<circle cx="100.0" cy="676.8" r="1.35" fill="#000"/>
<circle cx="120.1" cy="666.7" r="1.35" fill="#000"/>
<circle cx="140.2" cy="677.9" r="1.35" fill="#000"/>
<circle cx="79.8" cy="689.1" r="1.35" fill="#000"/>
<circle cx="100.0" cy="678.5" r="1.35" fill="#000"/>
<circle cx="120.1" cy="672.5" r="1.35" fill="#000"/>
<circle cx="140.2" cy="664.5" r="1.35" fill="#000"/>
<circle cx="79.8" cy="690.2" r="1.35" fill="#000"/>
<circle cx="100.0" cy="681.3" r="1.35" fill="#000"/>
<circle cx="120.1" cy="674.5" r="1.35" fill="#000"/>
<circle cx="140.2" cy="669.2" r="1.35" fill="#000"/>
<circle cx="79.8" cy="691.4" r="1.35" fill="#000"/>
<circle cx="100.0" cy="682.4" r="1.35" fill="#000"/>
<circle cx="120.1" cy="676.5" r="1.35" fill="#000"/>
<circle cx="140.2" cy="673.2" r="1.35" fill="#000"/>
<circle cx="79.8" cy="692.5" r="1.35" fill="#000"/>
<circle cx="100.0" cy="684.6" r="1.35" fill="#000"/>
<circle cx="120.1" cy="679.0" r="1.35" fill="#000"/>
<circle cx="140.2" cy="677.8" r="1.35" fill="#000"/>
<circle cx="79.8" cy="693.6" r="1.35" fill="#000"/>
<circle cx="100.0" cy="686.3" r="1.35" fill="#000"/>
<circle cx="120.1" cy="681.2" r="1.35" fill="#000"/>
<circle cx="140.2" cy="678.3" r="1.35" fill="#000"/>
<circle cx="79.8" cy="694.7" r="1.35" fill="#000"/>
<circle cx="100.0" cy="687.7" r="1.35" fill="#000"/>
<circle cx="120.1" cy="685.1" r="1.35" fill="#000"/>
<circle cx="140.2" cy="680.5" r="1.35" fill="#000"/>
<circle cx="79.8" cy="695.7" r="1.35" fill="#000"/>
<circle cx="100.0" cy="691.8" r="1.35" fill="#000"/>
<circle cx="120.1" cy="690.5" r="1.35" fill="#000"/>
<circle cx="140.2" cy="681.2" r="1.35" fill="#000"/>
<circle cx="39.6" cy="703.7" r="1.2" fill="#000"/>
<line x1="39.60" y1="635.90" x2="39.60" y2="704.20" stroke="#333" stroke-width="1.1" />
<line x1="39.10" y1="703.70" x2="140.60" y2="703.70" stroke="#333" stroke-width="1.1" />
<line x1="36.60" y1="703.70" x2="39.60" y2="703.70" stroke="#333" stroke-width="1.0" />
<text x="35.40" y="706.30" font-size="7.1" font-weight="bold" text-anchor="end" fill="#111" >0</text>
<line x1="36.60" y1="686.88" x2="39.60" y2="686.88" stroke="#333" stroke-width="1.0" />
<text x="35.40" y="689.48" font-size="7.1" font-weight="bold" text-anchor="end" fill="#111" >300</text>
<line x1="36.60" y1="670.05" x2="39.60" y2="670.05" stroke="#333" stroke-width="1.0" />
<text x="35.40" y="672.65" font-size="7.1" font-weight="bold" text-anchor="end" fill="#111" >600</text>
<line x1="36.60" y1="653.23" x2="39.60" y2="653.23" stroke="#333" stroke-width="1.0" />
<text x="35.40" y="655.83" font-size="7.1" font-weight="bold" text-anchor="end" fill="#111" >900</text>
<line x1="36.60" y1="636.40" x2="39.60" y2="636.40" stroke="#333" stroke-width="1.0" />
<text x="35.40" y="639.00" font-size="7.1" font-weight="bold" text-anchor="end" fill="#111" >1200</text>
<line x1="39.60" y1="703.70" x2="39.60" y2="706.50" stroke="#333" stroke-width="1.0" />
<text x="39.60" y="712.80" font-size="7.1" font-weight="bold" text-anchor="middle" fill="#111" >0</text>
<line x1="64.75" y1="703.70" x2="64.75" y2="706.50" stroke="#333" stroke-width="1.0" />
<text x="64.75" y="712.80" font-size="7.1" font-weight="bold" text-anchor="middle" fill="#111" >5</text>
<line x1="89.90" y1="703.70" x2="89.90" y2="706.50" stroke="#333" stroke-width="1.0" />
<text x="89.90" y="712.80" font-size="7.1" font-weight="bold" text-anchor="middle" fill="#111" >10</text>
<line x1="115.05" y1="703.70" x2="115.05" y2="706.50" stroke="#333" stroke-width="1.0" />
<text x="115.05" y="712.80" font-size="7.1" font-weight="bold" text-anchor="middle" fill="#111" >15</text>
<line x1="140.20" y1="703.70" x2="140.20" y2="706.50" stroke="#333" stroke-width="1.0" />
<text x="140.20" y="712.80" font-size="7.1" font-weight="bold" text-anchor="middle" fill="#111" >20</text>
<text x="89.90" y="725.60" font-size="8.4" font-weight="bold" text-anchor="middle" fill="#111" >Days post-implantation</text>
<text x="90.10" y="634.60" font-size="6.3" font-weight="bold" text-anchor="middle" fill="#111" >Control&#160; KO+Vehicle</text>
<text transform="translate(17.7,668.5) rotate(-90)" font-size="8.4" font-weight="bold" text-anchor="middle" fill="#111">Tumor volume (mm<tspan font-size="5.5" dy="-3">3</tspan><tspan dy="3">)</tspan></text>
<polyline points="201.3,703.7 241.5,686.3 261.7,680.1 281.8,668.9 301.9,643.7" fill="none" stroke="#a83838" stroke-width="0.65"/>
<polyline points="201.3,703.7 241.5,688.8 261.7,682.4 281.8,669.5 301.9,649.9" fill="none" stroke="#a83838" stroke-width="0.65"/>
<polyline points="201.3,703.7 241.5,690.0 261.7,684.1 281.8,675.7 301.9,658.3" fill="none" stroke="#a83838" stroke-width="0.65"/>
<polyline points="201.3,703.7 241.5,690.8 261.7,686.9 281.8,678.5 301.9,660.0" fill="none" stroke="#a83838" stroke-width="0.65"/>
<polyline points="201.3,703.7 241.5,691.6 261.7,688.6 281.8,680.1 301.9,668.4" fill="none" stroke="#a83838" stroke-width="0.65"/>
<polyline points="201.3,703.7 241.5,692.5 261.7,689.7 281.8,680.7 301.9,673.4" fill="none" stroke="#a83838" stroke-width="0.65"/>
<circle cx="241.5" cy="686.3" r="1.35" fill="#000"/>
<circle cx="261.7" cy="680.1" r="1.35" fill="#000"/>
<circle cx="281.8" cy="668.9" r="1.35" fill="#000"/>
<circle cx="301.9" cy="643.7" r="1.35" fill="#000"/>
<circle cx="241.5" cy="688.8" r="1.35" fill="#000"/>
<circle cx="261.7" cy="682.4" r="1.35" fill="#000"/>
<circle cx="281.8" cy="669.5" r="1.35" fill="#000"/>
<circle cx="301.9" cy="649.9" r="1.35" fill="#000"/>
<circle cx="241.5" cy="690.0" r="1.35" fill="#000"/>
<circle cx="261.7" cy="684.1" r="1.35" fill="#000"/>
<circle cx="281.8" cy="675.7" r="1.35" fill="#000"/>
<circle cx="301.9" cy="658.3" r="1.35" fill="#000"/>
<circle cx="241.5" cy="690.8" r="1.35" fill="#000"/>
<circle cx="261.7" cy="686.9" r="1.35" fill="#000"/>
<circle cx="281.8" cy="678.5" r="1.35" fill="#000"/>
<circle cx="301.9" cy="660.0" r="1.35" fill="#000"/>
<circle cx="241.5" cy="691.6" r="1.35" fill="#000"/>
<circle cx="261.7" cy="688.6" r="1.35" fill="#000"/>
<circle cx="281.8" cy="680.1" r="1.35" fill="#000"/>
<circle cx="301.9" cy="668.4" r="1.35" fill="#000"/>
<circle cx="241.5" cy="692.5" r="1.35" fill="#000"/>
<circle cx="261.7" cy="689.7" r="1.35" fill="#000"/>
<circle cx="281.8" cy="680.7" r="1.35" fill="#000"/>
<circle cx="301.9" cy="673.4" r="1.35" fill="#000"/>
<circle cx="201.3" cy="703.7" r="1.2" fill="#000"/>
<line x1="201.30" y1="635.90" x2="201.30" y2="704.20" stroke="#333" stroke-width="1.1" />
<line x1="200.80" y1="703.70" x2="302.30" y2="703.70" stroke="#333" stroke-width="1.1" />
<line x1="198.30" y1="703.70" x2="201.30" y2="703.70" stroke="#333" stroke-width="1.0" />
<text x="197.10" y="706.30" font-size="7.1" font-weight="bold" text-anchor="end" fill="#111" >0</text>
<line x1="198.30" y1="686.88" x2="201.30" y2="686.88" stroke="#333" stroke-width="1.0" />
<text x="197.10" y="689.48" font-size="7.1" font-weight="bold" text-anchor="end" fill="#111" >300</text>
<line x1="198.30" y1="670.05" x2="201.30" y2="670.05" stroke="#333" stroke-width="1.0" />
<text x="197.10" y="672.65" font-size="7.1" font-weight="bold" text-anchor="end" fill="#111" >600</text>
<line x1="198.30" y1="653.23" x2="201.30" y2="653.23" stroke="#333" stroke-width="1.0" />
<text x="197.10" y="655.83" font-size="7.1" font-weight="bold" text-anchor="end" fill="#111" >900</text>
<line x1="198.30" y1="636.40" x2="201.30" y2="636.40" stroke="#333" stroke-width="1.0" />
<text x="197.10" y="639.00" font-size="7.1" font-weight="bold" text-anchor="end" fill="#111" >1200</text>
<line x1="201.30" y1="703.70" x2="201.30" y2="706.50" stroke="#333" stroke-width="1.0" />
<text x="201.30" y="712.80" font-size="7.1" font-weight="bold" text-anchor="middle" fill="#111" >0</text>
<line x1="226.45" y1="703.70" x2="226.45" y2="706.50" stroke="#333" stroke-width="1.0" />
<text x="226.45" y="712.80" font-size="7.1" font-weight="bold" text-anchor="middle" fill="#111" >5</text>
<line x1="251.60" y1="703.70" x2="251.60" y2="706.50" stroke="#333" stroke-width="1.0" />
<text x="251.60" y="712.80" font-size="7.1" font-weight="bold" text-anchor="middle" fill="#111" >10</text>
<line x1="276.75" y1="703.70" x2="276.75" y2="706.50" stroke="#333" stroke-width="1.0" />
<text x="276.75" y="712.80" font-size="7.1" font-weight="bold" text-anchor="middle" fill="#111" >15</text>
<line x1="301.90" y1="703.70" x2="301.90" y2="706.50" stroke="#333" stroke-width="1.0" />
<text x="301.90" y="712.80" font-size="7.1" font-weight="bold" text-anchor="middle" fill="#111" >20</text>
<text x="251.60" y="725.60" font-size="8.4" font-weight="bold" text-anchor="middle" fill="#111" >Days post-implantation</text>
<text x="251.80" y="637.90" font-size="6.3" font-weight="bold" text-anchor="middle" fill="#111" >Control KO+Nilotinib</text>
<text transform="translate(179.4,668.5) rotate(-90)" font-size="8.4" font-weight="bold" text-anchor="middle" fill="#111">Tumor volume (mm<tspan font-size="5.5" dy="-3">3</tspan><tspan dy="3">)</tspan></text>
<polyline points="381.8,703.7 422.0,682.9 442.2,675.1 462.3,668.4 482.4,641.4" fill="none" stroke="#ff2a92" stroke-width="0.65"/>
<polyline points="381.8,703.7 422.0,685.2 442.2,676.8 462.3,672.3 482.4,650.4" fill="none" stroke="#ff2a92" stroke-width="0.65"/>
<polyline points="381.8,703.7 422.0,686.9 442.2,679.0 462.3,674.5 482.4,656.0" fill="none" stroke="#ff2a92" stroke-width="0.65"/>
<polyline points="381.8,703.7 422.0,689.1 442.2,683.5 462.3,676.8 482.4,657.7" fill="none" stroke="#ff2a92" stroke-width="0.65"/>
<polyline points="381.8,703.7 422.0,690.2 442.2,685.2 462.3,678.5 482.4,658.8" fill="none" stroke="#ff2a92" stroke-width="0.65"/>
<polyline points="381.8,703.7 422.0,691.4 442.2,686.9 462.3,680.1 482.4,661.6" fill="none" stroke="#ff2a92" stroke-width="0.65"/>
<polyline points="381.8,703.7 422.0,692.5 442.2,687.4 462.3,682.4 482.4,664.4" fill="none" stroke="#ff2a92" stroke-width="0.65"/>
<polyline points="381.8,703.7 422.0,694.2 442.2,688.0 462.3,685.2 482.4,665.6" fill="none" stroke="#ff2a92" stroke-width="0.65"/>
<polyline points="381.8,703.7 422.0,695.3 442.2,688.0 462.3,686.3 482.4,667.2" fill="none" stroke="#ff2a92" stroke-width="0.65"/>
<circle cx="422.0" cy="682.9" r="1.35" fill="#000"/>
<circle cx="442.2" cy="675.1" r="1.35" fill="#000"/>
<circle cx="462.3" cy="668.4" r="1.35" fill="#000"/>
<circle cx="482.4" cy="641.4" r="1.35" fill="#000"/>
<circle cx="422.0" cy="685.2" r="1.35" fill="#000"/>
<circle cx="442.2" cy="676.8" r="1.35" fill="#000"/>
<circle cx="462.3" cy="672.3" r="1.35" fill="#000"/>
<circle cx="482.4" cy="650.4" r="1.35" fill="#000"/>
<circle cx="422.0" cy="686.9" r="1.35" fill="#000"/>
<circle cx="442.2" cy="679.0" r="1.35" fill="#000"/>
<circle cx="462.3" cy="674.5" r="1.35" fill="#000"/>
<circle cx="482.4" cy="656.0" r="1.35" fill="#000"/>
<circle cx="422.0" cy="689.1" r="1.35" fill="#000"/>
<circle cx="442.2" cy="683.5" r="1.35" fill="#000"/>
<circle cx="462.3" cy="676.8" r="1.35" fill="#000"/>
<circle cx="482.4" cy="657.7" r="1.35" fill="#000"/>
<circle cx="422.0" cy="690.2" r="1.35" fill="#000"/>
<circle cx="442.2" cy="685.2" r="1.35" fill="#000"/>
<circle cx="462.3" cy="678.5" r="1.35" fill="#000"/>
<circle cx="482.4" cy="658.8" r="1.35" fill="#000"/>
<circle cx="422.0" cy="691.4" r="1.35" fill="#000"/>
<circle cx="442.2" cy="686.9" r="1.35" fill="#000"/>
<circle cx="462.3" cy="680.1" r="1.35" fill="#000"/>
<circle cx="482.4" cy="661.6" r="1.35" fill="#000"/>
<circle cx="422.0" cy="692.5" r="1.35" fill="#000"/>
<circle cx="442.2" cy="687.4" r="1.35" fill="#000"/>
<circle cx="462.3" cy="682.4" r="1.35" fill="#000"/>
<circle cx="482.4" cy="664.4" r="1.35" fill="#000"/>
<circle cx="422.0" cy="694.2" r="1.35" fill="#000"/>
<circle cx="442.2" cy="688.0" r="1.35" fill="#000"/>
<circle cx="462.3" cy="685.2" r="1.35" fill="#000"/>
<circle cx="482.4" cy="665.6" r="1.35" fill="#000"/>
<circle cx="422.0" cy="695.3" r="1.35" fill="#000"/>
<circle cx="442.2" cy="688.0" r="1.35" fill="#000"/>
<circle cx="462.3" cy="686.3" r="1.35" fill="#000"/>
<circle cx="482.4" cy="667.2" r="1.35" fill="#000"/>
<circle cx="381.8" cy="703.7" r="1.2" fill="#000"/>
<line x1="381.80" y1="635.90" x2="381.80" y2="704.20" stroke="#333" stroke-width="1.1" />
<line x1="381.30" y1="703.70" x2="482.80" y2="703.70" stroke="#333" stroke-width="1.1" />
<line x1="378.80" y1="703.70" x2="381.80" y2="703.70" stroke="#333" stroke-width="1.0" />
<text x="377.60" y="706.30" font-size="7.1" font-weight="bold" text-anchor="end" fill="#111" >0</text>
<line x1="378.80" y1="686.88" x2="381.80" y2="686.88" stroke="#333" stroke-width="1.0" />
<text x="377.60" y="689.48" font-size="7.1" font-weight="bold" text-anchor="end" fill="#111" >300</text>
<line x1="378.80" y1="670.05" x2="381.80" y2="670.05" stroke="#333" stroke-width="1.0" />
<text x="377.60" y="672.65" font-size="7.1" font-weight="bold" text-anchor="end" fill="#111" >600</text>
<line x1="378.80" y1="653.23" x2="381.80" y2="653.23" stroke="#333" stroke-width="1.0" />
<text x="377.60" y="655.83" font-size="7.1" font-weight="bold" text-anchor="end" fill="#111" >900</text>
<line x1="378.80" y1="636.40" x2="381.80" y2="636.40" stroke="#333" stroke-width="1.0" />
<text x="377.60" y="639.00" font-size="7.1" font-weight="bold" text-anchor="end" fill="#111" >1200</text>
<line x1="381.80" y1="703.70" x2="381.80" y2="706.50" stroke="#333" stroke-width="1.0" />
<text x="381.80" y="712.80" font-size="7.1" font-weight="bold" text-anchor="middle" fill="#111" >0</text>
<line x1="406.95" y1="703.70" x2="406.95" y2="706.50" stroke="#333" stroke-width="1.0" />
<text x="406.95" y="712.80" font-size="7.1" font-weight="bold" text-anchor="middle" fill="#111" >5</text>
<line x1="432.10" y1="703.70" x2="432.10" y2="706.50" stroke="#333" stroke-width="1.0" />
<text x="432.10" y="712.80" font-size="7.1" font-weight="bold" text-anchor="middle" fill="#111" >10</text>
<line x1="457.25" y1="703.70" x2="457.25" y2="706.50" stroke="#333" stroke-width="1.0" />
<text x="457.25" y="712.80" font-size="7.1" font-weight="bold" text-anchor="middle" fill="#111" >15</text>
<line x1="482.40" y1="703.70" x2="482.40" y2="706.50" stroke="#333" stroke-width="1.0" />
<text x="482.40" y="712.80" font-size="7.1" font-weight="bold" text-anchor="middle" fill="#111" >20</text>
<text x="432.10" y="725.60" font-size="8.4" font-weight="bold" text-anchor="middle" fill="#111" >Days post-implantation</text>
<text x="432.30" y="634.60" font-size="6.3" font-weight="bold" text-anchor="middle" fill="#111" >EphB4 KO+Vehicle</text>
<text transform="translate(359.9,668.5) rotate(-90)" font-size="8.4" font-weight="bold" text-anchor="middle" fill="#111">Tumor volume (mm<tspan font-size="5.5" dy="-3">3</tspan><tspan dy="3">)</tspan></text>
<polyline points="557.3,703.7 597.5,676.8 617.7,677.9 637.8,677.3 657.9,680.1" fill="none" stroke="#666666" stroke-width="0.65"/>
<polyline points="557.3,703.7 597.5,685.2 617.7,677.3 637.8,671.7 657.9,657.2" fill="none" stroke="#666666" stroke-width="0.65"/>
<polyline points="557.3,703.7 597.5,686.3 617.7,678.5 637.8,672.9 657.9,665.6" fill="none" stroke="#666666" stroke-width="0.65"/>
<polyline points="557.3,703.7 597.5,686.9 617.7,682.4 637.8,674.5 657.9,670.6" fill="none" stroke="#666666" stroke-width="0.65"/>
<polyline points="557.3,703.7 597.5,688.0 617.7,684.1 637.8,675.7 657.9,671.7" fill="none" stroke="#666666" stroke-width="0.65"/>
<polyline points="557.3,703.7 597.5,688.6 617.7,685.8 637.8,680.1 657.9,675.7" fill="none" stroke="#666666" stroke-width="0.65"/>
<polyline points="557.3,703.7 597.5,689.1 617.7,686.9 637.8,680.7 657.9,678.5" fill="none" stroke="#666666" stroke-width="0.65"/>
<polyline points="557.3,703.7 597.5,690.2 617.7,687.4 637.8,680.7 657.9,681.8" fill="none" stroke="#666666" stroke-width="0.65"/>
<circle cx="597.5" cy="676.8" r="1.35" fill="#000"/>
<circle cx="617.7" cy="677.9" r="1.35" fill="#000"/>
<circle cx="637.8" cy="677.3" r="1.35" fill="#000"/>
<circle cx="657.9" cy="680.1" r="1.35" fill="#000"/>
<circle cx="597.5" cy="685.2" r="1.35" fill="#000"/>
<circle cx="617.7" cy="677.3" r="1.35" fill="#000"/>
<circle cx="637.8" cy="671.7" r="1.35" fill="#000"/>
<circle cx="657.9" cy="657.2" r="1.35" fill="#000"/>
<circle cx="597.5" cy="686.3" r="1.35" fill="#000"/>
<circle cx="617.7" cy="678.5" r="1.35" fill="#000"/>
<circle cx="637.8" cy="672.9" r="1.35" fill="#000"/>
<circle cx="657.9" cy="665.6" r="1.35" fill="#000"/>
<circle cx="597.5" cy="686.9" r="1.35" fill="#000"/>
<circle cx="617.7" cy="682.4" r="1.35" fill="#000"/>
<circle cx="637.8" cy="674.5" r="1.35" fill="#000"/>
<circle cx="657.9" cy="670.6" r="1.35" fill="#000"/>
<circle cx="597.5" cy="688.0" r="1.35" fill="#000"/>
<circle cx="617.7" cy="684.1" r="1.35" fill="#000"/>
<circle cx="637.8" cy="675.7" r="1.35" fill="#000"/>
<circle cx="657.9" cy="671.7" r="1.35" fill="#000"/>
<circle cx="597.5" cy="688.6" r="1.35" fill="#000"/>
<circle cx="617.7" cy="685.8" r="1.35" fill="#000"/>
<circle cx="637.8" cy="680.1" r="1.35" fill="#000"/>
<circle cx="657.9" cy="675.7" r="1.35" fill="#000"/>
<circle cx="597.5" cy="689.1" r="1.35" fill="#000"/>
<circle cx="617.7" cy="686.9" r="1.35" fill="#000"/>
<circle cx="637.8" cy="680.7" r="1.35" fill="#000"/>
<circle cx="657.9" cy="678.5" r="1.35" fill="#000"/>
<circle cx="597.5" cy="690.2" r="1.35" fill="#000"/>
<circle cx="617.7" cy="687.4" r="1.35" fill="#000"/>
<circle cx="637.8" cy="680.7" r="1.35" fill="#000"/>
<circle cx="657.9" cy="681.8" r="1.35" fill="#000"/>
<circle cx="557.3" cy="703.7" r="1.2" fill="#000"/>
<line x1="557.30" y1="635.90" x2="557.30" y2="704.20" stroke="#333" stroke-width="1.1" />
<line x1="556.80" y1="703.70" x2="658.30" y2="703.70" stroke="#333" stroke-width="1.1" />
<line x1="554.30" y1="703.70" x2="557.30" y2="703.70" stroke="#333" stroke-width="1.0" />
<text x="553.10" y="706.30" font-size="7.1" font-weight="bold" text-anchor="end" fill="#111" >0</text>
<line x1="554.30" y1="686.88" x2="557.30" y2="686.88" stroke="#333" stroke-width="1.0" />
<text x="553.10" y="689.48" font-size="7.1" font-weight="bold" text-anchor="end" fill="#111" >300</text>
<line x1="554.30" y1="670.05" x2="557.30" y2="670.05" stroke="#333" stroke-width="1.0" />
<text x="553.10" y="672.65" font-size="7.1" font-weight="bold" text-anchor="end" fill="#111" >600</text>
<line x1="554.30" y1="653.23" x2="557.30" y2="653.23" stroke="#333" stroke-width="1.0" />
<text x="553.10" y="655.83" font-size="7.1" font-weight="bold" text-anchor="end" fill="#111" >900</text>
<line x1="554.30" y1="636.40" x2="557.30" y2="636.40" stroke="#333" stroke-width="1.0" />
<text x="553.10" y="639.00" font-size="7.1" font-weight="bold" text-anchor="end" fill="#111" >1200</text>
<line x1="557.30" y1="703.70" x2="557.30" y2="706.50" stroke="#333" stroke-width="1.0" />
<text x="557.30" y="712.80" font-size="7.1" font-weight="bold" text-anchor="middle" fill="#111" >0</text>
<line x1="582.45" y1="703.70" x2="582.45" y2="706.50" stroke="#333" stroke-width="1.0" />
<text x="582.45" y="712.80" font-size="7.1" font-weight="bold" text-anchor="middle" fill="#111" >5</text>
<line x1="607.60" y1="703.70" x2="607.60" y2="706.50" stroke="#333" stroke-width="1.0" />
<text x="607.60" y="712.80" font-size="7.1" font-weight="bold" text-anchor="middle" fill="#111" >10</text>
<line x1="632.75" y1="703.70" x2="632.75" y2="706.50" stroke="#333" stroke-width="1.0" />
<text x="632.75" y="712.80" font-size="7.1" font-weight="bold" text-anchor="middle" fill="#111" >15</text>
<line x1="657.90" y1="703.70" x2="657.90" y2="706.50" stroke="#333" stroke-width="1.0" />
<text x="657.90" y="712.80" font-size="7.1" font-weight="bold" text-anchor="middle" fill="#111" >20</text>
<text x="607.60" y="725.60" font-size="8.4" font-weight="bold" text-anchor="middle" fill="#111" >Days post-implantation</text>
<text x="607.80" y="634.60" font-size="6.3" font-weight="bold" text-anchor="middle" fill="#111" >EphB4 KO+Nilotinib</text>
<text transform="translate(535.4,668.5) rotate(-90)" font-size="8.4" font-weight="bold" text-anchor="middle" fill="#111">Tumor volume (mm<tspan font-size="5.5" dy="-3">3</tspan><tspan dy="3">)</tspan></text>
<rect x="87.60" y="855.79" width="15.30" height="35.81" fill="#0000f0" stroke="#000" stroke-width="1.6" />
<line x1="95.25" y1="855.79" x2="95.25" y2="852.10" stroke="#000" stroke-width="1.3" />
<line x1="92.05" y1="852.10" x2="98.45" y2="852.10" stroke="#000" stroke-width="1.3" />
<line x1="92.05" y1="855.79" x2="98.45" y2="855.79" stroke="#000" stroke-width="1.0" />
<circle cx="95.5" cy="835.6" r="1.5" fill="#000"/>
<circle cx="95.5" cy="847.9" r="1.5" fill="#000"/>
<circle cx="95.5" cy="853.2" r="1.5" fill="#000"/>
<circle cx="92.4" cy="858.4" r="1.5" fill="#000"/>
<circle cx="99.5" cy="858.4" r="1.5" fill="#000"/>
<circle cx="92.4" cy="862.4" r="1.5" fill="#000"/>
<circle cx="92.4" cy="866.1" r="1.5" fill="#000"/>
<circle cx="98.1" cy="865.3" r="1.5" fill="#000"/>
<line x1="95.25" y1="891.60" x2="95.25" y2="895.10" stroke="#000" stroke-width="1.2" />
<rect x="114.30" y="840.52" width="15.60" height="51.08" fill="#ff1080" stroke="#000" stroke-width="1.6" />
<line x1="122.10" y1="840.52" x2="122.10" y2="837.39" stroke="#000" stroke-width="1.3" />
<line x1="118.90" y1="837.39" x2="125.30" y2="837.39" stroke="#000" stroke-width="1.3" />
<line x1="118.90" y1="840.52" x2="125.30" y2="840.52" stroke="#000" stroke-width="1.0" />
<circle cx="122.1" cy="822.1" r="1.5" fill="#000"/>
<circle cx="122.1" cy="832.4" r="1.5" fill="#000"/>
<circle cx="116.3" cy="839.5" r="1.5" fill="#000"/>
<circle cx="122.1" cy="839.0" r="1.5" fill="#000"/>
<circle cx="127.9" cy="841.0" r="1.5" fill="#000"/>
<circle cx="122.1" cy="845.3" r="1.5" fill="#000"/>
<circle cx="119.2" cy="851.4" r="1.5" fill="#000"/>
<circle cx="124.9" cy="850.8" r="1.5" fill="#000"/>
<line x1="122.10" y1="891.60" x2="122.10" y2="895.10" stroke="#000" stroke-width="1.2" />
<line x1="77.60" y1="797.20" x2="77.60" y2="892.30" stroke="#000" stroke-width="1.4" />
<line x1="76.90" y1="891.60" x2="140.40" y2="891.60" stroke="#000" stroke-width="1.6" />
<line x1="73.60" y1="891.60" x2="77.60" y2="891.60" stroke="#000" stroke-width="1.3" />
<text x="72.30" y="895.20" font-size="10.0" font-weight="bold" text-anchor="end" fill="#000" >0</text>
<line x1="73.60" y1="860.30" x2="77.60" y2="860.30" stroke="#000" stroke-width="1.3" />
<text x="72.30" y="863.90" font-size="10.0" font-weight="bold" text-anchor="end" fill="#000" >500</text>
<line x1="73.60" y1="829.00" x2="77.60" y2="829.00" stroke="#000" stroke-width="1.3" />
<text x="72.30" y="832.60" font-size="10.0" font-weight="bold" text-anchor="end" fill="#000" >1000</text>
<line x1="73.60" y1="797.70" x2="77.60" y2="797.70" stroke="#000" stroke-width="1.3" />
<text x="72.30" y="801.30" font-size="10.0" font-weight="bold" text-anchor="end" fill="#000" >1500</text>
<path d="M96.4,814.7 H122.0" fill="none" stroke="#000" stroke-width="1.6"/>
<line x1="96.40" y1="810.90" x2="96.40" y2="819.00" stroke="#000" stroke-width="1.6" />
<line x1="122.00" y1="810.90" x2="122.00" y2="819.00" stroke="#000" stroke-width="1.6" />
<text x="109.50" y="813.80" font-size="7.5" font-weight="bold" text-anchor="middle" fill="#000" >**</text>
<text transform="translate(44.8,843) rotate(-90)" font-size="11.5" font-weight="bold" text-anchor="middle">Tumor volume (mm<tspan font-size="7.8" dy="-4.4">3</tspan><tspan dy="4.4">)</tspan></text>
<rect x="220.00" y="838.28" width="16.90" height="54.12" fill="#f5157e" stroke="#000" stroke-width="1.6" />
<line x1="228.45" y1="838.28" x2="228.45" y2="834.43" stroke="#000" stroke-width="1.3" />
<line x1="225.25" y1="834.43" x2="231.65" y2="834.43" stroke="#000" stroke-width="1.3" />
<line x1="225.25" y1="838.28" x2="231.65" y2="838.28" stroke="#000" stroke-width="1.0" />
<circle cx="228.4" cy="818.6" r="1.5" fill="#000"/>
<circle cx="228.4" cy="829.7" r="1.5" fill="#000"/>
<circle cx="222.5" cy="837.1" r="1.5" fill="#000"/>
<circle cx="228.4" cy="836.3" r="1.5" fill="#000"/>
<circle cx="234.7" cy="838.8" r="1.5" fill="#000"/>
<circle cx="228.4" cy="843.5" r="1.5" fill="#000"/>
<circle cx="225.5" cy="849.6" r="1.5" fill="#000"/>
<circle cx="231.6" cy="849.3" r="1.5" fill="#000"/>
<line x1="228.45" y1="892.40" x2="228.45" y2="895.90" stroke="#000" stroke-width="1.2" />
<rect x="248.80" y="855.42" width="16.50" height="36.98" fill="#a0a0a4" stroke="#000" stroke-width="1.6" />
<line x1="257.05" y1="855.42" x2="257.05" y2="851.63" stroke="#000" stroke-width="1.3" />
<line x1="253.85" y1="851.63" x2="260.25" y2="851.63" stroke="#000" stroke-width="1.3" />
<line x1="253.85" y1="855.42" x2="260.25" y2="855.42" stroke="#000" stroke-width="1.0" />
<circle cx="256.9" cy="837.4" r="1.5" fill="#000"/>
<circle cx="256.9" cy="847.1" r="1.5" fill="#000"/>
<circle cx="253.9" cy="854.3" r="1.5" fill="#000"/>
<circle cx="259.9" cy="853.2" r="1.5" fill="#000"/>
<circle cx="253.9" cy="859.5" r="1.5" fill="#000"/>
<circle cx="259.9" cy="859.3" r="1.5" fill="#000"/>
<circle cx="259.9" cy="863.4" r="1.5" fill="#000"/>
<circle cx="253.9" cy="866.0" r="1.5" fill="#000"/>
<line x1="257.05" y1="892.40" x2="257.05" y2="895.90" stroke="#000" stroke-width="1.2" />
<line x1="209.00" y1="792.30" x2="209.00" y2="893.10" stroke="#000" stroke-width="1.4" />
<line x1="208.30" y1="892.40" x2="276.50" y2="892.40" stroke="#000" stroke-width="1.6" />
<line x1="205.00" y1="892.40" x2="209.00" y2="892.40" stroke="#000" stroke-width="1.3" />
<text x="204.20" y="896.00" font-size="10.6" font-weight="bold" text-anchor="end" fill="#000" >0</text>
<line x1="205.00" y1="859.20" x2="209.00" y2="859.20" stroke="#000" stroke-width="1.3" />
<text x="204.20" y="862.80" font-size="10.6" font-weight="bold" text-anchor="end" fill="#000" >500</text>
<line x1="205.00" y1="826.00" x2="209.00" y2="826.00" stroke="#000" stroke-width="1.3" />
<text x="204.20" y="829.60" font-size="10.6" font-weight="bold" text-anchor="end" fill="#000" >1000</text>
<line x1="205.00" y1="792.80" x2="209.00" y2="792.80" stroke="#000" stroke-width="1.3" />
<text x="204.20" y="796.40" font-size="10.6" font-weight="bold" text-anchor="end" fill="#000" >1500</text>
<path d="M229.7,806.6 H258.4" fill="none" stroke="#000" stroke-width="1.6"/>
<line x1="229.70" y1="802.80" x2="229.70" y2="810.90" stroke="#000" stroke-width="1.6" />
<line x1="258.40" y1="802.80" x2="258.40" y2="810.90" stroke="#000" stroke-width="1.6" />
<text x="244.35" y="805.00" font-size="7.5" font-weight="bold" text-anchor="middle" fill="#000" >*</text>
<text transform="translate(175.0,839.5) rotate(-90)" font-size="12.2" font-weight="bold" text-anchor="middle">Tumor volume (mm<tspan font-size="8.3" dy="-4.6">3</tspan><tspan dy="4.6">)</tspan></text>
<rect x="311.60" y="851.90" width="12.60" height="6.20" fill="#0000f0" stroke="#000" stroke-width="1.2" />
<rect x="313.70" y="867.20" width="12.00" height="6.20" fill="#ff1080" stroke="#000" stroke-width="1.2" />
<rect x="313.70" y="882.10" width="12.00" height="6.40" fill="#6a6a6a" stroke="#000" stroke-width="1.2" />
<text x="330.20" y="858.30" font-size="8.55" font-weight="bold" text-anchor="start" fill="#000" >Control KO+Vehicle</text>
<text x="332.00" y="873.60" font-size="8.55" font-weight="bold" text-anchor="start" fill="#000" >EphB4 KO+Vehicle</text>
<text x="332.00" y="888.60" font-size="8.5" font-weight="bold" text-anchor="start" fill="#000" >EphB4 KO+Nilotinib</text>
</svg></body></html>
